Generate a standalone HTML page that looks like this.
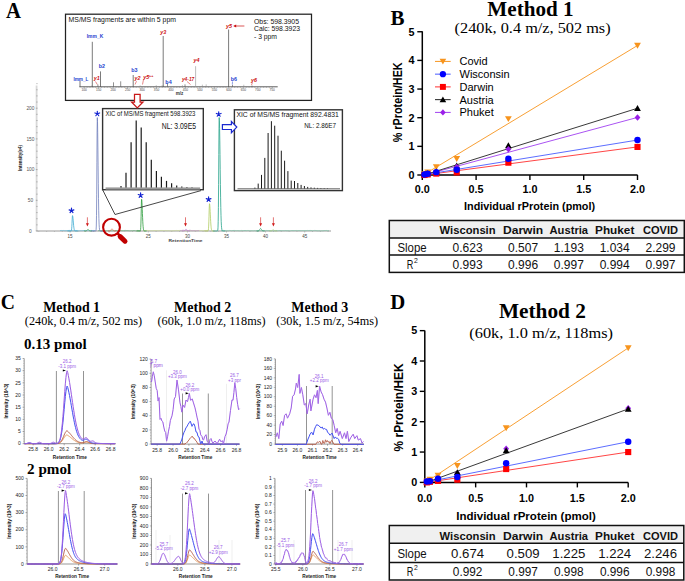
<!DOCTYPE html>
<html><head><meta charset="utf-8"><style>
html,body{margin:0;padding:0;background:#fff;width:685px;height:581px;overflow:hidden}
svg{display:block}
</style></head><body>
<svg width="685" height="581" viewBox="0 0 685 581">
<rect width="685" height="581" fill="#fff"/>
<text x="6.00" y="18.20" font-family="Liberation Serif" font-size="22.5" font-weight="bold" fill="#000" text-anchor="start" textLength="15.00" lengthAdjust="spacingAndGlyphs" >A</text>
<rect x="65.50" y="14.20" width="246.00" height="86.20" fill="#fff" stroke="#222" stroke-width="1.25" />
<text x="68.60" y="21.60" font-family="Liberation Sans" font-size="7.3" font-weight="normal" fill="#111" text-anchor="start" textLength="107.40" lengthAdjust="spacingAndGlyphs" >MS/MS fragments are within 5 ppm</text>
<text x="254.00" y="23.60" font-family="Liberation Sans" font-size="8" font-weight="normal" fill="#111" text-anchor="start" textLength="45.00" lengthAdjust="spacingAndGlyphs" >Obs: 598.3905</text>
<text x="254.00" y="31.30" font-family="Liberation Sans" font-size="8" font-weight="normal" fill="#111" text-anchor="start" textLength="46.00" lengthAdjust="spacingAndGlyphs" >Calc: 598.3923</text>
<text x="254.00" y="38.90" font-family="Liberation Sans" font-size="8" font-weight="normal" fill="#111" text-anchor="start" textLength="23.00" lengthAdjust="spacingAndGlyphs" >- 3 ppm</text>
<line x1="79.40" y1="86.80" x2="277.70" y2="86.80" stroke="#333" stroke-width="0.8" />
<line x1="84.20" y1="86.80" x2="84.20" y2="88.40" stroke="#777" stroke-width="0.5" />
<line x1="87.09" y1="86.80" x2="87.09" y2="87.70" stroke="#777" stroke-width="0.5" />
<line x1="89.99" y1="86.80" x2="89.99" y2="87.70" stroke="#777" stroke-width="0.5" />
<line x1="92.88" y1="86.80" x2="92.88" y2="87.70" stroke="#777" stroke-width="0.5" />
<line x1="95.77" y1="86.80" x2="95.77" y2="87.70" stroke="#777" stroke-width="0.5" />
<line x1="98.67" y1="86.80" x2="98.67" y2="88.40" stroke="#777" stroke-width="0.5" />
<line x1="101.56" y1="86.80" x2="101.56" y2="87.70" stroke="#777" stroke-width="0.5" />
<line x1="104.45" y1="86.80" x2="104.45" y2="87.70" stroke="#777" stroke-width="0.5" />
<line x1="107.34" y1="86.80" x2="107.34" y2="87.70" stroke="#777" stroke-width="0.5" />
<line x1="110.24" y1="86.80" x2="110.24" y2="87.70" stroke="#777" stroke-width="0.5" />
<line x1="113.13" y1="86.80" x2="113.13" y2="88.40" stroke="#777" stroke-width="0.5" />
<line x1="116.02" y1="86.80" x2="116.02" y2="87.70" stroke="#777" stroke-width="0.5" />
<line x1="118.92" y1="86.80" x2="118.92" y2="87.70" stroke="#777" stroke-width="0.5" />
<line x1="121.81" y1="86.80" x2="121.81" y2="87.70" stroke="#777" stroke-width="0.5" />
<line x1="124.70" y1="86.80" x2="124.70" y2="87.70" stroke="#777" stroke-width="0.5" />
<line x1="127.59" y1="86.80" x2="127.59" y2="88.40" stroke="#777" stroke-width="0.5" />
<line x1="130.49" y1="86.80" x2="130.49" y2="87.70" stroke="#777" stroke-width="0.5" />
<line x1="133.38" y1="86.80" x2="133.38" y2="87.70" stroke="#777" stroke-width="0.5" />
<line x1="136.27" y1="86.80" x2="136.27" y2="87.70" stroke="#777" stroke-width="0.5" />
<line x1="139.17" y1="86.80" x2="139.17" y2="87.70" stroke="#777" stroke-width="0.5" />
<line x1="142.06" y1="86.80" x2="142.06" y2="88.40" stroke="#777" stroke-width="0.5" />
<line x1="144.95" y1="86.80" x2="144.95" y2="87.70" stroke="#777" stroke-width="0.5" />
<line x1="147.85" y1="86.80" x2="147.85" y2="87.70" stroke="#777" stroke-width="0.5" />
<line x1="150.74" y1="86.80" x2="150.74" y2="87.70" stroke="#777" stroke-width="0.5" />
<line x1="153.63" y1="86.80" x2="153.63" y2="87.70" stroke="#777" stroke-width="0.5" />
<line x1="156.53" y1="86.80" x2="156.53" y2="88.40" stroke="#777" stroke-width="0.5" />
<line x1="159.42" y1="86.80" x2="159.42" y2="87.70" stroke="#777" stroke-width="0.5" />
<line x1="162.31" y1="86.80" x2="162.31" y2="87.70" stroke="#777" stroke-width="0.5" />
<line x1="165.20" y1="86.80" x2="165.20" y2="87.70" stroke="#777" stroke-width="0.5" />
<line x1="168.10" y1="86.80" x2="168.10" y2="87.70" stroke="#777" stroke-width="0.5" />
<line x1="170.99" y1="86.80" x2="170.99" y2="88.40" stroke="#777" stroke-width="0.5" />
<line x1="173.88" y1="86.80" x2="173.88" y2="87.70" stroke="#777" stroke-width="0.5" />
<line x1="176.78" y1="86.80" x2="176.78" y2="87.70" stroke="#777" stroke-width="0.5" />
<line x1="179.67" y1="86.80" x2="179.67" y2="87.70" stroke="#777" stroke-width="0.5" />
<line x1="182.56" y1="86.80" x2="182.56" y2="87.70" stroke="#777" stroke-width="0.5" />
<line x1="185.45" y1="86.80" x2="185.45" y2="88.40" stroke="#777" stroke-width="0.5" />
<line x1="188.35" y1="86.80" x2="188.35" y2="87.70" stroke="#777" stroke-width="0.5" />
<line x1="191.24" y1="86.80" x2="191.24" y2="87.70" stroke="#777" stroke-width="0.5" />
<line x1="194.13" y1="86.80" x2="194.13" y2="87.70" stroke="#777" stroke-width="0.5" />
<line x1="197.03" y1="86.80" x2="197.03" y2="87.70" stroke="#777" stroke-width="0.5" />
<line x1="199.92" y1="86.80" x2="199.92" y2="88.40" stroke="#777" stroke-width="0.5" />
<line x1="202.81" y1="86.80" x2="202.81" y2="87.70" stroke="#777" stroke-width="0.5" />
<line x1="205.71" y1="86.80" x2="205.71" y2="87.70" stroke="#777" stroke-width="0.5" />
<line x1="208.60" y1="86.80" x2="208.60" y2="87.70" stroke="#777" stroke-width="0.5" />
<line x1="211.49" y1="86.80" x2="211.49" y2="87.70" stroke="#777" stroke-width="0.5" />
<line x1="214.38" y1="86.80" x2="214.38" y2="88.40" stroke="#777" stroke-width="0.5" />
<line x1="217.28" y1="86.80" x2="217.28" y2="87.70" stroke="#777" stroke-width="0.5" />
<line x1="220.17" y1="86.80" x2="220.17" y2="87.70" stroke="#777" stroke-width="0.5" />
<line x1="223.06" y1="86.80" x2="223.06" y2="87.70" stroke="#777" stroke-width="0.5" />
<line x1="225.96" y1="86.80" x2="225.96" y2="87.70" stroke="#777" stroke-width="0.5" />
<line x1="228.85" y1="86.80" x2="228.85" y2="88.40" stroke="#777" stroke-width="0.5" />
<line x1="231.74" y1="86.80" x2="231.74" y2="87.70" stroke="#777" stroke-width="0.5" />
<line x1="234.64" y1="86.80" x2="234.64" y2="87.70" stroke="#777" stroke-width="0.5" />
<line x1="237.53" y1="86.80" x2="237.53" y2="87.70" stroke="#777" stroke-width="0.5" />
<line x1="240.42" y1="86.80" x2="240.42" y2="87.70" stroke="#777" stroke-width="0.5" />
<line x1="243.31" y1="86.80" x2="243.31" y2="88.40" stroke="#777" stroke-width="0.5" />
<line x1="246.21" y1="86.80" x2="246.21" y2="87.70" stroke="#777" stroke-width="0.5" />
<line x1="249.10" y1="86.80" x2="249.10" y2="87.70" stroke="#777" stroke-width="0.5" />
<line x1="251.99" y1="86.80" x2="251.99" y2="87.70" stroke="#777" stroke-width="0.5" />
<line x1="254.89" y1="86.80" x2="254.89" y2="87.70" stroke="#777" stroke-width="0.5" />
<line x1="257.78" y1="86.80" x2="257.78" y2="88.40" stroke="#777" stroke-width="0.5" />
<line x1="260.67" y1="86.80" x2="260.67" y2="87.70" stroke="#777" stroke-width="0.5" />
<line x1="263.57" y1="86.80" x2="263.57" y2="87.70" stroke="#777" stroke-width="0.5" />
<line x1="266.46" y1="86.80" x2="266.46" y2="87.70" stroke="#777" stroke-width="0.5" />
<line x1="269.35" y1="86.80" x2="269.35" y2="87.70" stroke="#777" stroke-width="0.5" />
<line x1="272.25" y1="86.80" x2="272.25" y2="88.40" stroke="#777" stroke-width="0.5" />
<text x="84.20" y="91.20" font-family="Liberation Sans" font-size="3.2" font-weight="normal" fill="#444" text-anchor="middle" >100</text>
<text x="98.67" y="91.20" font-family="Liberation Sans" font-size="3.2" font-weight="normal" fill="#444" text-anchor="middle" >150</text>
<text x="113.13" y="91.20" font-family="Liberation Sans" font-size="3.2" font-weight="normal" fill="#444" text-anchor="middle" >200</text>
<text x="127.59" y="91.20" font-family="Liberation Sans" font-size="3.2" font-weight="normal" fill="#444" text-anchor="middle" >250</text>
<text x="142.06" y="91.20" font-family="Liberation Sans" font-size="3.2" font-weight="normal" fill="#444" text-anchor="middle" >300</text>
<text x="156.53" y="91.20" font-family="Liberation Sans" font-size="3.2" font-weight="normal" fill="#444" text-anchor="middle" >350</text>
<text x="170.99" y="91.20" font-family="Liberation Sans" font-size="3.2" font-weight="normal" fill="#444" text-anchor="middle" >400</text>
<text x="185.45" y="91.20" font-family="Liberation Sans" font-size="3.2" font-weight="normal" fill="#444" text-anchor="middle" >450</text>
<text x="199.92" y="91.20" font-family="Liberation Sans" font-size="3.2" font-weight="normal" fill="#444" text-anchor="middle" >500</text>
<text x="214.38" y="91.20" font-family="Liberation Sans" font-size="3.2" font-weight="normal" fill="#444" text-anchor="middle" >550</text>
<text x="228.85" y="91.20" font-family="Liberation Sans" font-size="3.2" font-weight="normal" fill="#444" text-anchor="middle" >600</text>
<text x="243.31" y="91.20" font-family="Liberation Sans" font-size="3.2" font-weight="normal" fill="#444" text-anchor="middle" >650</text>
<text x="257.78" y="91.20" font-family="Liberation Sans" font-size="3.2" font-weight="normal" fill="#444" text-anchor="middle" >700</text>
<text x="272.25" y="91.20" font-family="Liberation Sans" font-size="3.2" font-weight="normal" fill="#444" text-anchor="middle" >750</text>
<text x="179.60" y="95.30" font-family="Liberation Sans" font-size="4.6" font-weight="bold" fill="#333" text-anchor="middle" >m/z</text>
<line x1="143.15" y1="86.80" x2="143.15" y2="86.79" stroke="#888" stroke-width="0.5" />
<line x1="206.93" y1="86.80" x2="206.93" y2="86.80" stroke="#888" stroke-width="0.5" />
<line x1="184.50" y1="86.80" x2="184.50" y2="86.68" stroke="#888" stroke-width="0.5" />
<line x1="91.31" y1="86.80" x2="91.31" y2="86.47" stroke="#888" stroke-width="0.5" />
<line x1="87.31" y1="86.80" x2="87.31" y2="86.60" stroke="#888" stroke-width="0.5" />
<line x1="93.62" y1="86.80" x2="93.62" y2="86.80" stroke="#888" stroke-width="0.5" />
<line x1="162.78" y1="86.80" x2="162.78" y2="85.39" stroke="#888" stroke-width="0.5" />
<line x1="104.14" y1="86.80" x2="104.14" y2="86.77" stroke="#888" stroke-width="0.5" />
<line x1="202.35" y1="86.80" x2="202.35" y2="84.67" stroke="#888" stroke-width="0.5" />
<line x1="192.54" y1="86.80" x2="192.54" y2="86.64" stroke="#888" stroke-width="0.5" />
<line x1="270.37" y1="86.80" x2="270.37" y2="86.80" stroke="#888" stroke-width="0.5" />
<line x1="247.40" y1="86.80" x2="247.40" y2="86.74" stroke="#888" stroke-width="0.5" />
<line x1="108.13" y1="86.80" x2="108.13" y2="86.80" stroke="#888" stroke-width="0.5" />
<line x1="140.15" y1="86.80" x2="140.15" y2="85.44" stroke="#888" stroke-width="0.5" />
<line x1="115.24" y1="86.80" x2="115.24" y2="86.31" stroke="#888" stroke-width="0.5" />
<line x1="204.59" y1="86.80" x2="204.59" y2="86.67" stroke="#888" stroke-width="0.5" />
<line x1="186.81" y1="86.80" x2="186.81" y2="86.80" stroke="#888" stroke-width="0.5" />
<line x1="91.62" y1="86.80" x2="91.62" y2="86.78" stroke="#888" stroke-width="0.5" />
<line x1="212.68" y1="86.80" x2="212.68" y2="86.60" stroke="#888" stroke-width="0.5" />
<line x1="141.26" y1="86.80" x2="141.26" y2="86.30" stroke="#888" stroke-width="0.5" />
<line x1="168.37" y1="86.80" x2="168.37" y2="86.73" stroke="#888" stroke-width="0.5" />
<line x1="234.90" y1="86.80" x2="234.90" y2="85.95" stroke="#888" stroke-width="0.5" />
<line x1="127.60" y1="86.80" x2="127.60" y2="86.33" stroke="#888" stroke-width="0.5" />
<line x1="182.41" y1="86.80" x2="182.41" y2="85.12" stroke="#888" stroke-width="0.5" />
<line x1="222.24" y1="86.80" x2="222.24" y2="86.74" stroke="#888" stroke-width="0.5" />
<line x1="271.13" y1="86.80" x2="271.13" y2="86.80" stroke="#888" stroke-width="0.5" />
<line x1="161.53" y1="86.80" x2="161.53" y2="85.71" stroke="#888" stroke-width="0.5" />
<line x1="109.64" y1="86.80" x2="109.64" y2="86.51" stroke="#888" stroke-width="0.5" />
<line x1="87.65" y1="86.80" x2="87.65" y2="86.05" stroke="#888" stroke-width="0.5" />
<line x1="229.09" y1="86.80" x2="229.09" y2="86.33" stroke="#888" stroke-width="0.5" />
<line x1="250.72" y1="86.80" x2="250.72" y2="86.72" stroke="#888" stroke-width="0.5" />
<line x1="215.58" y1="86.80" x2="215.58" y2="86.28" stroke="#888" stroke-width="0.5" />
<line x1="193.08" y1="86.80" x2="193.08" y2="86.56" stroke="#888" stroke-width="0.5" />
<line x1="243.79" y1="86.80" x2="243.79" y2="84.69" stroke="#888" stroke-width="0.5" />
<line x1="172.45" y1="86.80" x2="172.45" y2="86.07" stroke="#888" stroke-width="0.5" />
<line x1="91.83" y1="86.80" x2="91.83" y2="85.94" stroke="#888" stroke-width="0.5" />
<line x1="206.19" y1="86.80" x2="206.19" y2="84.35" stroke="#888" stroke-width="0.5" />
<line x1="240.28" y1="86.80" x2="240.28" y2="86.74" stroke="#888" stroke-width="0.5" />
<line x1="155.23" y1="86.80" x2="155.23" y2="86.05" stroke="#888" stroke-width="0.5" />
<line x1="84.40" y1="86.80" x2="84.40" y2="86.55" stroke="#888" stroke-width="0.5" />
<line x1="112.77" y1="86.80" x2="112.77" y2="86.80" stroke="#888" stroke-width="0.5" />
<line x1="91.50" y1="86.80" x2="91.50" y2="85.67" stroke="#888" stroke-width="0.5" />
<line x1="105.22" y1="86.80" x2="105.22" y2="86.76" stroke="#888" stroke-width="0.5" />
<line x1="156.24" y1="86.80" x2="156.24" y2="85.15" stroke="#888" stroke-width="0.5" />
<line x1="95.71" y1="86.80" x2="95.71" y2="86.57" stroke="#888" stroke-width="0.5" />
<line x1="80.00" y1="86.80" x2="80.00" y2="81.00" stroke="#333" stroke-width="0.65" />
<line x1="92.30" y1="86.80" x2="92.30" y2="41.80" stroke="#333" stroke-width="0.65" />
<line x1="100.50" y1="86.80" x2="100.50" y2="71.40" stroke="#333" stroke-width="0.65" />
<line x1="113.50" y1="86.80" x2="113.50" y2="82.30" stroke="#555" stroke-width="0.65" />
<line x1="120.70" y1="86.80" x2="120.70" y2="81.30" stroke="#555" stroke-width="0.65" />
<line x1="133.20" y1="86.80" x2="133.20" y2="75.00" stroke="#333" stroke-width="0.65" />
<line x1="163.20" y1="86.80" x2="163.20" y2="36.00" stroke="#333" stroke-width="0.65" />
<line x1="195.60" y1="86.80" x2="195.60" y2="66.20" stroke="#999" stroke-width="0.65" />
<line x1="228.60" y1="86.80" x2="228.60" y2="29.50" stroke="#333" stroke-width="0.65" />
<line x1="97.90" y1="86.80" x2="97.90" y2="84.50" stroke="#555" stroke-width="0.65" />
<line x1="167.50" y1="86.80" x2="167.50" y2="83.50" stroke="#555" stroke-width="0.65" />
<line x1="185.00" y1="86.80" x2="185.00" y2="84.30" stroke="#555" stroke-width="0.65" />
<line x1="232.50" y1="86.80" x2="232.50" y2="84.80" stroke="#555" stroke-width="0.65" />
<line x1="252.00" y1="86.80" x2="252.00" y2="85.50" stroke="#555" stroke-width="0.65" />
<text x="80.90" y="81.00" font-family="Liberation Sans" font-size="5.4" font-weight="bold" fill="#1f3fd0" text-anchor="middle" textLength="15.00" lengthAdjust="spacingAndGlyphs" >Imm_L</text>
<text x="96.80" y="80.40" font-family="Liberation Sans" font-size="5.4" font-weight="bold" fill="#cc1010" text-anchor="middle" font-style="italic">y1</text>
<line x1="95.50" y1="81.50" x2="97.30" y2="84.50" stroke="#cc1010" stroke-width="0.5" />
<text x="95.00" y="37.60" font-family="Liberation Sans" font-size="5.4" font-weight="bold" fill="#1f3fd0" text-anchor="middle" textLength="16.50" lengthAdjust="spacingAndGlyphs" >Imm_K</text>
<text x="101.90" y="68.30" font-family="Liberation Sans" font-size="5.4" font-weight="bold" fill="#1f3fd0" text-anchor="middle" >b2</text>
<text x="134.40" y="72.40" font-family="Liberation Sans" font-size="5.4" font-weight="bold" fill="#1f3fd0" text-anchor="middle" >b3</text>
<text x="137.40" y="80.10" font-family="Liberation Sans" font-size="5.4" font-weight="bold" fill="#cc1010" text-anchor="middle" font-style="italic">y2</text>
<line x1="136.50" y1="81.20" x2="135.00" y2="84.50" stroke="#cc1010" stroke-width="0.5" />
<text x="146.20" y="78.80" font-family="Liberation Sans" font-size="5.4" font-weight="bold" fill="#cc1010" text-anchor="middle" font-style="italic">y5</text>
<text x="151.20" y="76.60" font-family="Liberation Sans" font-size="3.6" font-weight="bold" fill="#cc1010" text-anchor="middle" >++</text>
<line x1="143.50" y1="79.50" x2="142.50" y2="84.50" stroke="#cc1010" stroke-width="0.5" />
<text x="163.20" y="33.50" font-family="Liberation Sans" font-size="5.4" font-weight="bold" fill="#cc1010" text-anchor="middle" font-style="italic">y3</text>
<text x="168.50" y="83.60" font-family="Liberation Sans" font-size="5.4" font-weight="bold" fill="#1f3fd0" text-anchor="middle" >b4</text>
<text x="188.10" y="80.50" font-family="Liberation Sans" font-size="5.4" font-weight="bold" fill="#cc1010" text-anchor="middle" textLength="12.30" lengthAdjust="spacingAndGlyphs" font-style="italic">y4-17</text>
<line x1="187.00" y1="81.50" x2="190.50" y2="84.50" stroke="#cc1010" stroke-width="0.5" />
<text x="196.60" y="62.10" font-family="Liberation Sans" font-size="5.4" font-weight="bold" fill="#cc1010" text-anchor="middle" font-style="italic">y4</text>
<text x="229.00" y="27.80" font-family="Liberation Sans" font-size="5.4" font-weight="bold" fill="#cc1010" text-anchor="middle" font-style="italic">y5</text>
<line x1="234.50" y1="26.00" x2="244.40" y2="26.00" stroke="#cc1010" stroke-width="0.7" />
<polygon points="233.20,26.00 236.20,24.60 236.20,27.40" fill="#cc1010" stroke="none" stroke-width="1" stroke-linejoin="miter" />
<text x="233.90" y="80.50" font-family="Liberation Sans" font-size="5.4" font-weight="bold" fill="#1f3fd0" text-anchor="middle" >b6</text>
<line x1="232.50" y1="81.50" x2="232.30" y2="84.50" stroke="#1f3fd0" stroke-width="0.5" />
<text x="254.00" y="81.60" font-family="Liberation Sans" font-size="5.4" font-weight="bold" fill="#cc1010" text-anchor="middle" font-style="italic">y6</text>
<line x1="252.50" y1="82.50" x2="251.50" y2="85.00" stroke="#cc1010" stroke-width="0.5" />
<line x1="36.60" y1="85.50" x2="36.60" y2="231.00" stroke="#d8d8d8" stroke-width="1.8" />
<line x1="35.80" y1="231.00" x2="37.60" y2="231.00" stroke="#777" stroke-width="0.5" />
<line x1="36.30" y1="224.86" x2="37.60" y2="224.86" stroke="#777" stroke-width="0.5" />
<line x1="36.30" y1="218.72" x2="37.60" y2="218.72" stroke="#777" stroke-width="0.5" />
<line x1="36.30" y1="212.58" x2="37.60" y2="212.58" stroke="#777" stroke-width="0.5" />
<line x1="36.30" y1="206.44" x2="37.60" y2="206.44" stroke="#777" stroke-width="0.5" />
<line x1="35.80" y1="200.30" x2="37.60" y2="200.30" stroke="#777" stroke-width="0.5" />
<line x1="36.30" y1="194.16" x2="37.60" y2="194.16" stroke="#777" stroke-width="0.5" />
<line x1="36.30" y1="188.02" x2="37.60" y2="188.02" stroke="#777" stroke-width="0.5" />
<line x1="36.30" y1="181.88" x2="37.60" y2="181.88" stroke="#777" stroke-width="0.5" />
<line x1="36.30" y1="175.74" x2="37.60" y2="175.74" stroke="#777" stroke-width="0.5" />
<line x1="35.80" y1="169.60" x2="37.60" y2="169.60" stroke="#777" stroke-width="0.5" />
<line x1="36.30" y1="163.46" x2="37.60" y2="163.46" stroke="#777" stroke-width="0.5" />
<line x1="36.30" y1="157.32" x2="37.60" y2="157.32" stroke="#777" stroke-width="0.5" />
<line x1="36.30" y1="151.18" x2="37.60" y2="151.18" stroke="#777" stroke-width="0.5" />
<line x1="36.30" y1="145.04" x2="37.60" y2="145.04" stroke="#777" stroke-width="0.5" />
<line x1="35.80" y1="138.90" x2="37.60" y2="138.90" stroke="#777" stroke-width="0.5" />
<line x1="36.30" y1="132.76" x2="37.60" y2="132.76" stroke="#777" stroke-width="0.5" />
<line x1="36.30" y1="126.62" x2="37.60" y2="126.62" stroke="#777" stroke-width="0.5" />
<line x1="36.30" y1="120.48" x2="37.60" y2="120.48" stroke="#777" stroke-width="0.5" />
<line x1="36.30" y1="114.34" x2="37.60" y2="114.34" stroke="#777" stroke-width="0.5" />
<line x1="35.80" y1="108.20" x2="37.60" y2="108.20" stroke="#777" stroke-width="0.5" />
<line x1="36.30" y1="102.06" x2="37.60" y2="102.06" stroke="#777" stroke-width="0.5" />
<line x1="36.30" y1="95.92" x2="37.60" y2="95.92" stroke="#777" stroke-width="0.5" />
<line x1="36.30" y1="89.78" x2="37.60" y2="89.78" stroke="#777" stroke-width="0.5" />
<line x1="36.30" y1="83.64" x2="37.60" y2="83.64" stroke="#777" stroke-width="0.5" />
<text x="30.40" y="232.70" font-family="Liberation Sans" font-size="4.8" font-weight="normal" fill="#555" text-anchor="middle" >0</text>
<text x="30.40" y="202.00" font-family="Liberation Sans" font-size="4.8" font-weight="normal" fill="#555" text-anchor="middle" >50</text>
<text x="30.40" y="171.30" font-family="Liberation Sans" font-size="4.8" font-weight="normal" fill="#555" text-anchor="middle" >100</text>
<text x="30.40" y="140.60" font-family="Liberation Sans" font-size="4.8" font-weight="normal" fill="#555" text-anchor="middle" >150</text>
<text x="30.40" y="109.90" font-family="Liberation Sans" font-size="4.8" font-weight="normal" fill="#555" text-anchor="middle" >200</text>
<line x1="36.60" y1="231.00" x2="331.00" y2="231.00" stroke="#999" stroke-width="1.0" />
<line x1="38.82" y1="231.00" x2="38.82" y2="231.90" stroke="#999" stroke-width="0.5" />
<line x1="46.64" y1="231.00" x2="46.64" y2="231.90" stroke="#999" stroke-width="0.5" />
<line x1="54.46" y1="231.00" x2="54.46" y2="231.90" stroke="#999" stroke-width="0.5" />
<line x1="62.28" y1="231.00" x2="62.28" y2="231.90" stroke="#999" stroke-width="0.5" />
<line x1="70.10" y1="231.00" x2="70.10" y2="232.60" stroke="#999" stroke-width="0.5" />
<line x1="77.92" y1="231.00" x2="77.92" y2="231.90" stroke="#999" stroke-width="0.5" />
<line x1="85.74" y1="231.00" x2="85.74" y2="231.90" stroke="#999" stroke-width="0.5" />
<line x1="93.56" y1="231.00" x2="93.56" y2="231.90" stroke="#999" stroke-width="0.5" />
<line x1="101.38" y1="231.00" x2="101.38" y2="231.90" stroke="#999" stroke-width="0.5" />
<line x1="109.20" y1="231.00" x2="109.20" y2="232.60" stroke="#999" stroke-width="0.5" />
<line x1="117.02" y1="231.00" x2="117.02" y2="231.90" stroke="#999" stroke-width="0.5" />
<line x1="124.84" y1="231.00" x2="124.84" y2="231.90" stroke="#999" stroke-width="0.5" />
<line x1="132.66" y1="231.00" x2="132.66" y2="231.90" stroke="#999" stroke-width="0.5" />
<line x1="140.48" y1="231.00" x2="140.48" y2="231.90" stroke="#999" stroke-width="0.5" />
<line x1="148.30" y1="231.00" x2="148.30" y2="232.60" stroke="#999" stroke-width="0.5" />
<line x1="156.12" y1="231.00" x2="156.12" y2="231.90" stroke="#999" stroke-width="0.5" />
<line x1="163.94" y1="231.00" x2="163.94" y2="231.90" stroke="#999" stroke-width="0.5" />
<line x1="171.76" y1="231.00" x2="171.76" y2="231.90" stroke="#999" stroke-width="0.5" />
<line x1="179.58" y1="231.00" x2="179.58" y2="231.90" stroke="#999" stroke-width="0.5" />
<line x1="187.40" y1="231.00" x2="187.40" y2="232.60" stroke="#999" stroke-width="0.5" />
<line x1="195.22" y1="231.00" x2="195.22" y2="231.90" stroke="#999" stroke-width="0.5" />
<line x1="203.04" y1="231.00" x2="203.04" y2="231.90" stroke="#999" stroke-width="0.5" />
<line x1="210.86" y1="231.00" x2="210.86" y2="231.90" stroke="#999" stroke-width="0.5" />
<line x1="218.68" y1="231.00" x2="218.68" y2="231.90" stroke="#999" stroke-width="0.5" />
<line x1="226.50" y1="231.00" x2="226.50" y2="232.60" stroke="#999" stroke-width="0.5" />
<line x1="234.32" y1="231.00" x2="234.32" y2="231.90" stroke="#999" stroke-width="0.5" />
<line x1="242.14" y1="231.00" x2="242.14" y2="231.90" stroke="#999" stroke-width="0.5" />
<line x1="249.96" y1="231.00" x2="249.96" y2="231.90" stroke="#999" stroke-width="0.5" />
<line x1="257.78" y1="231.00" x2="257.78" y2="231.90" stroke="#999" stroke-width="0.5" />
<line x1="265.60" y1="231.00" x2="265.60" y2="232.60" stroke="#999" stroke-width="0.5" />
<line x1="273.42" y1="231.00" x2="273.42" y2="231.90" stroke="#999" stroke-width="0.5" />
<line x1="281.24" y1="231.00" x2="281.24" y2="231.90" stroke="#999" stroke-width="0.5" />
<line x1="289.06" y1="231.00" x2="289.06" y2="231.90" stroke="#999" stroke-width="0.5" />
<line x1="296.88" y1="231.00" x2="296.88" y2="231.90" stroke="#999" stroke-width="0.5" />
<line x1="304.70" y1="231.00" x2="304.70" y2="232.60" stroke="#999" stroke-width="0.5" />
<line x1="312.52" y1="231.00" x2="312.52" y2="231.90" stroke="#999" stroke-width="0.5" />
<line x1="320.34" y1="231.00" x2="320.34" y2="231.90" stroke="#999" stroke-width="0.5" />
<line x1="328.16" y1="231.00" x2="328.16" y2="231.90" stroke="#999" stroke-width="0.5" />
<text x="70.10" y="237.80" font-family="Liberation Sans" font-size="4.5" font-weight="normal" fill="#444" text-anchor="middle" >15</text>
<text x="148.30" y="237.80" font-family="Liberation Sans" font-size="4.5" font-weight="normal" fill="#444" text-anchor="middle" >25</text>
<text x="187.40" y="237.80" font-family="Liberation Sans" font-size="4.5" font-weight="normal" fill="#444" text-anchor="middle" >30</text>
<text x="226.50" y="237.80" font-family="Liberation Sans" font-size="4.5" font-weight="normal" fill="#444" text-anchor="middle" >35</text>
<text x="265.60" y="237.80" font-family="Liberation Sans" font-size="4.5" font-weight="normal" fill="#444" text-anchor="middle" >40</text>
<text x="304.70" y="237.80" font-family="Liberation Sans" font-size="4.5" font-weight="normal" fill="#444" text-anchor="middle" >45</text>
<text x="185.50" y="241.80" font-family="Liberation Sans" font-size="4" font-weight="bold" fill="#444" text-anchor="middle" textLength="34.00" lengthAdjust="spacingAndGlyphs" >RetentionTime</text>
<text x="0" y="0" transform="translate(21.6,158) rotate(-90)" font-family="Liberation Sans" font-size="4.6" font-weight="bold" fill="#222" text-anchor="middle" textLength="26" lengthAdjust="spacingAndGlyphs">Intensity(e4)</text>
<polyline points="60.00,230.62 61.20,230.48 62.40,230.51 63.60,230.49 64.80,230.73 66.00,230.68 67.20,230.70 68.40,230.48 69.60,230.45 70.80,230.79 72.00,230.78 73.20,230.75 74.40,230.75 75.60,230.65 76.80,230.60 78.00,230.74 79.20,230.85 80.40,230.67 81.60,230.69 82.80,230.61 84.00,230.45 85.20,230.56 86.40,230.63 87.60,230.59 88.80,230.57 90.00,230.83 91.20,230.47 92.40,230.52 93.60,230.48 94.80,230.51" fill="none" stroke="#5ab8d8" stroke-width="0.6" stroke-linejoin="round" />
<polyline points="98.00,230.69 99.20,230.68 100.40,230.81 101.60,230.58 102.80,230.82 104.00,230.82 105.20,230.76 106.40,230.78 107.60,230.71 108.80,230.83 110.00,230.85 111.20,230.79 112.40,230.81 113.60,230.70 114.80,230.84 116.00,230.48 117.20,230.59 118.40,230.79 119.60,230.74 120.80,230.70 122.00,230.70 123.20,230.80 124.40,230.49 125.60,230.43 126.80,230.65 128.00,230.65 129.20,230.81 130.40,230.81 131.60,230.71 132.80,230.74 134.00,230.50 135.20,230.78 136.40,230.84 137.60,230.45 138.80,230.63 140.00,230.79" fill="none" stroke="#5aaa70" stroke-width="0.6" stroke-linejoin="round" />
<polyline points="143.00,230.62 144.20,230.84 145.40,230.63 146.60,230.44 147.80,230.49 149.00,230.56 150.20,230.74 151.40,230.70 152.60,230.78 153.80,230.53 155.00,230.63 156.20,230.52 157.40,230.71 158.60,230.76 159.80,230.51 161.00,230.44 162.20,230.49 163.40,230.51 164.60,230.51 165.80,230.54 167.00,230.75 168.20,230.63 169.40,230.70 170.60,230.84 171.80,230.84 173.00,230.73 174.20,230.74 175.40,230.56 176.60,230.45 177.80,230.66 179.00,230.46 180.20,230.44 181.40,230.45 182.60,230.70 183.80,230.76 185.00,230.75 186.20,230.77 187.40,230.76 188.60,230.59 189.80,230.47 191.00,230.50 192.20,230.65 193.40,230.58 194.60,230.51 195.80,230.81 197.00,230.57 198.20,230.47 199.40,230.52 200.60,230.53 201.80,230.65 203.00,230.78 204.20,230.52 205.40,230.71 206.60,230.51 207.80,230.44" fill="none" stroke="#c8d890" stroke-width="0.6" stroke-linejoin="round" />
<polyline points="221.00,230.68 222.20,230.68 223.40,230.45 224.60,230.55 225.80,230.78 227.00,230.80 228.20,230.79 229.40,230.47 230.60,230.51 231.80,230.79 233.00,230.50 234.20,230.44 235.40,230.57 236.60,230.70 237.80,230.62 239.00,230.79 240.20,230.84 241.40,230.44 242.60,230.58 243.80,230.63 245.00,230.46 246.20,230.67 247.40,230.48 248.60,230.50 249.80,230.76 251.00,230.74 252.20,230.73 253.40,230.75 254.60,230.60 255.80,230.74 257.00,230.67 258.20,230.79 259.40,230.47 260.60,230.70 261.80,230.66 263.00,230.60 264.20,230.47 265.40,230.67 266.60,230.46 267.80,230.64 269.00,230.63 270.20,230.63 271.40,230.84 272.60,230.67 273.80,230.77 275.00,230.85 276.20,230.51 277.40,230.78 278.60,230.65 279.80,230.55 281.00,230.62 282.20,230.71 283.40,230.63 284.60,230.62 285.80,230.52 287.00,230.81 288.20,230.61 289.40,230.75 290.60,230.73 291.80,230.53 293.00,230.64 294.20,230.61 295.40,230.53 296.60,230.47 297.80,230.66 299.00,230.59 300.20,230.64 301.40,230.63 302.60,230.56 303.80,230.66 305.00,230.63 306.20,230.65 307.40,230.45 308.60,230.56 309.80,230.48 311.00,230.45 312.20,230.74 313.40,230.62 314.60,230.45 315.80,230.50 317.00,230.79 318.20,230.80 319.40,230.66 320.60,230.82 321.80,230.75 323.00,230.82 324.20,230.57 325.40,230.52 326.60,230.47 327.80,230.79 329.00,230.55" fill="none" stroke="#70c0a0" stroke-width="0.6" stroke-linejoin="round" />
<polyline points="180.00,230.43 181.20,230.76 182.40,230.29 183.60,230.24 184.80,230.71 186.00,230.25 187.20,230.60 188.40,230.54 189.60,230.23 190.80,230.33 192.00,230.75 193.20,230.58 194.40,230.53 195.60,230.64 196.80,230.73 198.00,230.65 199.20,230.40" fill="none" stroke="#c090d0" stroke-width="0.6" stroke-linejoin="round" />
<polyline points="84.00,231.00 84.13,231.00 84.27,231.00 84.40,231.00 84.53,231.00 84.67,231.00 84.80,231.00 84.93,231.00 85.07,231.00 85.20,231.00 85.33,230.99 85.47,230.99 85.60,230.98 85.73,230.97 85.87,230.95 86.00,230.93 86.13,230.89 86.27,230.84 86.40,230.77 86.53,230.68 86.67,230.58 86.80,230.45 86.93,230.30 87.07,230.14 87.20,229.97 87.33,229.80 87.47,229.64 87.60,229.50 87.73,229.39 87.87,229.32 88.00,229.30 88.13,229.32 88.27,229.39 88.40,229.50 88.53,229.64 88.67,229.80 88.80,229.97 88.93,230.14 89.07,230.30 89.20,230.45 89.33,230.58 89.47,230.68 89.60,230.77 89.73,230.84 89.87,230.89 90.00,230.93 90.13,230.95 90.27,230.97 90.40,230.98 90.53,230.99 90.67,230.99 90.80,231.00 90.93,231.00 91.07,231.00 91.20,231.00 91.33,231.00 91.47,231.00 91.60,231.00 91.73,231.00 91.87,231.00 92.00,231.00" fill="none" stroke="#40a050" stroke-width="0.7" stroke-linejoin="round" />
<polyline points="108.00,231.00 108.13,231.00 108.27,231.00 108.40,231.00 108.53,231.00 108.67,231.00 108.80,231.00 108.93,231.00 109.07,231.00 109.20,231.00 109.33,230.99 109.47,230.99 109.60,230.98 109.73,230.96 109.87,230.94 110.00,230.90 110.13,230.86 110.27,230.79 110.40,230.70 110.53,230.59 110.67,230.45 110.80,230.29 110.93,230.10 111.07,229.89 111.20,229.67 111.33,229.45 111.47,229.24 111.60,229.06 111.73,228.92 111.87,228.83 112.00,228.80 112.13,228.83 112.27,228.92 112.40,229.06 112.53,229.24 112.67,229.45 112.80,229.67 112.93,229.89 113.07,230.10 113.20,230.29 113.33,230.45 113.47,230.59 113.60,230.70 113.73,230.79 113.87,230.86 114.00,230.90 114.13,230.94 114.27,230.96 114.40,230.98 114.53,230.99 114.67,230.99 114.80,231.00 114.93,231.00 115.07,231.00 115.20,231.00 115.33,231.00 115.47,231.00 115.60,231.00 115.73,231.00 115.87,231.00 116.00,231.00" fill="none" stroke="#e07050" stroke-width="0.7" stroke-linejoin="round" />
<polyline points="182.00,231.00 182.13,231.00 182.27,231.00 182.40,231.00 182.53,231.00 182.67,231.00 182.80,231.00 182.93,230.99 183.07,230.99 183.20,230.99 183.33,230.98 183.47,230.97 183.60,230.95 183.73,230.92 183.87,230.89 184.00,230.85 184.13,230.79 184.27,230.72 184.40,230.63 184.53,230.52 184.67,230.40 184.80,230.26 184.93,230.11 185.07,229.95 185.20,229.79 185.33,229.63 185.47,229.49 185.60,229.37 185.73,229.28 185.87,229.22 186.00,229.20 186.13,229.22 186.27,229.28 186.40,229.37 186.53,229.49 186.67,229.63 186.80,229.79 186.93,229.95 187.07,230.11 187.20,230.26 187.33,230.40 187.47,230.52 187.60,230.63 187.73,230.72 187.87,230.79 188.00,230.85 188.13,230.89 188.27,230.92 188.40,230.95 188.53,230.97 188.67,230.98 188.80,230.99 188.93,230.99 189.07,230.99 189.20,231.00 189.33,231.00 189.47,231.00 189.60,231.00 189.73,231.00 189.87,231.00 190.00,231.00" fill="none" stroke="#c080d0" stroke-width="0.7" stroke-linejoin="round" />
<polyline points="256.60,231.00 256.73,231.00 256.87,231.00 257.00,231.00 257.13,231.00 257.27,231.00 257.40,231.00 257.53,230.99 257.67,230.99 257.80,230.98 257.93,230.97 258.07,230.95 258.20,230.93 258.33,230.90 258.47,230.85 258.60,230.79 258.73,230.71 258.87,230.61 259.00,230.49 259.13,230.34 259.27,230.17 259.40,229.97 259.53,229.76 259.67,229.54 259.80,229.32 259.93,229.10 260.07,228.90 260.20,228.74 260.33,228.61 260.47,228.53 260.60,228.50 260.73,228.53 260.87,228.61 261.00,228.74 261.13,228.90 261.27,229.10 261.40,229.32 261.53,229.54 261.67,229.76 261.80,229.97 261.93,230.17 262.07,230.34 262.20,230.49 262.33,230.61 262.47,230.71 262.60,230.79 262.73,230.85 262.87,230.90 263.00,230.93 263.13,230.95 263.27,230.97 263.40,230.98 263.53,230.99 263.67,230.99 263.80,231.00 263.93,231.00 264.07,231.00 264.20,231.00 264.33,231.00 264.47,231.00 264.60,231.00" fill="none" stroke="#30a070" stroke-width="0.8" stroke-linejoin="round" />
<polyline points="269.20,231.00 269.33,231.00 269.47,231.00 269.60,231.00 269.73,231.00 269.87,231.00 270.00,231.00 270.13,231.00 270.27,231.00 270.40,231.00 270.53,230.99 270.67,230.99 270.80,230.98 270.93,230.97 271.07,230.96 271.20,230.94 271.33,230.91 271.47,230.87 271.60,230.81 271.73,230.74 271.87,230.65 272.00,230.55 272.13,230.42 272.27,230.29 272.40,230.15 272.53,230.01 272.67,229.88 272.80,229.76 272.93,229.68 273.07,229.62 273.20,229.60 273.33,229.62 273.47,229.68 273.60,229.76 273.73,229.88 273.87,230.01 274.00,230.15 274.13,230.29 274.27,230.42 274.40,230.55 274.53,230.65 274.67,230.74 274.80,230.81 274.93,230.87 275.07,230.91 275.20,230.94 275.33,230.96 275.47,230.97 275.60,230.98 275.73,230.99 275.87,230.99 276.00,231.00 276.13,231.00 276.27,231.00 276.40,231.00 276.53,231.00 276.67,231.00 276.80,231.00 276.93,231.00 277.07,231.00 277.20,231.00" fill="none" stroke="#b0d080" stroke-width="0.7" stroke-linejoin="round" />
<polyline points="67.50,231.00 67.67,231.00 67.83,231.00 68.00,231.00 68.17,231.00 68.33,231.00 68.50,231.00 68.67,231.00 68.83,231.00 69.00,231.00 69.17,231.00 69.33,231.00 69.50,231.00 69.67,231.00 69.83,231.00 70.00,231.00 70.17,231.00 70.33,231.00 70.50,231.00 70.67,231.00 70.83,230.99 71.00,230.97 71.17,230.90 71.33,230.67 71.50,230.10 71.67,228.85 71.83,226.63 72.00,223.42 72.17,219.76 72.33,216.77 72.50,215.60 72.67,215.93 72.83,216.89 73.00,218.34 73.17,220.14 73.33,222.07 73.50,223.98 73.67,225.71 73.83,227.19 74.00,228.37 74.17,229.26 74.33,229.90 74.50,230.33 74.67,230.61 74.83,230.79 75.00,230.89 75.17,230.94 75.33,230.97 75.50,230.99 75.67,230.99 75.83,231.00 76.00,231.00 76.17,231.00 76.33,231.00 76.50,231.00 76.67,231.00 76.83,231.00 77.00,231.00 77.17,231.00 77.33,231.00 77.50,231.00" fill="none" stroke="#3aaad0" stroke-width="0.8" stroke-linejoin="round" />
<polyline points="91.30,231.00 91.50,231.00 91.70,231.00 91.90,231.00 92.10,231.00 92.30,231.00 92.50,231.00 92.70,231.00 92.90,231.00 93.10,231.00 93.30,231.00 93.50,231.00 93.70,231.00 93.90,231.00 94.10,231.00 94.30,231.00 94.50,231.00 94.70,231.00 94.90,231.00 95.10,231.00 95.30,231.00 95.50,231.00 95.70,230.96 95.90,230.75 96.10,229.74 96.30,226.02 96.50,215.65 96.70,194.18 96.90,162.22 97.10,130.92 97.30,117.60 97.50,121.46 97.70,132.27 97.90,147.96 98.10,165.84 98.30,183.28 98.50,198.40 98.70,210.21 98.90,218.64 99.10,224.14 99.30,227.45 99.50,229.28 99.70,230.23 99.90,230.67 100.10,230.87 100.30,230.95 100.50,230.98 100.70,230.99 100.90,231.00 101.10,231.00 101.30,231.00 101.50,231.00 101.70,231.00 101.90,231.00 102.10,231.00 102.30,231.00 102.50,231.00 102.70,231.00 102.90,231.00 103.10,231.00 103.30,231.00" fill="none" stroke="#6878b8" stroke-width="0.75" stroke-linejoin="round" />
<polyline points="136.60,231.00 136.77,231.00 136.93,231.00 137.10,231.00 137.27,231.00 137.43,231.00 137.60,231.00 137.77,231.00 137.93,231.00 138.10,231.00 138.27,231.00 138.43,231.00 138.60,231.00 138.77,231.00 138.93,231.00 139.10,231.00 139.27,231.00 139.43,231.00 139.60,231.00 139.77,231.00 139.93,230.99 140.10,230.97 140.27,230.88 140.43,230.55 140.60,229.61 140.77,227.38 140.93,223.10 141.10,216.49 141.27,208.60 141.43,201.94 141.60,199.30 141.77,200.05 141.93,202.21 142.10,205.47 142.27,209.42 142.43,213.62 142.60,217.66 142.77,221.24 142.93,224.20 143.10,226.48 143.27,228.14 143.43,229.27 143.60,230.01 143.77,230.46 143.93,230.72 144.10,230.86 144.27,230.93 144.43,230.97 144.60,230.99 144.77,230.99 144.93,231.00 145.10,231.00 145.27,231.00 145.43,231.00 145.60,231.00 145.77,231.00 145.93,231.00 146.10,231.00 146.27,231.00 146.43,231.00 146.60,231.00" fill="none" stroke="#2a9a3a" stroke-width="0.8" stroke-linejoin="round" />
<polyline points="204.50,231.00 204.67,231.00 204.83,231.00 205.00,231.00 205.17,231.00 205.33,231.00 205.50,231.00 205.67,231.00 205.83,231.00 206.00,231.00 206.17,231.00 206.33,231.00 206.50,231.00 206.67,231.00 206.83,231.00 207.00,231.00 207.17,231.00 207.33,231.00 207.50,231.00 207.67,230.99 207.83,230.97 208.00,230.89 208.17,230.66 208.33,230.05 208.50,228.69 208.67,226.09 208.83,221.89 209.00,216.27 209.17,210.25 209.33,205.51 209.50,203.70 209.67,204.27 209.83,205.92 210.00,208.44 210.17,211.54 210.33,214.92 210.50,218.26 210.67,221.32 210.83,223.96 211.00,226.09 211.17,227.71 211.33,228.89 211.50,229.70 211.67,230.24 211.83,230.57 212.00,230.77 212.17,230.88 212.33,230.94 212.50,230.97 212.67,230.99 212.83,230.99 213.00,231.00 213.17,231.00 213.33,231.00 213.50,231.00 213.67,231.00 213.83,231.00 214.00,231.00 214.17,231.00 214.33,231.00 214.50,231.00" fill="none" stroke="#b0cc60" stroke-width="0.8" stroke-linejoin="round" />
<polyline points="213.20,231.00 213.40,231.00 213.60,231.00 213.80,231.00 214.00,231.00 214.20,231.00 214.40,231.00 214.60,231.00 214.80,231.00 215.00,231.00 215.20,231.00 215.40,231.00 215.60,231.00 215.80,231.00 216.00,231.00 216.20,231.00 216.40,231.00 216.60,231.00 216.80,231.00 217.00,231.00 217.20,230.99 217.40,230.96 217.60,230.80 217.80,230.10 218.00,227.76 218.20,221.39 218.40,207.63 218.60,184.34 218.80,154.54 219.00,128.17 219.20,117.50 219.40,120.27 219.60,128.17 219.80,140.12 220.00,154.54 220.20,169.78 220.40,184.34 220.60,197.15 220.80,207.63 221.00,215.64 221.20,221.39 221.40,225.28 221.60,227.76 221.80,229.25 222.00,230.10 222.20,230.56 222.40,230.80 222.60,230.91 222.80,230.96 223.00,230.98 223.20,230.99 223.40,231.00 223.60,231.00 223.80,231.00 224.00,231.00 224.20,231.00 224.40,231.00 224.60,231.00 224.80,231.00 225.00,231.00 225.20,231.00" fill="none" stroke="#30a890" stroke-width="0.85" stroke-linejoin="round" />
<path d="M71.50,210.60L71.50,208.10M71.50,210.60L73.88,209.83M71.50,210.60L72.97,212.62M71.50,210.60L70.03,212.62M71.50,210.60L69.12,209.83" stroke="#1020d0" stroke-width="1.15" stroke-linecap="round" fill="none"/>
<path d="M97.30,113.70L97.30,111.20M97.30,113.70L99.68,112.93M97.30,113.70L98.77,115.72M97.30,113.70L95.83,115.72M97.30,113.70L94.92,112.93" stroke="#1020d0" stroke-width="1.15" stroke-linecap="round" fill="none"/>
<path d="M140.60,195.30L140.60,192.80M140.60,195.30L142.98,194.53M140.60,195.30L142.07,197.32M140.60,195.30L139.13,197.32M140.60,195.30L138.22,194.53" stroke="#1020d0" stroke-width="1.15" stroke-linecap="round" fill="none"/>
<path d="M208.60,199.40L208.60,196.90M208.60,199.40L210.98,198.63M208.60,199.40L210.07,201.42M208.60,199.40L207.13,201.42M208.60,199.40L206.22,198.63" stroke="#1020d0" stroke-width="1.15" stroke-linecap="round" fill="none"/>
<path d="M218.70,114.20L218.70,111.70M218.70,114.20L221.08,113.43M218.70,114.20L220.17,116.22M218.70,114.20L217.23,116.22M218.70,114.20L216.32,113.43" stroke="#1020d0" stroke-width="1.15" stroke-linecap="round" fill="none"/>
<line x1="87.40" y1="217.30" x2="87.40" y2="224.00" stroke="#d01818" stroke-width="0.6" />
<polygon points="85.90,223.20 88.90,223.20 87.40,226.60" fill="#d01818" stroke="none" stroke-width="1" stroke-linejoin="miter" />
<line x1="185.50" y1="217.30" x2="185.50" y2="224.00" stroke="#d01818" stroke-width="0.6" />
<polygon points="184.00,223.20 187.00,223.20 185.50,226.60" fill="#d01818" stroke="none" stroke-width="1" stroke-linejoin="miter" />
<line x1="260.60" y1="217.30" x2="260.60" y2="224.00" stroke="#d01818" stroke-width="0.6" />
<polygon points="259.10,223.20 262.10,223.20 260.60,226.60" fill="#d01818" stroke="none" stroke-width="1" stroke-linejoin="miter" />
<line x1="273.40" y1="217.30" x2="273.40" y2="224.00" stroke="#d01818" stroke-width="0.6" />
<polygon points="271.90,223.20 274.90,223.20 273.40,226.60" fill="#d01818" stroke="none" stroke-width="1" stroke-linejoin="miter" />
<polyline points="102.60,189.70 115.00,214.50 201.00,190.60" fill="none" stroke="#333" stroke-width="0.9" stroke-linejoin="round" />
<rect x="102.60" y="108.60" width="100.70" height="81.10" fill="#fff" stroke="#333" stroke-width="1.4" />
<text x="105.40" y="116.00" font-family="Liberation Sans" font-size="7.2" font-weight="normal" fill="#111" text-anchor="start" textLength="90.00" lengthAdjust="spacingAndGlyphs" >XIC of MS/MS fragment 598.3923</text>
<text x="161.80" y="129.20" font-family="Liberation Sans" font-size="8.2" font-weight="normal" fill="#111" text-anchor="start" textLength="34.20" lengthAdjust="spacingAndGlyphs" >NL: 3.09E5</text>
<line x1="121.00" y1="188.00" x2="121.00" y2="186.00" stroke="#1a1a1a" stroke-width="1.2" />
<line x1="126.00" y1="188.00" x2="126.00" y2="172.80" stroke="#1a1a1a" stroke-width="1.2" />
<line x1="131.10" y1="188.00" x2="131.10" y2="142.30" stroke="#1a1a1a" stroke-width="1.2" />
<line x1="136.20" y1="188.00" x2="136.20" y2="120.50" stroke="#1a1a1a" stroke-width="1.2" />
<line x1="141.20" y1="188.00" x2="141.20" y2="127.40" stroke="#1a1a1a" stroke-width="1.2" />
<line x1="146.20" y1="188.00" x2="146.20" y2="142.30" stroke="#1a1a1a" stroke-width="1.2" />
<line x1="151.30" y1="188.00" x2="151.30" y2="159.80" stroke="#1a1a1a" stroke-width="1.2" />
<line x1="156.40" y1="188.00" x2="156.40" y2="171.00" stroke="#1a1a1a" stroke-width="1.2" />
<line x1="161.40" y1="188.00" x2="161.40" y2="176.80" stroke="#1a1a1a" stroke-width="1.2" />
<line x1="166.50" y1="188.00" x2="166.50" y2="180.90" stroke="#1a1a1a" stroke-width="1.2" />
<line x1="171.60" y1="188.00" x2="171.60" y2="183.30" stroke="#1a1a1a" stroke-width="1.2" />
<line x1="176.70" y1="188.00" x2="176.70" y2="185.40" stroke="#1a1a1a" stroke-width="1.2" />
<line x1="181.80" y1="188.00" x2="181.80" y2="186.40" stroke="#1a1a1a" stroke-width="1.2" />
<line x1="186.90" y1="188.00" x2="186.90" y2="187.00" stroke="#1a1a1a" stroke-width="1.2" />
<line x1="192.00" y1="188.00" x2="192.00" y2="187.30" stroke="#1a1a1a" stroke-width="1.2" />
<rect x="105.60" y="187.40" width="94.60" height="2.20" fill="#9a9a9a" stroke="none" stroke-width="1" />
<rect x="234.40" y="109.80" width="108.00" height="80.80" fill="#fff" stroke="#333" stroke-width="1.4" />
<text x="236.40" y="117.20" font-family="Liberation Sans" font-size="7.2" font-weight="normal" fill="#111" text-anchor="start" textLength="102.40" lengthAdjust="spacingAndGlyphs" >XIC of MS/MS fragment 892.4831</text>
<text x="304.30" y="128.20" font-family="Liberation Sans" font-size="7.4" font-weight="normal" fill="#111" text-anchor="start" textLength="31.70" lengthAdjust="spacingAndGlyphs" >NL: 2.86E7</text>
<line x1="254.90" y1="188.80" x2="254.90" y2="187.60" stroke="#1a1a1a" stroke-width="1.0" />
<line x1="258.20" y1="188.80" x2="258.20" y2="183.60" stroke="#1a1a1a" stroke-width="1.0" />
<line x1="261.50" y1="188.80" x2="261.50" y2="174.90" stroke="#1a1a1a" stroke-width="1.0" />
<line x1="264.80" y1="188.80" x2="264.80" y2="157.90" stroke="#1a1a1a" stroke-width="1.0" />
<line x1="268.10" y1="188.80" x2="268.10" y2="133.00" stroke="#1a1a1a" stroke-width="1.0" />
<line x1="271.40" y1="188.80" x2="271.40" y2="121.20" stroke="#1a1a1a" stroke-width="1.0" />
<line x1="274.70" y1="188.80" x2="274.70" y2="125.70" stroke="#1a1a1a" stroke-width="1.0" />
<line x1="278.00" y1="188.80" x2="278.00" y2="135.70" stroke="#1a1a1a" stroke-width="1.0" />
<line x1="281.30" y1="188.80" x2="281.30" y2="150.70" stroke="#1a1a1a" stroke-width="1.0" />
<line x1="284.60" y1="188.80" x2="284.60" y2="160.70" stroke="#1a1a1a" stroke-width="1.0" />
<line x1="287.90" y1="188.80" x2="287.90" y2="171.10" stroke="#1a1a1a" stroke-width="1.0" />
<line x1="291.20" y1="188.80" x2="291.20" y2="180.60" stroke="#1a1a1a" stroke-width="1.0" />
<line x1="294.50" y1="188.80" x2="294.50" y2="181.00" stroke="#1a1a1a" stroke-width="1.0" />
<line x1="297.80" y1="188.80" x2="297.80" y2="183.00" stroke="#1a1a1a" stroke-width="1.0" />
<line x1="301.10" y1="188.80" x2="301.10" y2="184.90" stroke="#1a1a1a" stroke-width="1.0" />
<line x1="304.40" y1="188.80" x2="304.40" y2="186.00" stroke="#1a1a1a" stroke-width="1.0" />
<line x1="307.70" y1="188.80" x2="307.70" y2="186.90" stroke="#1a1a1a" stroke-width="1.0" />
<line x1="311.00" y1="188.80" x2="311.00" y2="187.40" stroke="#1a1a1a" stroke-width="1.0" />
<line x1="314.30" y1="188.80" x2="314.30" y2="187.70" stroke="#1a1a1a" stroke-width="1.0" />
<line x1="317.60" y1="188.80" x2="317.60" y2="187.90" stroke="#1a1a1a" stroke-width="1.0" />
<line x1="320.90" y1="188.80" x2="320.90" y2="188.10" stroke="#1a1a1a" stroke-width="1.0" />
<line x1="324.20" y1="188.80" x2="324.20" y2="188.20" stroke="#1a1a1a" stroke-width="1.0" />
<line x1="327.50" y1="188.80" x2="327.50" y2="188.30" stroke="#1a1a1a" stroke-width="1.0" />
<line x1="237.50" y1="188.80" x2="340.00" y2="188.80" stroke="#555" stroke-width="0.9" />
<polygon points="134.50,94.40 140.10,94.40 140.10,102.00 143.00,102.00 137.30,107.90 131.60,102.00 134.50,102.00" fill="#fff" stroke="#c81818" stroke-width="1.25" stroke-linejoin="miter" />
<polygon points="222.40,124.60 231.40,124.60 231.40,121.50 236.80,127.10 231.40,132.70 231.40,129.50 222.40,129.50" fill="#fff" stroke="#1a28d0" stroke-width="1.2" stroke-linejoin="miter" />
<circle cx="111.5" cy="227.2" r="8.4" fill="none" stroke="#c00000" stroke-width="2.1"/>
<line x1="117.40" y1="233.10" x2="120.50" y2="236.60" stroke="#c00000" stroke-width="2.6" />
<line x1="120.20" y1="236.60" x2="125.00" y2="241.20" stroke="#c00000" stroke-width="5.0" stroke-linecap="round"/>
<text x="390.40" y="25.00" font-family="Liberation Serif" font-size="20.5" font-weight="bold" fill="#000" text-anchor="start" textLength="14.00" lengthAdjust="spacingAndGlyphs" >B</text>
<text x="487.30" y="16.20" font-family="Liberation Serif" font-size="21" font-weight="bold" fill="#000" text-anchor="start" textLength="86.30" lengthAdjust="spacingAndGlyphs" >Method 1</text>
<text x="454.60" y="32.80" font-family="Liberation Serif" font-size="15" font-weight="normal" fill="#000" text-anchor="start" textLength="156.00" lengthAdjust="spacingAndGlyphs" >(240k, 0.4 m/z, 502 ms)</text>
<line x1="422.30" y1="31.30" x2="422.30" y2="175.75" stroke="#000" stroke-width="1.5" />
<line x1="421.55" y1="175.00" x2="637.60" y2="175.00" stroke="#000" stroke-width="1.5" />
<line x1="417.30" y1="175.00" x2="422.30" y2="175.00" stroke="#000" stroke-width="1.4" />
<text x="414.50" y="178.80" font-family="Liberation Sans" font-size="10.8" font-weight="bold" fill="#000" text-anchor="end" >0</text>
<line x1="417.30" y1="146.35" x2="422.30" y2="146.35" stroke="#000" stroke-width="1.4" />
<text x="414.50" y="150.15" font-family="Liberation Sans" font-size="10.8" font-weight="bold" fill="#000" text-anchor="end" >1</text>
<line x1="417.30" y1="117.70" x2="422.30" y2="117.70" stroke="#000" stroke-width="1.4" />
<text x="414.50" y="121.50" font-family="Liberation Sans" font-size="10.8" font-weight="bold" fill="#000" text-anchor="end" >2</text>
<line x1="417.30" y1="89.05" x2="422.30" y2="89.05" stroke="#000" stroke-width="1.4" />
<text x="414.50" y="92.85" font-family="Liberation Sans" font-size="10.8" font-weight="bold" fill="#000" text-anchor="end" >3</text>
<line x1="417.30" y1="60.40" x2="422.30" y2="60.40" stroke="#000" stroke-width="1.4" />
<text x="414.50" y="64.20" font-family="Liberation Sans" font-size="10.8" font-weight="bold" fill="#000" text-anchor="end" >4</text>
<line x1="417.30" y1="31.75" x2="422.30" y2="31.75" stroke="#000" stroke-width="1.4" />
<text x="414.50" y="35.55" font-family="Liberation Sans" font-size="10.8" font-weight="bold" fill="#000" text-anchor="end" >5</text>
<line x1="422.30" y1="175.00" x2="422.30" y2="180.00" stroke="#000" stroke-width="1.4" />
<text x="422.30" y="193.30" font-family="Liberation Sans" font-size="10.8" font-weight="bold" fill="#000" text-anchor="middle" >0.0</text>
<line x1="476.10" y1="175.00" x2="476.10" y2="180.00" stroke="#000" stroke-width="1.4" />
<text x="476.10" y="193.30" font-family="Liberation Sans" font-size="10.8" font-weight="bold" fill="#000" text-anchor="middle" >0.5</text>
<line x1="529.90" y1="175.00" x2="529.90" y2="180.00" stroke="#000" stroke-width="1.4" />
<text x="529.90" y="193.30" font-family="Liberation Sans" font-size="10.8" font-weight="bold" fill="#000" text-anchor="middle" >1.0</text>
<line x1="583.70" y1="175.00" x2="583.70" y2="180.00" stroke="#000" stroke-width="1.4" />
<text x="583.70" y="193.30" font-family="Liberation Sans" font-size="10.8" font-weight="bold" fill="#000" text-anchor="middle" >1.5</text>
<line x1="637.50" y1="175.00" x2="637.50" y2="180.00" stroke="#000" stroke-width="1.4" />
<text x="637.50" y="193.30" font-family="Liberation Sans" font-size="10.8" font-weight="bold" fill="#000" text-anchor="middle" >2.0</text>
<text x="529.60" y="209.90" font-family="Liberation Sans" font-size="11.6" font-weight="bold" fill="#000" text-anchor="middle" textLength="131.00" lengthAdjust="spacingAndGlyphs" >Individual rProtein (pmol)</text>
<text x="0" y="0" transform="translate(402.3,102.3) rotate(-90)" font-family="Liberation Sans" font-size="12.4" font-weight="bold" fill="#000" text-anchor="middle" textLength="80" lengthAdjust="spacingAndGlyphs">% rProtein/HEK</text>
<line x1="424.45" y1="175.00" x2="637.50" y2="146.92" stroke="#ff3030" stroke-width="0.9" />
<line x1="424.45" y1="174.65" x2="637.50" y2="140.05" stroke="#4a5cff" stroke-width="0.9" />
<line x1="424.45" y1="174.99" x2="637.50" y2="117.41" stroke="#a040f0" stroke-width="0.9" />
<line x1="424.45" y1="174.90" x2="637.50" y2="108.25" stroke="#222" stroke-width="0.9" />
<line x1="424.45" y1="174.27" x2="637.50" y2="45.50" stroke="#f7941d" stroke-width="0.9" />
<polygon points="421.05,171.13 427.85,171.13 424.45,177.08" fill="#f7941d" stroke="none" stroke-width="1" stroke-linejoin="miter" />
<polygon points="424.28,169.41 431.08,169.41 427.68,175.36" fill="#f7941d" stroke="none" stroke-width="1" stroke-linejoin="miter" />
<polygon points="432.89,164.26 439.69,164.26 436.29,170.21" fill="#f7941d" stroke="none" stroke-width="1" stroke-linejoin="miter" />
<polygon points="453.33,155.95 460.13,155.95 456.73,161.90" fill="#f7941d" stroke="none" stroke-width="1" stroke-linejoin="miter" />
<polygon points="504.98,116.13 511.78,116.13 508.38,122.08" fill="#f7941d" stroke="none" stroke-width="1" stroke-linejoin="miter" />
<polygon points="634.10,42.78 640.90,42.78 637.50,48.73" fill="#f7941d" stroke="none" stroke-width="1" stroke-linejoin="miter" />
<polygon points="421.05,177.15 427.85,177.15 424.45,171.20" fill="#000000" stroke="none" stroke-width="1" stroke-linejoin="miter" />
<polygon points="424.28,176.29 431.08,176.29 427.68,170.34" fill="#000000" stroke="none" stroke-width="1" stroke-linejoin="miter" />
<polygon points="432.89,174.28 439.69,174.28 436.29,168.33" fill="#000000" stroke="none" stroke-width="1" stroke-linejoin="miter" />
<polygon points="453.33,168.55 460.13,168.55 456.73,162.60" fill="#000000" stroke="none" stroke-width="1" stroke-linejoin="miter" />
<polygon points="504.98,148.21 511.78,148.21 508.38,142.26" fill="#000000" stroke="none" stroke-width="1" stroke-linejoin="miter" />
<polygon points="634.10,110.97 640.90,110.97 637.50,105.02" fill="#000000" stroke="none" stroke-width="1" stroke-linejoin="miter" />
<polygon points="424.45,171.20 427.34,174.43 424.45,177.66 421.56,174.43" fill="#9b1fe8" stroke="none" stroke-width="1" stroke-linejoin="miter" />
<polygon points="427.68,170.62 430.57,173.85 427.68,177.08 424.79,173.85" fill="#9b1fe8" stroke="none" stroke-width="1" stroke-linejoin="miter" />
<polygon points="436.29,168.91 439.18,172.13 436.29,175.36 433.40,172.13" fill="#9b1fe8" stroke="none" stroke-width="1" stroke-linejoin="miter" />
<polygon points="456.73,163.75 459.62,166.98 456.73,170.21 453.84,166.98" fill="#9b1fe8" stroke="none" stroke-width="1" stroke-linejoin="miter" />
<polygon points="508.38,145.99 511.27,149.22 508.38,152.44 505.49,149.22" fill="#9b1fe8" stroke="none" stroke-width="1" stroke-linejoin="miter" />
<polygon points="637.50,114.18 640.39,117.41 637.50,120.64 634.61,117.41" fill="#9b1fe8" stroke="none" stroke-width="1" stroke-linejoin="miter" />
<rect x="421.39" y="171.94" width="6.12" height="6.12" fill="#ff0000" stroke="none" stroke-width="1" />
<rect x="424.62" y="171.37" width="6.12" height="6.12" fill="#ff0000" stroke="none" stroke-width="1" />
<rect x="433.23" y="170.51" width="6.12" height="6.12" fill="#ff0000" stroke="none" stroke-width="1" />
<rect x="453.67" y="169.36" width="6.12" height="6.12" fill="#ff0000" stroke="none" stroke-width="1" />
<rect x="505.32" y="159.62" width="6.12" height="6.12" fill="#ff0000" stroke="none" stroke-width="1" />
<rect x="634.44" y="143.86" width="6.12" height="6.12" fill="#ff0000" stroke="none" stroke-width="1" />
<circle cx="424.45" cy="174.43" r="3.23" fill="#0000ff"/>
<circle cx="427.68" cy="173.85" r="3.23" fill="#0000ff"/>
<circle cx="436.29" cy="172.13" r="3.23" fill="#0000ff"/>
<circle cx="456.73" cy="169.84" r="3.23" fill="#0000ff"/>
<circle cx="508.38" cy="158.67" r="3.23" fill="#0000ff"/>
<circle cx="637.50" cy="140.05" r="3.23" fill="#0000ff"/>
<line x1="435.00" y1="61.40" x2="450.70" y2="61.40" stroke="#f7941d" stroke-width="1.0" />
<polygon points="439.60,58.76 446.20,58.76 442.90,64.53" fill="#f7941d" stroke="none" stroke-width="1" stroke-linejoin="miter" />
<text x="459.50" y="65.30" font-family="Liberation Sans" font-size="11.0" font-weight="normal" fill="#000" text-anchor="start" >Covid</text>
<line x1="435.00" y1="74.15" x2="450.70" y2="74.15" stroke="#4a5cff" stroke-width="1.0" />
<circle cx="442.90" cy="74.15" r="3.13" fill="#0000ff"/>
<text x="459.50" y="78.05" font-family="Liberation Sans" font-size="11.0" font-weight="normal" fill="#000" text-anchor="start" >Wisconsin</text>
<line x1="435.00" y1="86.90" x2="450.70" y2="86.90" stroke="#ff3030" stroke-width="1.0" />
<rect x="439.93" y="83.93" width="5.94" height="5.94" fill="#ff0000" stroke="none" stroke-width="1" />
<text x="459.50" y="90.80" font-family="Liberation Sans" font-size="11.0" font-weight="normal" fill="#000" text-anchor="start" >Darwin</text>
<line x1="435.00" y1="99.65" x2="450.70" y2="99.65" stroke="#222" stroke-width="1.0" />
<polygon points="439.60,102.29 446.20,102.29 442.90,96.52" fill="#000000" stroke="none" stroke-width="1" stroke-linejoin="miter" />
<text x="459.50" y="103.55" font-family="Liberation Sans" font-size="11.0" font-weight="normal" fill="#000" text-anchor="start" >Austria</text>
<line x1="435.00" y1="112.40" x2="450.70" y2="112.40" stroke="#a040f0" stroke-width="1.0" />
<polygon points="442.90,109.27 445.70,112.40 442.90,115.54 440.09,112.40" fill="#9b1fe8" stroke="none" stroke-width="1" stroke-linejoin="miter" />
<text x="459.50" y="116.30" font-family="Liberation Sans" font-size="11.0" font-weight="normal" fill="#000" text-anchor="start" >Phuket</text>
<text x="390.20" y="308.80" font-family="Liberation Serif" font-size="20.5" font-weight="bold" fill="#000" text-anchor="start" textLength="15.00" lengthAdjust="spacingAndGlyphs" >D</text>
<text x="498.90" y="318.40" font-family="Liberation Serif" font-size="20" font-weight="bold" fill="#000" text-anchor="start" textLength="87.00" lengthAdjust="spacingAndGlyphs" >Method 2</text>
<text x="469.30" y="337.70" font-family="Liberation Serif" font-size="15" font-weight="normal" fill="#000" text-anchor="start" textLength="143.70" lengthAdjust="spacingAndGlyphs" >(60k, 1.0 m/z, 118ms)</text>
<line x1="424.80" y1="330.50" x2="424.80" y2="483.15" stroke="#000" stroke-width="1.5" />
<line x1="424.05" y1="482.40" x2="628.20" y2="482.40" stroke="#000" stroke-width="1.5" />
<line x1="419.80" y1="482.40" x2="424.80" y2="482.40" stroke="#000" stroke-width="1.4" />
<text x="417.30" y="486.20" font-family="Liberation Sans" font-size="10.8" font-weight="bold" fill="#000" text-anchor="end" >0</text>
<line x1="419.80" y1="452.05" x2="424.80" y2="452.05" stroke="#000" stroke-width="1.4" />
<text x="417.30" y="455.85" font-family="Liberation Sans" font-size="10.8" font-weight="bold" fill="#000" text-anchor="end" >1</text>
<line x1="419.80" y1="421.70" x2="424.80" y2="421.70" stroke="#000" stroke-width="1.4" />
<text x="417.30" y="425.50" font-family="Liberation Sans" font-size="10.8" font-weight="bold" fill="#000" text-anchor="end" >2</text>
<line x1="419.80" y1="391.35" x2="424.80" y2="391.35" stroke="#000" stroke-width="1.4" />
<text x="417.30" y="395.15" font-family="Liberation Sans" font-size="10.8" font-weight="bold" fill="#000" text-anchor="end" >3</text>
<line x1="419.80" y1="361.00" x2="424.80" y2="361.00" stroke="#000" stroke-width="1.4" />
<text x="417.30" y="364.80" font-family="Liberation Sans" font-size="10.8" font-weight="bold" fill="#000" text-anchor="end" >4</text>
<line x1="419.80" y1="330.65" x2="424.80" y2="330.65" stroke="#000" stroke-width="1.4" />
<text x="417.30" y="334.45" font-family="Liberation Sans" font-size="10.8" font-weight="bold" fill="#000" text-anchor="end" >5</text>
<line x1="424.80" y1="482.40" x2="424.80" y2="487.40" stroke="#000" stroke-width="1.4" />
<text x="424.80" y="501.80" font-family="Liberation Sans" font-size="10.8" font-weight="bold" fill="#000" text-anchor="middle" >0.0</text>
<line x1="475.65" y1="482.40" x2="475.65" y2="487.40" stroke="#000" stroke-width="1.4" />
<text x="475.65" y="501.80" font-family="Liberation Sans" font-size="10.8" font-weight="bold" fill="#000" text-anchor="middle" >0.5</text>
<line x1="526.50" y1="482.40" x2="526.50" y2="487.40" stroke="#000" stroke-width="1.4" />
<text x="526.50" y="501.80" font-family="Liberation Sans" font-size="10.8" font-weight="bold" fill="#000" text-anchor="middle" >1.0</text>
<line x1="577.35" y1="482.40" x2="577.35" y2="487.40" stroke="#000" stroke-width="1.4" />
<text x="577.35" y="501.80" font-family="Liberation Sans" font-size="10.8" font-weight="bold" fill="#000" text-anchor="middle" >1.5</text>
<line x1="628.20" y1="482.40" x2="628.20" y2="487.40" stroke="#000" stroke-width="1.4" />
<text x="628.20" y="501.80" font-family="Liberation Sans" font-size="10.8" font-weight="bold" fill="#000" text-anchor="middle" >2.0</text>
<text x="526.00" y="519.50" font-family="Liberation Sans" font-size="11.6" font-weight="bold" fill="#000" text-anchor="middle" textLength="139.50" lengthAdjust="spacingAndGlyphs" >Individual rProtein (pmol)</text>
<text x="0" y="0" transform="translate(403.4,407.4) rotate(-90)" font-family="Liberation Sans" font-size="12.4" font-weight="bold" fill="#000" text-anchor="middle" textLength="88" lengthAdjust="spacingAndGlyphs">% rProtein/HEK</text>
<line x1="426.83" y1="482.40" x2="628.20" y2="452.05" stroke="#ff3030" stroke-width="0.9" />
<line x1="426.83" y1="481.99" x2="628.20" y2="441.73" stroke="#4a5cff" stroke-width="0.9" />
<line x1="426.83" y1="482.27" x2="628.20" y2="408.95" stroke="#222" stroke-width="0.9" />
<line x1="426.83" y1="481.66" x2="628.20" y2="347.95" stroke="#f7941d" stroke-width="0.9" />
<polygon points="423.43,478.47 430.23,478.47 426.83,484.42" fill="#f7941d" stroke="none" stroke-width="1" stroke-linejoin="miter" />
<polygon points="426.49,476.64 433.28,476.64 429.88,482.59" fill="#f7941d" stroke="none" stroke-width="1" stroke-linejoin="miter" />
<polygon points="434.62,472.70 441.42,472.70 438.02,478.65" fill="#f7941d" stroke="none" stroke-width="1" stroke-linejoin="miter" />
<polygon points="453.94,462.99 460.74,462.99 457.34,468.94" fill="#f7941d" stroke="none" stroke-width="1" stroke-linejoin="miter" />
<polygon points="502.76,425.35 509.56,425.35 506.16,431.30" fill="#f7941d" stroke="none" stroke-width="1" stroke-linejoin="miter" />
<polygon points="624.80,345.23 631.60,345.23 628.20,351.18" fill="#f7941d" stroke="none" stroke-width="1" stroke-linejoin="miter" />
<polygon points="426.83,478.56 429.72,481.79 426.83,485.02 423.94,481.79" fill="#9b1fe8" stroke="none" stroke-width="1" stroke-linejoin="miter" />
<polygon points="429.88,477.65 432.77,480.88 429.88,484.11 427.00,480.88" fill="#9b1fe8" stroke="none" stroke-width="1" stroke-linejoin="miter" />
<polygon points="438.02,475.53 440.91,478.76 438.02,481.99 435.13,478.76" fill="#9b1fe8" stroke="none" stroke-width="1" stroke-linejoin="miter" />
<polygon points="457.34,470.06 460.23,473.29 457.34,476.52 454.45,473.29" fill="#9b1fe8" stroke="none" stroke-width="1" stroke-linejoin="miter" />
<polygon points="506.16,445.48 509.05,448.71 506.16,451.94 503.27,448.71" fill="#9b1fe8" stroke="none" stroke-width="1" stroke-linejoin="miter" />
<polygon points="628.20,405.12 631.09,408.35 628.20,411.58 625.31,408.35" fill="#9b1fe8" stroke="none" stroke-width="1" stroke-linejoin="miter" />
<polygon points="423.43,484.51 430.23,484.51 426.83,478.56" fill="#000000" stroke="none" stroke-width="1" stroke-linejoin="miter" />
<polygon points="426.49,483.60 433.28,483.60 429.88,477.65" fill="#000000" stroke="none" stroke-width="1" stroke-linejoin="miter" />
<polygon points="434.62,481.48 441.42,481.48 438.02,475.53" fill="#000000" stroke="none" stroke-width="1" stroke-linejoin="miter" />
<polygon points="453.94,475.10 460.74,475.10 457.34,469.15" fill="#000000" stroke="none" stroke-width="1" stroke-linejoin="miter" />
<polygon points="502.76,453.25 509.56,453.25 506.16,447.30" fill="#000000" stroke="none" stroke-width="1" stroke-linejoin="miter" />
<polygon points="624.80,411.67 631.60,411.67 628.20,405.72" fill="#000000" stroke="none" stroke-width="1" stroke-linejoin="miter" />
<rect x="423.77" y="479.34" width="6.12" height="6.12" fill="#ff0000" stroke="none" stroke-width="1" />
<rect x="426.82" y="478.73" width="6.12" height="6.12" fill="#ff0000" stroke="none" stroke-width="1" />
<rect x="434.96" y="477.82" width="6.12" height="6.12" fill="#ff0000" stroke="none" stroke-width="1" />
<rect x="454.28" y="476.61" width="6.12" height="6.12" fill="#ff0000" stroke="none" stroke-width="1" />
<rect x="503.10" y="465.99" width="6.12" height="6.12" fill="#ff0000" stroke="none" stroke-width="1" />
<rect x="625.14" y="448.99" width="6.12" height="6.12" fill="#ff0000" stroke="none" stroke-width="1" />
<circle cx="426.83" cy="481.49" r="3.23" fill="#0000ff"/>
<circle cx="429.88" cy="481.19" r="3.23" fill="#0000ff"/>
<circle cx="438.02" cy="478.76" r="3.23" fill="#0000ff"/>
<circle cx="457.34" cy="476.94" r="3.23" fill="#0000ff"/>
<circle cx="506.16" cy="463.28" r="3.23" fill="#0000ff"/>
<circle cx="628.20" cy="441.73" r="3.23" fill="#0000ff"/>
<rect x="389.30" y="220.50" width="295.00" height="17.50" fill="#f0f0f0" stroke="none" stroke-width="1" />
<rect x="389.30" y="220.50" width="295.00" height="51.90" fill="none" stroke="#111" stroke-width="1.5" />
<line x1="389.30" y1="238.00" x2="684.30" y2="238.00" stroke="#111" stroke-width="1.5" />
<line x1="389.30" y1="255.10" x2="684.30" y2="255.10" stroke="#111" stroke-width="1.5" />
<text x="467.60" y="234.20" font-family="Liberation Sans" font-size="11.4" font-weight="bold" fill="#111" text-anchor="middle" textLength="56.00" lengthAdjust="spacingAndGlyphs" >Wisconsin</text>
<text x="523.10" y="234.20" font-family="Liberation Sans" font-size="11.4" font-weight="bold" fill="#111" text-anchor="middle" textLength="40.20" lengthAdjust="spacingAndGlyphs" >Darwin</text>
<text x="568.80" y="234.20" font-family="Liberation Sans" font-size="11.4" font-weight="bold" fill="#111" text-anchor="middle" textLength="38.50" lengthAdjust="spacingAndGlyphs" >Austria</text>
<text x="614.70" y="234.20" font-family="Liberation Sans" font-size="11.4" font-weight="bold" fill="#111" text-anchor="middle" textLength="39.30" lengthAdjust="spacingAndGlyphs" >Phuket</text>
<text x="660.50" y="234.20" font-family="Liberation Sans" font-size="11.4" font-weight="bold" fill="#111" text-anchor="middle" textLength="35.00" lengthAdjust="spacingAndGlyphs" >COVID</text>
<text x="412.00" y="251.80" font-family="Liberation Sans" font-size="12.2" font-weight="normal" fill="#111" text-anchor="middle" textLength="29.20" lengthAdjust="spacingAndGlyphs" >Slope</text>
<text x="410.10" y="268.60" font-family="Liberation Sans" font-size="12.2" font-weight="normal" fill="#111" text-anchor="middle" textLength="6.60" lengthAdjust="spacingAndGlyphs" >R</text>
<text x="416.00" y="263.20" font-family="Liberation Sans" font-size="8" font-weight="normal" fill="#111" text-anchor="middle" textLength="3.80" lengthAdjust="spacingAndGlyphs" >2</text>
<text x="467.60" y="251.80" font-family="Liberation Sans" font-size="12.2" font-weight="normal" fill="#111" text-anchor="middle" textLength="30.00" lengthAdjust="spacingAndGlyphs" >0.623</text>
<text x="467.60" y="268.60" font-family="Liberation Sans" font-size="12.2" font-weight="normal" fill="#111" text-anchor="middle" textLength="30.00" lengthAdjust="spacingAndGlyphs" >0.993</text>
<text x="523.10" y="251.80" font-family="Liberation Sans" font-size="12.2" font-weight="normal" fill="#111" text-anchor="middle" textLength="30.00" lengthAdjust="spacingAndGlyphs" >0.507</text>
<text x="523.10" y="268.60" font-family="Liberation Sans" font-size="12.2" font-weight="normal" fill="#111" text-anchor="middle" textLength="30.00" lengthAdjust="spacingAndGlyphs" >0.996</text>
<text x="568.80" y="251.80" font-family="Liberation Sans" font-size="12.2" font-weight="normal" fill="#111" text-anchor="middle" textLength="30.00" lengthAdjust="spacingAndGlyphs" >1.193</text>
<text x="568.80" y="268.60" font-family="Liberation Sans" font-size="12.2" font-weight="normal" fill="#111" text-anchor="middle" textLength="30.00" lengthAdjust="spacingAndGlyphs" >0.997</text>
<text x="614.70" y="251.80" font-family="Liberation Sans" font-size="12.2" font-weight="normal" fill="#111" text-anchor="middle" textLength="30.00" lengthAdjust="spacingAndGlyphs" >1.034</text>
<text x="614.70" y="268.60" font-family="Liberation Sans" font-size="12.2" font-weight="normal" fill="#111" text-anchor="middle" textLength="30.00" lengthAdjust="spacingAndGlyphs" >0.994</text>
<text x="660.50" y="251.80" font-family="Liberation Sans" font-size="12.2" font-weight="normal" fill="#111" text-anchor="middle" textLength="30.00" lengthAdjust="spacingAndGlyphs" >2.299</text>
<text x="660.50" y="268.60" font-family="Liberation Sans" font-size="12.2" font-weight="normal" fill="#111" text-anchor="middle" textLength="30.00" lengthAdjust="spacingAndGlyphs" >0.997</text>
<rect x="389.30" y="525.50" width="294.50" height="17.80" fill="#f0f0f0" stroke="none" stroke-width="1" />
<rect x="389.30" y="525.50" width="294.50" height="54.50" fill="none" stroke="#111" stroke-width="1.5" />
<line x1="389.30" y1="543.30" x2="683.80" y2="543.30" stroke="#111" stroke-width="1.5" />
<line x1="389.30" y1="562.40" x2="683.80" y2="562.40" stroke="#111" stroke-width="1.5" />
<text x="467.60" y="539.70" font-family="Liberation Sans" font-size="11.4" font-weight="bold" fill="#111" text-anchor="middle" textLength="56.00" lengthAdjust="spacingAndGlyphs" >Wisconsin</text>
<text x="523.10" y="539.70" font-family="Liberation Sans" font-size="11.4" font-weight="bold" fill="#111" text-anchor="middle" textLength="40.20" lengthAdjust="spacingAndGlyphs" >Darwin</text>
<text x="568.80" y="539.70" font-family="Liberation Sans" font-size="11.4" font-weight="bold" fill="#111" text-anchor="middle" textLength="38.50" lengthAdjust="spacingAndGlyphs" >Austria</text>
<text x="614.70" y="539.70" font-family="Liberation Sans" font-size="11.4" font-weight="bold" fill="#111" text-anchor="middle" textLength="39.30" lengthAdjust="spacingAndGlyphs" >Phuket</text>
<text x="660.50" y="539.70" font-family="Liberation Sans" font-size="11.4" font-weight="bold" fill="#111" text-anchor="middle" textLength="35.00" lengthAdjust="spacingAndGlyphs" >COVID</text>
<text x="412.00" y="558.00" font-family="Liberation Sans" font-size="13.4" font-weight="normal" fill="#111" text-anchor="middle" textLength="29.20" lengthAdjust="spacingAndGlyphs" >Slope</text>
<text x="410.10" y="575.50" font-family="Liberation Sans" font-size="13.4" font-weight="normal" fill="#111" text-anchor="middle" textLength="6.60" lengthAdjust="spacingAndGlyphs" >R</text>
<text x="416.00" y="570.10" font-family="Liberation Sans" font-size="8" font-weight="normal" fill="#111" text-anchor="middle" textLength="3.80" lengthAdjust="spacingAndGlyphs" >2</text>
<text x="467.60" y="558.00" font-family="Liberation Sans" font-size="13.4" font-weight="normal" fill="#111" text-anchor="middle" textLength="33.00" lengthAdjust="spacingAndGlyphs" >0.674</text>
<text x="467.60" y="575.50" font-family="Liberation Sans" font-size="12.2" font-weight="normal" fill="#111" text-anchor="middle" textLength="29.60" lengthAdjust="spacingAndGlyphs" >0.992</text>
<text x="523.10" y="558.00" font-family="Liberation Sans" font-size="13.4" font-weight="normal" fill="#111" text-anchor="middle" textLength="33.00" lengthAdjust="spacingAndGlyphs" >0.509</text>
<text x="523.10" y="575.50" font-family="Liberation Sans" font-size="12.2" font-weight="normal" fill="#111" text-anchor="middle" textLength="29.60" lengthAdjust="spacingAndGlyphs" >0.997</text>
<text x="568.80" y="558.00" font-family="Liberation Sans" font-size="13.4" font-weight="normal" fill="#111" text-anchor="middle" textLength="33.00" lengthAdjust="spacingAndGlyphs" >1.225</text>
<text x="568.80" y="575.50" font-family="Liberation Sans" font-size="12.2" font-weight="normal" fill="#111" text-anchor="middle" textLength="29.60" lengthAdjust="spacingAndGlyphs" >0.998</text>
<text x="614.70" y="558.00" font-family="Liberation Sans" font-size="13.4" font-weight="normal" fill="#111" text-anchor="middle" textLength="33.00" lengthAdjust="spacingAndGlyphs" >1.224</text>
<text x="614.70" y="575.50" font-family="Liberation Sans" font-size="12.2" font-weight="normal" fill="#111" text-anchor="middle" textLength="29.60" lengthAdjust="spacingAndGlyphs" >0.996</text>
<text x="660.50" y="558.00" font-family="Liberation Sans" font-size="13.4" font-weight="normal" fill="#111" text-anchor="middle" textLength="33.00" lengthAdjust="spacingAndGlyphs" >2.246</text>
<text x="660.50" y="575.50" font-family="Liberation Sans" font-size="12.2" font-weight="normal" fill="#111" text-anchor="middle" textLength="29.60" lengthAdjust="spacingAndGlyphs" >0.998</text>
<text x="0.80" y="309.40" font-family="Liberation Serif" font-size="22" font-weight="bold" fill="#000" text-anchor="start" textLength="14.20" lengthAdjust="spacingAndGlyphs" >C</text>
<text x="43.20" y="312.00" font-family="Liberation Serif" font-size="14" font-weight="bold" fill="#000" text-anchor="start" textLength="56.90" lengthAdjust="spacingAndGlyphs" >Method 1</text>
<text x="24.80" y="324.50" font-family="Liberation Serif" font-size="12" font-weight="normal" fill="#000" text-anchor="start" textLength="117.40" lengthAdjust="spacingAndGlyphs" >(240k, 0.4 m/z, 502 ms)</text>
<text x="174.00" y="311.90" font-family="Liberation Serif" font-size="14" font-weight="bold" fill="#000" text-anchor="start" textLength="57.30" lengthAdjust="spacingAndGlyphs" >Method 2</text>
<text x="157.50" y="325.00" font-family="Liberation Serif" font-size="12" font-weight="normal" fill="#000" text-anchor="start" textLength="108.10" lengthAdjust="spacingAndGlyphs" >(60k, 1.0 m/z, 118ms)</text>
<text x="291.30" y="312.40" font-family="Liberation Serif" font-size="14" font-weight="bold" fill="#000" text-anchor="start" textLength="57.00" lengthAdjust="spacingAndGlyphs" >Method 3</text>
<text x="276.20" y="325.00" font-family="Liberation Serif" font-size="12" font-weight="normal" fill="#000" text-anchor="start" textLength="101.90" lengthAdjust="spacingAndGlyphs" >(30k, 1.5 m/z, 54ms)</text>
<text x="23.90" y="349.30" font-family="Liberation Serif" font-size="15" font-weight="bold" fill="#000" text-anchor="start" textLength="62.80" lengthAdjust="spacingAndGlyphs" >0.13 pmol</text>
<text x="27.10" y="474.00" font-family="Liberation Serif" font-size="15" font-weight="bold" fill="#000" text-anchor="start" textLength="44.10" lengthAdjust="spacingAndGlyphs" >2 pmol</text>
<line x1="24.20" y1="358.50" x2="24.20" y2="443.70" stroke="#555" stroke-width="0.6" />
<line x1="24.20" y1="443.70" x2="115.50" y2="443.70" stroke="#555" stroke-width="0.6" />
<line x1="22.60" y1="443.70" x2="24.20" y2="443.70" stroke="#555" stroke-width="0.5" />
<text x="20.90" y="445.40" font-family="Liberation Sans" font-size="5.0" font-weight="normal" fill="#222" text-anchor="end" >0</text>
<line x1="22.60" y1="431.53" x2="24.20" y2="431.53" stroke="#555" stroke-width="0.5" />
<text x="20.90" y="433.23" font-family="Liberation Sans" font-size="5.0" font-weight="normal" fill="#222" text-anchor="end" >5</text>
<line x1="22.60" y1="419.36" x2="24.20" y2="419.36" stroke="#555" stroke-width="0.5" />
<text x="20.90" y="421.06" font-family="Liberation Sans" font-size="5.0" font-weight="normal" fill="#222" text-anchor="end" >10</text>
<line x1="22.60" y1="407.19" x2="24.20" y2="407.19" stroke="#555" stroke-width="0.5" />
<text x="20.90" y="408.89" font-family="Liberation Sans" font-size="5.0" font-weight="normal" fill="#222" text-anchor="end" >15</text>
<line x1="22.60" y1="395.01" x2="24.20" y2="395.01" stroke="#555" stroke-width="0.5" />
<text x="20.90" y="396.71" font-family="Liberation Sans" font-size="5.0" font-weight="normal" fill="#222" text-anchor="end" >20</text>
<line x1="22.60" y1="382.84" x2="24.20" y2="382.84" stroke="#555" stroke-width="0.5" />
<text x="20.90" y="384.54" font-family="Liberation Sans" font-size="5.0" font-weight="normal" fill="#222" text-anchor="end" >25</text>
<line x1="22.60" y1="370.67" x2="24.20" y2="370.67" stroke="#555" stroke-width="0.5" />
<text x="20.90" y="372.37" font-family="Liberation Sans" font-size="5.0" font-weight="normal" fill="#222" text-anchor="end" >30</text>
<line x1="22.60" y1="358.50" x2="24.20" y2="358.50" stroke="#555" stroke-width="0.5" />
<text x="20.90" y="360.20" font-family="Liberation Sans" font-size="5.0" font-weight="normal" fill="#222" text-anchor="end" >35</text>
<line x1="23.30" y1="441.27" x2="24.20" y2="441.27" stroke="#777" stroke-width="0.4" />
<line x1="23.30" y1="438.83" x2="24.20" y2="438.83" stroke="#777" stroke-width="0.4" />
<line x1="23.30" y1="436.40" x2="24.20" y2="436.40" stroke="#777" stroke-width="0.4" />
<line x1="23.30" y1="433.96" x2="24.20" y2="433.96" stroke="#777" stroke-width="0.4" />
<line x1="23.30" y1="429.09" x2="24.20" y2="429.09" stroke="#777" stroke-width="0.4" />
<line x1="23.30" y1="426.66" x2="24.20" y2="426.66" stroke="#777" stroke-width="0.4" />
<line x1="23.30" y1="424.23" x2="24.20" y2="424.23" stroke="#777" stroke-width="0.4" />
<line x1="23.30" y1="421.79" x2="24.20" y2="421.79" stroke="#777" stroke-width="0.4" />
<line x1="23.30" y1="416.92" x2="24.20" y2="416.92" stroke="#777" stroke-width="0.4" />
<line x1="23.30" y1="414.49" x2="24.20" y2="414.49" stroke="#777" stroke-width="0.4" />
<line x1="23.30" y1="412.05" x2="24.20" y2="412.05" stroke="#777" stroke-width="0.4" />
<line x1="23.30" y1="409.62" x2="24.20" y2="409.62" stroke="#777" stroke-width="0.4" />
<line x1="23.30" y1="404.75" x2="24.20" y2="404.75" stroke="#777" stroke-width="0.4" />
<line x1="23.30" y1="402.32" x2="24.20" y2="402.32" stroke="#777" stroke-width="0.4" />
<line x1="23.30" y1="399.88" x2="24.20" y2="399.88" stroke="#777" stroke-width="0.4" />
<line x1="23.30" y1="397.45" x2="24.20" y2="397.45" stroke="#777" stroke-width="0.4" />
<line x1="23.30" y1="392.58" x2="24.20" y2="392.58" stroke="#777" stroke-width="0.4" />
<line x1="23.30" y1="390.15" x2="24.20" y2="390.15" stroke="#777" stroke-width="0.4" />
<line x1="23.30" y1="387.71" x2="24.20" y2="387.71" stroke="#777" stroke-width="0.4" />
<line x1="23.30" y1="385.28" x2="24.20" y2="385.28" stroke="#777" stroke-width="0.4" />
<line x1="23.30" y1="380.41" x2="24.20" y2="380.41" stroke="#777" stroke-width="0.4" />
<line x1="23.30" y1="377.97" x2="24.20" y2="377.97" stroke="#777" stroke-width="0.4" />
<line x1="23.30" y1="375.54" x2="24.20" y2="375.54" stroke="#777" stroke-width="0.4" />
<line x1="23.30" y1="373.11" x2="24.20" y2="373.11" stroke="#777" stroke-width="0.4" />
<line x1="23.30" y1="368.24" x2="24.20" y2="368.24" stroke="#777" stroke-width="0.4" />
<line x1="23.30" y1="365.80" x2="24.20" y2="365.80" stroke="#777" stroke-width="0.4" />
<line x1="23.30" y1="363.37" x2="24.20" y2="363.37" stroke="#777" stroke-width="0.4" />
<line x1="23.30" y1="360.93" x2="24.20" y2="360.93" stroke="#777" stroke-width="0.4" />
<line x1="33.20" y1="443.70" x2="33.20" y2="445.30" stroke="#555" stroke-width="0.5" />
<text x="33.20" y="450.50" font-family="Liberation Sans" font-size="5.0" font-weight="normal" fill="#222" text-anchor="middle" >25.8</text>
<line x1="48.70" y1="443.70" x2="48.70" y2="445.30" stroke="#555" stroke-width="0.5" />
<text x="48.70" y="450.50" font-family="Liberation Sans" font-size="5.0" font-weight="normal" fill="#222" text-anchor="middle" >26.0</text>
<line x1="64.20" y1="443.70" x2="64.20" y2="445.30" stroke="#555" stroke-width="0.5" />
<text x="64.20" y="450.50" font-family="Liberation Sans" font-size="5.0" font-weight="normal" fill="#222" text-anchor="middle" >26.2</text>
<line x1="79.70" y1="443.70" x2="79.70" y2="445.30" stroke="#555" stroke-width="0.5" />
<text x="79.70" y="450.50" font-family="Liberation Sans" font-size="5.0" font-weight="normal" fill="#222" text-anchor="middle" >26.4</text>
<line x1="95.20" y1="443.70" x2="95.20" y2="445.30" stroke="#555" stroke-width="0.5" />
<text x="95.20" y="450.50" font-family="Liberation Sans" font-size="5.0" font-weight="normal" fill="#222" text-anchor="middle" >26.6</text>
<line x1="110.70" y1="443.70" x2="110.70" y2="445.30" stroke="#555" stroke-width="0.5" />
<text x="110.70" y="450.50" font-family="Liberation Sans" font-size="5.0" font-weight="normal" fill="#222" text-anchor="middle" >26.8</text>
<text x="69.85" y="458.60" font-family="Liberation Sans" font-size="5.0" font-weight="bold" fill="#222" text-anchor="middle" textLength="34.00" lengthAdjust="spacingAndGlyphs" >Retention Time</text>
<text x="0" y="0" transform="translate(8.399999999999999,401.1) rotate(-90)" font-family="Liberation Sans" font-size="5.4" font-weight="bold" fill="#111" text-anchor="middle" textLength="35" lengthAdjust="spacingAndGlyphs">Intensity (10^3)</text>
<line x1="56.40" y1="371.00" x2="56.40" y2="443.70" stroke="#666" stroke-width="0.7" />
<line x1="83.50" y1="371.00" x2="83.50" y2="443.70" stroke="#666" stroke-width="0.7" />
<polyline points="24.50,443.70 25.10,443.70 25.70,443.70 26.30,443.70 26.90,443.70 27.50,443.70 28.10,443.70 28.71,443.70 29.31,443.70 29.91,443.70 30.51,443.70 31.11,443.70 31.71,443.70 32.31,443.70 32.91,443.70 33.51,443.70 34.11,443.70 34.71,443.70 35.31,443.69 35.91,443.67 36.51,443.64 37.11,443.58 37.71,443.50 38.32,443.41 38.92,443.35 39.52,443.34 40.12,443.37 40.72,443.45 41.32,443.53 41.92,443.60 42.52,443.65 43.12,443.68 43.72,443.69 44.32,443.70 44.92,443.70 45.52,443.70 46.12,443.70 46.72,443.70 47.32,443.70 47.93,443.70 48.53,443.70 49.13,443.70 49.73,443.70 50.33,443.70 50.93,443.70 51.53,443.70 52.13,443.70 52.73,443.70 53.33,443.70 53.93,443.70 54.53,443.69 55.13,443.69 55.73,443.68 56.33,443.66 56.93,443.62 57.54,443.56 58.14,443.47 58.74,443.33 59.34,443.12 59.94,442.82 60.54,442.41 61.14,441.88 61.74,441.22 62.34,440.43 62.94,439.54 63.54,438.57 64.14,437.60 64.74,436.68 65.34,435.90 65.94,435.32 66.54,434.99 67.15,435.06 67.75,435.39 68.35,435.77 68.95,436.18 69.55,436.62 70.15,437.09 70.75,437.58 71.35,438.08 71.95,438.58 72.55,439.07 73.15,439.55 73.75,440.01 74.35,440.44 74.95,440.84 75.55,441.21 76.15,441.54 76.76,441.83 77.36,442.09 77.96,442.32 78.56,442.51 79.16,442.67 79.76,442.81 80.36,442.91 80.96,442.98 81.56,443.00 82.16,442.98 82.76,442.91 83.36,442.79 83.96,442.62 84.56,442.43 85.16,442.24 85.76,442.10 86.37,442.03 86.97,442.05 87.57,442.16 88.17,442.34 88.77,442.57 89.37,442.81 89.97,443.04 90.57,443.22 91.17,443.37 91.77,443.47 92.37,443.54 92.97,443.58 93.57,443.61 94.17,443.62 94.77,443.63 95.37,443.64 95.98,443.65 96.58,443.65 97.18,443.65 97.78,443.66 98.38,443.66 98.98,443.66 99.58,443.67 100.18,443.67 100.78,443.67 101.38,443.67 101.98,443.68 102.58,443.68 103.18,443.68 103.78,443.68 104.38,443.68 104.98,443.69 105.59,443.69 106.19,443.69 106.79,443.69 107.39,443.69 107.99,443.69 108.59,443.69 109.19,443.69 109.79,443.69 110.39,443.69 110.99,443.69 111.59,443.69 112.19,443.69 112.79,443.70 113.39,443.70 113.99,443.70 114.59,443.70 115.20,443.70" fill="none" stroke="#e08a40" stroke-width="0.85" stroke-linejoin="round" />
<polyline points="24.50,443.70 25.10,443.70 25.70,443.70 26.30,443.70 26.90,443.70 27.50,443.70 28.10,443.70 28.71,443.70 29.31,443.70 29.91,443.70 30.51,443.70 31.11,443.70 31.71,443.70 32.31,443.70 32.91,443.70 33.51,443.70 34.11,443.70 34.71,443.70 35.31,443.69 35.91,443.67 36.51,443.64 37.11,443.58 37.71,443.50 38.32,443.41 38.92,443.35 39.52,443.34 40.12,443.37 40.72,443.45 41.32,443.53 41.92,443.60 42.52,443.65 43.12,443.68 43.72,443.69 44.32,443.70 44.92,443.70 45.52,443.70 46.12,443.70 46.72,443.70 47.32,443.70 47.93,443.70 48.53,443.70 49.13,443.70 49.73,443.70 50.33,443.70 50.93,443.70 51.53,443.70 52.13,443.70 52.73,443.70 53.33,443.70 53.93,443.70 54.53,443.69 55.13,443.69 55.73,443.68 56.33,443.66 56.93,443.62 57.54,443.56 58.14,443.47 58.74,443.33 59.34,443.12 59.94,442.82 60.54,442.41 61.14,441.88 61.74,441.22 62.34,440.43 62.94,439.54 63.54,438.57 64.14,437.60 64.74,436.68 65.34,435.90 65.94,435.32 66.54,434.99 67.15,435.06 67.75,435.39 68.35,435.77 68.95,436.18 69.55,436.62 70.15,437.09 70.75,437.58 71.35,438.08 71.95,438.58 72.55,439.07 73.15,439.55 73.75,440.01 74.35,440.44 74.95,440.84 75.55,441.21 76.15,441.54 76.76,441.83 77.36,442.09 77.96,442.32 78.56,442.51 79.16,442.67 79.76,442.81 80.36,442.91 80.96,442.98 81.56,443.00 82.16,442.98 82.76,442.91 83.36,442.79 83.96,442.62 84.56,442.43 85.16,442.24 85.76,442.10 86.37,442.03 86.97,442.05 87.57,442.16 88.17,442.34 88.77,442.57 89.37,442.81 89.97,443.04 90.57,443.22 91.17,443.37 91.77,443.47 92.37,443.54 92.97,443.58 93.57,443.61 94.17,443.62 94.77,443.63 95.37,443.64 95.98,443.65 96.58,443.65 97.18,443.65 97.78,443.66 98.38,443.66 98.98,443.66 99.58,443.67 100.18,443.67 100.78,443.67 101.38,443.67 101.98,443.68 102.58,443.68 103.18,443.68 103.78,443.68 104.38,443.68 104.98,443.69 105.59,443.69 106.19,443.69 106.79,443.69 107.39,443.69 107.99,443.69 108.59,443.69 109.19,443.69 109.79,443.69 110.39,443.69 110.99,443.69 111.59,443.69 112.19,443.69 112.79,443.70 113.39,443.70 113.99,443.70 114.59,443.70 115.20,443.70" fill="none" stroke="#fff" stroke-width="0.255" stroke-linejoin="round" stroke-opacity="0.45"/>
<polyline points="24.50,443.70 25.10,443.70 25.70,443.70 26.30,443.70 26.90,443.70 27.50,443.70 28.10,443.70 28.71,443.70 29.31,443.70 29.91,443.70 30.51,443.70 31.11,443.70 31.71,443.70 32.31,443.70 32.91,443.70 33.51,443.70 34.11,443.70 34.71,443.70 35.31,443.70 35.91,443.70 36.51,443.70 37.11,443.70 37.71,443.70 38.32,443.70 38.92,443.70 39.52,443.70 40.12,443.70 40.72,443.70 41.32,443.70 41.92,443.70 42.52,443.70 43.12,443.70 43.72,443.70 44.32,443.70 44.92,443.70 45.52,443.70 46.12,443.70 46.72,443.70 47.32,443.70 47.93,443.70 48.53,443.70 49.13,443.70 49.73,443.70 50.33,443.70 50.93,443.70 51.53,443.70 52.13,443.70 52.73,443.70 53.33,443.70 53.93,443.70 54.53,443.69 55.13,443.68 55.73,443.67 56.33,443.64 56.93,443.60 57.54,443.52 58.14,443.40 58.74,443.21 59.34,442.93 59.94,442.53 60.54,441.97 61.14,441.24 61.74,440.32 62.34,439.21 62.94,437.92 63.54,436.53 64.14,435.09 64.74,433.70 65.34,432.49 65.94,431.54 66.54,430.96 67.15,430.86 67.75,431.34 68.35,431.87 68.95,432.47 69.55,433.11 70.15,433.79 70.75,434.51 71.35,435.24 71.95,435.97 72.55,436.70 73.15,437.41 73.75,438.10 74.35,438.74 74.95,439.34 75.55,439.89 76.15,440.39 76.76,440.84 77.36,441.24 77.96,441.58 78.56,441.88 79.16,442.13 79.76,442.34 80.36,442.50 80.96,442.62 81.56,442.68 82.16,442.69 82.76,442.62 83.36,442.50 83.96,442.32 84.56,442.11 85.16,441.91 85.76,441.75 86.37,441.67 86.97,441.70 87.57,441.84 88.17,442.06 88.77,442.33 89.37,442.62 89.97,442.88 90.57,443.10 91.17,443.27 91.77,443.40 92.37,443.48 92.97,443.53 93.57,443.56 94.17,443.58 94.77,443.60 95.37,443.61 95.98,443.62 96.58,443.62 97.18,443.63 97.78,443.64 98.38,443.64 98.98,443.65 99.58,443.65 100.18,443.66 100.78,443.66 101.38,443.66 101.98,443.67 102.58,443.67 103.18,443.67 103.78,443.67 104.38,443.68 104.98,443.68 105.59,443.68 106.19,443.68 106.79,443.68 107.39,443.68 107.99,443.69 108.59,443.69 109.19,443.69 109.79,443.69 110.39,443.69 110.99,443.69 111.59,443.69 112.19,443.69 112.79,443.69 113.39,443.69 113.99,443.69 114.59,443.69 115.20,443.69" fill="none" stroke="#a84028" stroke-width="0.85" stroke-linejoin="round" />
<polyline points="24.50,443.70 25.10,443.70 25.70,443.70 26.30,443.70 26.90,443.70 27.50,443.70 28.10,443.70 28.71,443.70 29.31,443.70 29.91,443.70 30.51,443.70 31.11,443.70 31.71,443.70 32.31,443.70 32.91,443.70 33.51,443.70 34.11,443.70 34.71,443.70 35.31,443.70 35.91,443.70 36.51,443.70 37.11,443.70 37.71,443.70 38.32,443.70 38.92,443.70 39.52,443.70 40.12,443.70 40.72,443.70 41.32,443.70 41.92,443.70 42.52,443.70 43.12,443.70 43.72,443.70 44.32,443.70 44.92,443.70 45.52,443.70 46.12,443.70 46.72,443.70 47.32,443.70 47.93,443.70 48.53,443.70 49.13,443.70 49.73,443.70 50.33,443.70 50.93,443.70 51.53,443.70 52.13,443.70 52.73,443.70 53.33,443.70 53.93,443.70 54.53,443.69 55.13,443.68 55.73,443.67 56.33,443.64 56.93,443.60 57.54,443.52 58.14,443.40 58.74,443.21 59.34,442.93 59.94,442.53 60.54,441.97 61.14,441.24 61.74,440.32 62.34,439.21 62.94,437.92 63.54,436.53 64.14,435.09 64.74,433.70 65.34,432.49 65.94,431.54 66.54,430.96 67.15,430.86 67.75,431.34 68.35,431.87 68.95,432.47 69.55,433.11 70.15,433.79 70.75,434.51 71.35,435.24 71.95,435.97 72.55,436.70 73.15,437.41 73.75,438.10 74.35,438.74 74.95,439.34 75.55,439.89 76.15,440.39 76.76,440.84 77.36,441.24 77.96,441.58 78.56,441.88 79.16,442.13 79.76,442.34 80.36,442.50 80.96,442.62 81.56,442.68 82.16,442.69 82.76,442.62 83.36,442.50 83.96,442.32 84.56,442.11 85.16,441.91 85.76,441.75 86.37,441.67 86.97,441.70 87.57,441.84 88.17,442.06 88.77,442.33 89.37,442.62 89.97,442.88 90.57,443.10 91.17,443.27 91.77,443.40 92.37,443.48 92.97,443.53 93.57,443.56 94.17,443.58 94.77,443.60 95.37,443.61 95.98,443.62 96.58,443.62 97.18,443.63 97.78,443.64 98.38,443.64 98.98,443.65 99.58,443.65 100.18,443.66 100.78,443.66 101.38,443.66 101.98,443.67 102.58,443.67 103.18,443.67 103.78,443.67 104.38,443.68 104.98,443.68 105.59,443.68 106.19,443.68 106.79,443.68 107.39,443.68 107.99,443.69 108.59,443.69 109.19,443.69 109.79,443.69 110.39,443.69 110.99,443.69 111.59,443.69 112.19,443.69 112.79,443.69 113.39,443.69 113.99,443.69 114.59,443.69 115.20,443.69" fill="none" stroke="#fff" stroke-width="0.255" stroke-linejoin="round" stroke-opacity="0.45"/>
<polyline points="24.50,443.69 25.10,443.68 25.70,443.65 26.30,443.59 26.90,443.48 27.50,443.33 28.10,443.16 28.71,443.03 29.31,442.97 29.91,443.02 30.51,443.15 31.11,443.32 31.71,443.48 32.31,443.59 32.91,443.65 33.51,443.68 34.11,443.69 34.71,443.70 35.31,443.70 35.91,443.70 36.51,443.70 37.11,443.70 37.71,443.70 38.32,443.70 38.92,443.70 39.52,443.70 40.12,443.70 40.72,443.70 41.32,443.70 41.92,443.70 42.52,443.70 43.12,443.70 43.72,443.70 44.32,443.70 44.92,443.70 45.52,443.70 46.12,443.70 46.72,443.70 47.32,443.70 47.93,443.70 48.53,443.70 49.13,443.70 49.73,443.70 50.33,443.70 50.93,443.70 51.53,443.70 52.13,443.70 52.73,443.70 53.33,443.70 53.93,443.69 54.53,443.69 55.13,443.67 55.73,443.65 56.33,443.59 56.93,443.48 57.54,443.30 58.14,442.97 58.74,442.43 59.34,441.57 59.94,440.26 60.54,438.35 61.14,435.70 61.74,432.15 62.34,427.66 62.94,422.24 63.54,416.04 64.14,409.36 64.74,402.65 65.34,396.43 65.94,391.27 66.54,387.70 67.15,386.08 67.75,387.57 68.35,389.96 68.95,392.66 69.55,395.64 70.15,398.86 70.75,402.24 71.35,405.73 71.95,409.24 72.55,412.72 73.15,416.09 73.75,419.31 74.35,422.31 74.95,425.08 75.55,427.59 76.15,429.83 76.76,431.80 77.36,433.52 77.96,435.00 78.56,436.25 79.16,437.31 79.76,438.20 80.36,438.92 80.96,439.50 81.56,439.93 82.16,440.21 82.76,440.32 83.36,440.24 83.96,440.02 84.56,439.69 85.16,439.38 85.76,439.21 86.37,439.25 86.97,439.51 87.57,439.92 88.17,440.43 88.77,440.98 89.37,441.51 89.97,441.97 90.57,442.34 91.17,442.62 91.77,442.83 92.37,442.97 92.97,443.07 93.57,443.14 94.17,443.20 94.77,443.25 95.37,443.29 95.98,443.32 96.58,443.35 97.18,443.38 97.78,443.41 98.38,443.43 98.98,443.45 99.58,443.47 100.18,443.49 100.78,443.51 101.38,443.53 101.98,443.54 102.58,443.55 103.18,443.57 103.78,443.58 104.38,443.59 104.98,443.60 105.59,443.60 106.19,443.61 106.79,443.62 107.39,443.63 107.99,443.63 108.59,443.64 109.19,443.64 109.79,443.65 110.39,443.65 110.99,443.66 111.59,443.66 112.19,443.66 112.79,443.67 113.39,443.67 113.99,443.67 114.59,443.67 115.20,443.68" fill="none" stroke="#2a3af0" stroke-width="1.0" stroke-linejoin="round" />
<polyline points="24.50,443.69 25.10,443.68 25.70,443.65 26.30,443.59 26.90,443.48 27.50,443.33 28.10,443.16 28.71,443.03 29.31,442.97 29.91,443.02 30.51,443.15 31.11,443.32 31.71,443.48 32.31,443.59 32.91,443.65 33.51,443.68 34.11,443.69 34.71,443.70 35.31,443.70 35.91,443.70 36.51,443.70 37.11,443.70 37.71,443.70 38.32,443.70 38.92,443.70 39.52,443.70 40.12,443.70 40.72,443.70 41.32,443.70 41.92,443.70 42.52,443.70 43.12,443.70 43.72,443.70 44.32,443.70 44.92,443.70 45.52,443.70 46.12,443.70 46.72,443.70 47.32,443.70 47.93,443.70 48.53,443.70 49.13,443.70 49.73,443.70 50.33,443.70 50.93,443.70 51.53,443.70 52.13,443.70 52.73,443.70 53.33,443.70 53.93,443.69 54.53,443.69 55.13,443.67 55.73,443.65 56.33,443.59 56.93,443.48 57.54,443.30 58.14,442.97 58.74,442.43 59.34,441.57 59.94,440.26 60.54,438.35 61.14,435.70 61.74,432.15 62.34,427.66 62.94,422.24 63.54,416.04 64.14,409.36 64.74,402.65 65.34,396.43 65.94,391.27 66.54,387.70 67.15,386.08 67.75,387.57 68.35,389.96 68.95,392.66 69.55,395.64 70.15,398.86 70.75,402.24 71.35,405.73 71.95,409.24 72.55,412.72 73.15,416.09 73.75,419.31 74.35,422.31 74.95,425.08 75.55,427.59 76.15,429.83 76.76,431.80 77.36,433.52 77.96,435.00 78.56,436.25 79.16,437.31 79.76,438.20 80.36,438.92 80.96,439.50 81.56,439.93 82.16,440.21 82.76,440.32 83.36,440.24 83.96,440.02 84.56,439.69 85.16,439.38 85.76,439.21 86.37,439.25 86.97,439.51 87.57,439.92 88.17,440.43 88.77,440.98 89.37,441.51 89.97,441.97 90.57,442.34 91.17,442.62 91.77,442.83 92.37,442.97 92.97,443.07 93.57,443.14 94.17,443.20 94.77,443.25 95.37,443.29 95.98,443.32 96.58,443.35 97.18,443.38 97.78,443.41 98.38,443.43 98.98,443.45 99.58,443.47 100.18,443.49 100.78,443.51 101.38,443.53 101.98,443.54 102.58,443.55 103.18,443.57 103.78,443.58 104.38,443.59 104.98,443.60 105.59,443.60 106.19,443.61 106.79,443.62 107.39,443.63 107.99,443.63 108.59,443.64 109.19,443.64 109.79,443.65 110.39,443.65 110.99,443.66 111.59,443.66 112.19,443.66 112.79,443.67 113.39,443.67 113.99,443.67 114.59,443.67 115.20,443.68" fill="none" stroke="#fff" stroke-width="0.3" stroke-linejoin="round" stroke-opacity="0.45"/>
<polyline points="24.50,443.69 25.10,443.68 25.70,443.64 26.30,443.55 26.90,443.41 27.50,443.21 28.10,442.99 28.71,442.80 29.31,442.73 29.91,442.79 30.51,442.97 31.11,443.20 31.71,443.40 32.31,443.55 32.91,443.63 33.51,443.67 34.11,443.69 34.71,443.68 35.31,443.65 35.91,443.58 36.51,443.44 37.11,443.21 37.71,442.89 38.32,442.56 38.92,442.31 39.52,442.24 40.12,442.39 40.72,442.68 41.32,443.02 41.92,443.31 42.52,443.51 43.12,443.62 43.72,443.67 44.32,443.69 44.92,443.70 45.52,443.70 46.12,443.70 46.72,443.70 47.32,443.70 47.93,443.70 48.53,443.69 49.13,443.66 49.73,443.60 50.33,443.48 50.93,443.27 51.53,442.97 52.13,442.63 52.73,442.35 53.33,442.24 53.93,442.33 54.53,442.59 55.13,442.91 55.73,443.18 56.33,443.33 56.93,443.33 57.54,443.15 58.14,442.76 58.74,442.09 59.34,441.00 59.94,439.35 60.54,436.93 61.14,433.57 61.74,429.08 62.34,423.40 62.94,416.53 63.54,408.69 64.14,400.24 64.74,391.74 65.34,383.86 65.94,377.34 66.54,372.81 67.15,370.76 67.75,372.63 68.35,375.55 68.95,378.79 69.55,382.32 70.15,386.11 70.75,390.08 71.35,394.19 71.95,398.36 72.55,402.51 73.15,406.58 73.75,410.51 74.35,414.25 74.95,417.75 75.55,420.98 76.15,423.93 76.76,426.57 77.36,428.93 77.96,431.00 78.56,432.79 79.16,434.34 79.76,435.65 80.36,436.75 80.96,437.65 81.56,438.34 82.16,438.80 82.76,439.02 83.36,438.99 83.96,438.73 84.56,438.34 85.16,437.96 85.76,437.74 86.37,437.82 86.97,438.16 87.57,438.71 88.17,439.38 88.77,440.07 89.37,440.68 89.97,441.11 90.57,441.30 91.17,441.25 91.77,441.07 92.37,440.92 92.97,440.96 93.57,441.24 94.17,441.70 94.77,442.21 95.37,442.65 95.98,442.96 96.58,443.15 97.18,443.26 97.78,443.32 98.38,443.36 98.98,443.39 99.58,443.41 100.18,443.44 100.78,443.46 101.38,443.48 101.98,443.50 102.58,443.51 103.18,443.53 103.78,443.54 104.38,443.56 104.98,443.57 105.59,443.58 106.19,443.59 106.79,443.60 107.39,443.61 107.99,443.61 108.59,443.62 109.19,443.63 109.79,443.63 110.39,443.64 110.99,443.64 111.59,443.65 112.19,443.65 112.79,443.66 113.39,443.66 113.99,443.66 114.59,443.67 115.20,443.67" fill="none" stroke="#8f48e0" stroke-width="1.0" stroke-linejoin="round" />
<polyline points="24.50,443.69 25.10,443.68 25.70,443.64 26.30,443.55 26.90,443.41 27.50,443.21 28.10,442.99 28.71,442.80 29.31,442.73 29.91,442.79 30.51,442.97 31.11,443.20 31.71,443.40 32.31,443.55 32.91,443.63 33.51,443.67 34.11,443.69 34.71,443.68 35.31,443.65 35.91,443.58 36.51,443.44 37.11,443.21 37.71,442.89 38.32,442.56 38.92,442.31 39.52,442.24 40.12,442.39 40.72,442.68 41.32,443.02 41.92,443.31 42.52,443.51 43.12,443.62 43.72,443.67 44.32,443.69 44.92,443.70 45.52,443.70 46.12,443.70 46.72,443.70 47.32,443.70 47.93,443.70 48.53,443.69 49.13,443.66 49.73,443.60 50.33,443.48 50.93,443.27 51.53,442.97 52.13,442.63 52.73,442.35 53.33,442.24 53.93,442.33 54.53,442.59 55.13,442.91 55.73,443.18 56.33,443.33 56.93,443.33 57.54,443.15 58.14,442.76 58.74,442.09 59.34,441.00 59.94,439.35 60.54,436.93 61.14,433.57 61.74,429.08 62.34,423.40 62.94,416.53 63.54,408.69 64.14,400.24 64.74,391.74 65.34,383.86 65.94,377.34 66.54,372.81 67.15,370.76 67.75,372.63 68.35,375.55 68.95,378.79 69.55,382.32 70.15,386.11 70.75,390.08 71.35,394.19 71.95,398.36 72.55,402.51 73.15,406.58 73.75,410.51 74.35,414.25 74.95,417.75 75.55,420.98 76.15,423.93 76.76,426.57 77.36,428.93 77.96,431.00 78.56,432.79 79.16,434.34 79.76,435.65 80.36,436.75 80.96,437.65 81.56,438.34 82.16,438.80 82.76,439.02 83.36,438.99 83.96,438.73 84.56,438.34 85.16,437.96 85.76,437.74 86.37,437.82 86.97,438.16 87.57,438.71 88.17,439.38 88.77,440.07 89.37,440.68 89.97,441.11 90.57,441.30 91.17,441.25 91.77,441.07 92.37,440.92 92.97,440.96 93.57,441.24 94.17,441.70 94.77,442.21 95.37,442.65 95.98,442.96 96.58,443.15 97.18,443.26 97.78,443.32 98.38,443.36 98.98,443.39 99.58,443.41 100.18,443.44 100.78,443.46 101.38,443.48 101.98,443.50 102.58,443.51 103.18,443.53 103.78,443.54 104.38,443.56 104.98,443.57 105.59,443.58 106.19,443.59 106.79,443.60 107.39,443.61 107.99,443.61 108.59,443.62 109.19,443.63 109.79,443.63 110.39,443.64 110.99,443.64 111.59,443.65 112.19,443.65 112.79,443.66 113.39,443.66 113.99,443.66 114.59,443.67 115.20,443.67" fill="none" stroke="#fff" stroke-width="0.3" stroke-linejoin="round" stroke-opacity="0.45"/>
<text x="67.10" y="363.20" font-family="Liberation Sans" font-size="4.5" font-weight="normal" fill="#9a5ae6" text-anchor="middle" >26.2</text>
<text x="67.10" y="367.80" font-family="Liberation Sans" font-size="4.5" font-weight="normal" fill="#9a5ae6" text-anchor="middle" >-3.1 ppm</text>
<polygon points="62.80,369.40 66.00,370.50 62.80,371.60" fill="#000" stroke="none" stroke-width="1" stroke-linejoin="miter" />
<line x1="151.10" y1="359.10" x2="151.10" y2="444.10" stroke="#555" stroke-width="0.6" />
<line x1="151.10" y1="444.10" x2="239.50" y2="444.10" stroke="#555" stroke-width="0.6" />
<line x1="149.50" y1="444.10" x2="151.10" y2="444.10" stroke="#555" stroke-width="0.5" />
<text x="147.80" y="445.80" font-family="Liberation Sans" font-size="5.0" font-weight="normal" fill="#222" text-anchor="end" >0</text>
<line x1="149.50" y1="429.93" x2="151.10" y2="429.93" stroke="#555" stroke-width="0.5" />
<text x="147.80" y="431.63" font-family="Liberation Sans" font-size="5.0" font-weight="normal" fill="#222" text-anchor="end" >20</text>
<line x1="149.50" y1="415.77" x2="151.10" y2="415.77" stroke="#555" stroke-width="0.5" />
<text x="147.80" y="417.47" font-family="Liberation Sans" font-size="5.0" font-weight="normal" fill="#222" text-anchor="end" >40</text>
<line x1="149.50" y1="401.60" x2="151.10" y2="401.60" stroke="#555" stroke-width="0.5" />
<text x="147.80" y="403.30" font-family="Liberation Sans" font-size="5.0" font-weight="normal" fill="#222" text-anchor="end" >60</text>
<line x1="149.50" y1="387.43" x2="151.10" y2="387.43" stroke="#555" stroke-width="0.5" />
<text x="147.80" y="389.13" font-family="Liberation Sans" font-size="5.0" font-weight="normal" fill="#222" text-anchor="end" >80</text>
<line x1="149.50" y1="373.27" x2="151.10" y2="373.27" stroke="#555" stroke-width="0.5" />
<text x="147.80" y="374.97" font-family="Liberation Sans" font-size="5.0" font-weight="normal" fill="#222" text-anchor="end" >100</text>
<line x1="149.50" y1="359.10" x2="151.10" y2="359.10" stroke="#555" stroke-width="0.5" />
<text x="147.80" y="360.80" font-family="Liberation Sans" font-size="5.0" font-weight="normal" fill="#222" text-anchor="end" >120</text>
<line x1="150.20" y1="441.27" x2="151.10" y2="441.27" stroke="#777" stroke-width="0.4" />
<line x1="150.20" y1="438.43" x2="151.10" y2="438.43" stroke="#777" stroke-width="0.4" />
<line x1="150.20" y1="435.60" x2="151.10" y2="435.60" stroke="#777" stroke-width="0.4" />
<line x1="150.20" y1="432.77" x2="151.10" y2="432.77" stroke="#777" stroke-width="0.4" />
<line x1="150.20" y1="427.10" x2="151.10" y2="427.10" stroke="#777" stroke-width="0.4" />
<line x1="150.20" y1="424.27" x2="151.10" y2="424.27" stroke="#777" stroke-width="0.4" />
<line x1="150.20" y1="421.43" x2="151.10" y2="421.43" stroke="#777" stroke-width="0.4" />
<line x1="150.20" y1="418.60" x2="151.10" y2="418.60" stroke="#777" stroke-width="0.4" />
<line x1="150.20" y1="412.93" x2="151.10" y2="412.93" stroke="#777" stroke-width="0.4" />
<line x1="150.20" y1="410.10" x2="151.10" y2="410.10" stroke="#777" stroke-width="0.4" />
<line x1="150.20" y1="407.27" x2="151.10" y2="407.27" stroke="#777" stroke-width="0.4" />
<line x1="150.20" y1="404.43" x2="151.10" y2="404.43" stroke="#777" stroke-width="0.4" />
<line x1="150.20" y1="398.77" x2="151.10" y2="398.77" stroke="#777" stroke-width="0.4" />
<line x1="150.20" y1="395.93" x2="151.10" y2="395.93" stroke="#777" stroke-width="0.4" />
<line x1="150.20" y1="393.10" x2="151.10" y2="393.10" stroke="#777" stroke-width="0.4" />
<line x1="150.20" y1="390.27" x2="151.10" y2="390.27" stroke="#777" stroke-width="0.4" />
<line x1="150.20" y1="384.60" x2="151.10" y2="384.60" stroke="#777" stroke-width="0.4" />
<line x1="150.20" y1="381.77" x2="151.10" y2="381.77" stroke="#777" stroke-width="0.4" />
<line x1="150.20" y1="378.93" x2="151.10" y2="378.93" stroke="#777" stroke-width="0.4" />
<line x1="150.20" y1="376.10" x2="151.10" y2="376.10" stroke="#777" stroke-width="0.4" />
<line x1="150.20" y1="370.43" x2="151.10" y2="370.43" stroke="#777" stroke-width="0.4" />
<line x1="150.20" y1="367.60" x2="151.10" y2="367.60" stroke="#777" stroke-width="0.4" />
<line x1="150.20" y1="364.77" x2="151.10" y2="364.77" stroke="#777" stroke-width="0.4" />
<line x1="150.20" y1="361.93" x2="151.10" y2="361.93" stroke="#777" stroke-width="0.4" />
<line x1="157.20" y1="444.10" x2="157.20" y2="445.70" stroke="#555" stroke-width="0.5" />
<text x="157.20" y="451.60" font-family="Liberation Sans" font-size="5.0" font-weight="normal" fill="#222" text-anchor="middle" >25.8</text>
<line x1="173.06" y1="444.10" x2="173.06" y2="445.70" stroke="#555" stroke-width="0.5" />
<text x="173.06" y="451.60" font-family="Liberation Sans" font-size="5.0" font-weight="normal" fill="#222" text-anchor="middle" >26.0</text>
<line x1="188.92" y1="444.10" x2="188.92" y2="445.70" stroke="#555" stroke-width="0.5" />
<text x="188.92" y="451.60" font-family="Liberation Sans" font-size="5.0" font-weight="normal" fill="#222" text-anchor="middle" >26.2</text>
<line x1="204.78" y1="444.10" x2="204.78" y2="445.70" stroke="#555" stroke-width="0.5" />
<text x="204.78" y="451.60" font-family="Liberation Sans" font-size="5.0" font-weight="normal" fill="#222" text-anchor="middle" >26.4</text>
<line x1="220.64" y1="444.10" x2="220.64" y2="445.70" stroke="#555" stroke-width="0.5" />
<text x="220.64" y="451.60" font-family="Liberation Sans" font-size="5.0" font-weight="normal" fill="#222" text-anchor="middle" >26.6</text>
<line x1="236.50" y1="444.10" x2="236.50" y2="445.70" stroke="#555" stroke-width="0.5" />
<text x="236.50" y="451.60" font-family="Liberation Sans" font-size="5.0" font-weight="normal" fill="#222" text-anchor="middle" >26.8</text>
<text x="195.30" y="459.30" font-family="Liberation Sans" font-size="5.0" font-weight="bold" fill="#222" text-anchor="middle" textLength="34.00" lengthAdjust="spacingAndGlyphs" >Retention Time</text>
<text x="0" y="0" transform="translate(135.29999999999998,401.6) rotate(-90)" font-family="Liberation Sans" font-size="5.4" font-weight="bold" fill="#111" text-anchor="middle" textLength="35" lengthAdjust="spacingAndGlyphs">Intensity (10^3)</text>
<line x1="166.50" y1="370.30" x2="166.50" y2="444.10" stroke="#e4e4e4" stroke-width="0.6" />
<line x1="226.50" y1="383.80" x2="226.50" y2="444.10" stroke="#e4e4e4" stroke-width="0.6" />
<line x1="182.50" y1="393.50" x2="182.50" y2="444.10" stroke="#666" stroke-width="0.7" />
<line x1="208.30" y1="393.50" x2="208.30" y2="444.10" stroke="#666" stroke-width="0.7" />
<polyline points="151.10,444.10 185.00,444.10 185.00,443.81 186.00,443.29 187.00,442.25 188.00,441.42 189.00,439.62 190.00,438.68 191.10,437.33 192.20,436.17 193.10,437.78 194.00,438.06 195.00,439.79 196.00,440.66 197.00,442.30 198.00,444.10 239.50,444.10" fill="none" stroke="#a84028" stroke-width="0.85" stroke-linejoin="round" />
<polyline points="151.10,444.10 185.00,444.10 185.00,443.81 186.00,443.29 187.00,442.25 188.00,441.42 189.00,439.62 190.00,438.68 191.10,437.33 192.20,436.17 193.10,437.78 194.00,438.06 195.00,439.79 196.00,440.66 197.00,442.30 198.00,444.10 239.50,444.10" fill="none" stroke="#fff" stroke-width="0.255" stroke-linejoin="round" stroke-opacity="0.45"/>
<polyline points="151.10,444.10 179.90,444.10 179.90,444.04 180.93,441.75 181.97,439.07 183.00,435.21 184.00,432.26 185.00,430.39 186.00,427.50 187.00,426.68 188.00,424.42 189.15,422.72 190.30,421.13 192.00,426.35 193.00,424.22 194.00,423.87 195.00,426.76 196.00,431.89 197.00,432.33 198.00,436.35 199.00,437.06 200.70,444.10 202.00,441.00 203.00,444.10 239.50,444.10" fill="none" stroke="#2a3af0" stroke-width="1.0" stroke-linejoin="round" />
<polyline points="151.10,444.10 179.90,444.10 179.90,444.04 180.93,441.75 181.97,439.07 183.00,435.21 184.00,432.26 185.00,430.39 186.00,427.50 187.00,426.68 188.00,424.42 189.15,422.72 190.30,421.13 192.00,426.35 193.00,424.22 194.00,423.87 195.00,426.76 196.00,431.89 197.00,432.33 198.00,436.35 199.00,437.06 200.70,444.10 202.00,441.00 203.00,444.10 239.50,444.10" fill="none" stroke="#fff" stroke-width="0.3" stroke-linejoin="round" stroke-opacity="0.45"/>
<polyline points="151.50,381.99 152.40,376.32 153.30,371.81 154.27,375.75 155.23,381.94 156.20,388.29 157.20,390.58 158.10,401.05 159.00,397.58 160.00,419.42 160.95,418.17 161.90,421.02 162.85,421.96 163.80,427.09 164.73,431.00 165.67,432.51 166.60,441.17 167.55,436.82 168.50,431.14 169.45,426.70 170.40,420.36 172.00,415.82 173.10,409.63 174.20,399.02 175.50,396.61 177.00,380.04 178.50,389.89 180.00,402.84 180.90,406.53 181.80,412.14 183.00,405.09 184.60,407.43 186.00,400.00 187.50,401.73 188.45,397.56 189.40,393.50 190.50,400.24 191.35,399.88 192.20,398.83 193.50,402.94 195.00,407.87 196.00,412.18 197.00,417.15 198.00,421.12 199.00,429.20 199.85,430.20 200.70,434.86 202.00,436.49 202.83,439.73 203.67,439.90 204.50,436.75 206.00,434.69 207.15,441.20 208.30,442.56 209.15,443.51 210.00,439.54 211.00,438.53 212.00,441.48 213.00,443.20 214.00,441.96 214.95,440.99 215.90,441.95 216.95,443.94 218.00,442.16 219.60,439.18 221.00,441.86 221.80,441.10 222.60,440.82 223.40,444.04 225.00,436.55 226.10,434.02 227.20,429.26 228.10,423.86 229.00,422.04 230.50,410.34 232.00,399.85 233.00,400.27 233.90,392.64 234.80,382.71 235.75,388.66 236.70,397.52 237.65,404.37 238.60,409.72 239.50,408.70" fill="none" stroke="#8f48e0" stroke-width="1.0" stroke-linejoin="round" />
<polyline points="151.50,381.99 152.40,376.32 153.30,371.81 154.27,375.75 155.23,381.94 156.20,388.29 157.20,390.58 158.10,401.05 159.00,397.58 160.00,419.42 160.95,418.17 161.90,421.02 162.85,421.96 163.80,427.09 164.73,431.00 165.67,432.51 166.60,441.17 167.55,436.82 168.50,431.14 169.45,426.70 170.40,420.36 172.00,415.82 173.10,409.63 174.20,399.02 175.50,396.61 177.00,380.04 178.50,389.89 180.00,402.84 180.90,406.53 181.80,412.14 183.00,405.09 184.60,407.43 186.00,400.00 187.50,401.73 188.45,397.56 189.40,393.50 190.50,400.24 191.35,399.88 192.20,398.83 193.50,402.94 195.00,407.87 196.00,412.18 197.00,417.15 198.00,421.12 199.00,429.20 199.85,430.20 200.70,434.86 202.00,436.49 202.83,439.73 203.67,439.90 204.50,436.75 206.00,434.69 207.15,441.20 208.30,442.56 209.15,443.51 210.00,439.54 211.00,438.53 212.00,441.48 213.00,443.20 214.00,441.96 214.95,440.99 215.90,441.95 216.95,443.94 218.00,442.16 219.60,439.18 221.00,441.86 221.80,441.10 222.60,440.82 223.40,444.04 225.00,436.55 226.10,434.02 227.20,429.26 228.10,423.86 229.00,422.04 230.50,410.34 232.00,399.85 233.00,400.27 233.90,392.64 234.80,382.71 235.75,388.66 236.70,397.52 237.65,404.37 238.60,409.72 239.50,408.70" fill="none" stroke="#fff" stroke-width="0.3" stroke-linejoin="round" stroke-opacity="0.45"/>
<text x="177.40" y="373.80" font-family="Liberation Sans" font-size="4.5" font-weight="normal" fill="#9a5ae6" text-anchor="middle" >26.0</text>
<text x="177.40" y="378.40" font-family="Liberation Sans" font-size="4.5" font-weight="normal" fill="#9a5ae6" text-anchor="middle" >+3.3 ppm</text>
<text x="189.80" y="386.60" font-family="Liberation Sans" font-size="4.5" font-weight="normal" fill="#9a5ae6" text-anchor="middle" >26.2</text>
<text x="189.80" y="391.20" font-family="Liberation Sans" font-size="4.5" font-weight="normal" fill="#9a5ae6" text-anchor="middle" >+0.0 ppm</text>
<text x="234.50" y="377.00" font-family="Liberation Sans" font-size="4.5" font-weight="normal" fill="#9a5ae6" text-anchor="middle" >26.7</text>
<text x="234.50" y="381.60" font-family="Liberation Sans" font-size="4.5" font-weight="normal" fill="#9a5ae6" text-anchor="middle" >+3 ppr</text>
<polygon points="185.60,392.20 188.80,393.30 185.60,394.40" fill="#000" stroke="none" stroke-width="1" stroke-linejoin="miter" />
<text x="153.80" y="362.90" font-family="Liberation Sans" font-size="4.8" font-weight="normal" fill="#8f48e0" text-anchor="middle" >5.7</text>
<text x="156.20" y="367.40" font-family="Liberation Sans" font-size="4.8" font-weight="normal" fill="#8f48e0" text-anchor="middle" >7 ppm</text>
<line x1="275.40" y1="358.90" x2="275.40" y2="444.10" stroke="#555" stroke-width="0.6" />
<line x1="275.40" y1="444.10" x2="363.80" y2="444.10" stroke="#555" stroke-width="0.6" />
<line x1="273.80" y1="444.10" x2="275.40" y2="444.10" stroke="#555" stroke-width="0.5" />
<text x="272.10" y="445.80" font-family="Liberation Sans" font-size="5.0" font-weight="normal" fill="#222" text-anchor="end" >0</text>
<line x1="273.80" y1="434.63" x2="275.40" y2="434.63" stroke="#555" stroke-width="0.5" />
<text x="272.10" y="436.33" font-family="Liberation Sans" font-size="5.0" font-weight="normal" fill="#222" text-anchor="end" >20</text>
<line x1="273.80" y1="425.17" x2="275.40" y2="425.17" stroke="#555" stroke-width="0.5" />
<text x="272.10" y="426.87" font-family="Liberation Sans" font-size="5.0" font-weight="normal" fill="#222" text-anchor="end" >40</text>
<line x1="273.80" y1="415.70" x2="275.40" y2="415.70" stroke="#555" stroke-width="0.5" />
<text x="272.10" y="417.40" font-family="Liberation Sans" font-size="5.0" font-weight="normal" fill="#222" text-anchor="end" >60</text>
<line x1="273.80" y1="406.23" x2="275.40" y2="406.23" stroke="#555" stroke-width="0.5" />
<text x="272.10" y="407.93" font-family="Liberation Sans" font-size="5.0" font-weight="normal" fill="#222" text-anchor="end" >80</text>
<line x1="273.80" y1="396.77" x2="275.40" y2="396.77" stroke="#555" stroke-width="0.5" />
<text x="272.10" y="398.47" font-family="Liberation Sans" font-size="5.0" font-weight="normal" fill="#222" text-anchor="end" >100</text>
<line x1="273.80" y1="387.30" x2="275.40" y2="387.30" stroke="#555" stroke-width="0.5" />
<text x="272.10" y="389.00" font-family="Liberation Sans" font-size="5.0" font-weight="normal" fill="#222" text-anchor="end" >120</text>
<line x1="273.80" y1="377.83" x2="275.40" y2="377.83" stroke="#555" stroke-width="0.5" />
<text x="272.10" y="379.53" font-family="Liberation Sans" font-size="5.0" font-weight="normal" fill="#222" text-anchor="end" >140</text>
<line x1="273.80" y1="368.37" x2="275.40" y2="368.37" stroke="#555" stroke-width="0.5" />
<text x="272.10" y="370.07" font-family="Liberation Sans" font-size="5.0" font-weight="normal" fill="#222" text-anchor="end" >160</text>
<line x1="273.80" y1="358.90" x2="275.40" y2="358.90" stroke="#555" stroke-width="0.5" />
<text x="272.10" y="360.60" font-family="Liberation Sans" font-size="5.0" font-weight="normal" fill="#222" text-anchor="end" >180</text>
<line x1="274.50" y1="442.21" x2="275.40" y2="442.21" stroke="#777" stroke-width="0.4" />
<line x1="274.50" y1="440.31" x2="275.40" y2="440.31" stroke="#777" stroke-width="0.4" />
<line x1="274.50" y1="438.42" x2="275.40" y2="438.42" stroke="#777" stroke-width="0.4" />
<line x1="274.50" y1="436.53" x2="275.40" y2="436.53" stroke="#777" stroke-width="0.4" />
<line x1="274.50" y1="432.74" x2="275.40" y2="432.74" stroke="#777" stroke-width="0.4" />
<line x1="274.50" y1="430.85" x2="275.40" y2="430.85" stroke="#777" stroke-width="0.4" />
<line x1="274.50" y1="428.95" x2="275.40" y2="428.95" stroke="#777" stroke-width="0.4" />
<line x1="274.50" y1="427.06" x2="275.40" y2="427.06" stroke="#777" stroke-width="0.4" />
<line x1="274.50" y1="423.27" x2="275.40" y2="423.27" stroke="#777" stroke-width="0.4" />
<line x1="274.50" y1="421.38" x2="275.40" y2="421.38" stroke="#777" stroke-width="0.4" />
<line x1="274.50" y1="419.49" x2="275.40" y2="419.49" stroke="#777" stroke-width="0.4" />
<line x1="274.50" y1="417.59" x2="275.40" y2="417.59" stroke="#777" stroke-width="0.4" />
<line x1="274.50" y1="413.81" x2="275.40" y2="413.81" stroke="#777" stroke-width="0.4" />
<line x1="274.50" y1="411.91" x2="275.40" y2="411.91" stroke="#777" stroke-width="0.4" />
<line x1="274.50" y1="410.02" x2="275.40" y2="410.02" stroke="#777" stroke-width="0.4" />
<line x1="274.50" y1="408.13" x2="275.40" y2="408.13" stroke="#777" stroke-width="0.4" />
<line x1="274.50" y1="404.34" x2="275.40" y2="404.34" stroke="#777" stroke-width="0.4" />
<line x1="274.50" y1="402.45" x2="275.40" y2="402.45" stroke="#777" stroke-width="0.4" />
<line x1="274.50" y1="400.55" x2="275.40" y2="400.55" stroke="#777" stroke-width="0.4" />
<line x1="274.50" y1="398.66" x2="275.40" y2="398.66" stroke="#777" stroke-width="0.4" />
<line x1="274.50" y1="394.87" x2="275.40" y2="394.87" stroke="#777" stroke-width="0.4" />
<line x1="274.50" y1="392.98" x2="275.40" y2="392.98" stroke="#777" stroke-width="0.4" />
<line x1="274.50" y1="391.09" x2="275.40" y2="391.09" stroke="#777" stroke-width="0.4" />
<line x1="274.50" y1="389.19" x2="275.40" y2="389.19" stroke="#777" stroke-width="0.4" />
<line x1="274.50" y1="385.41" x2="275.40" y2="385.41" stroke="#777" stroke-width="0.4" />
<line x1="274.50" y1="383.51" x2="275.40" y2="383.51" stroke="#777" stroke-width="0.4" />
<line x1="274.50" y1="381.62" x2="275.40" y2="381.62" stroke="#777" stroke-width="0.4" />
<line x1="274.50" y1="379.73" x2="275.40" y2="379.73" stroke="#777" stroke-width="0.4" />
<line x1="274.50" y1="375.94" x2="275.40" y2="375.94" stroke="#777" stroke-width="0.4" />
<line x1="274.50" y1="374.05" x2="275.40" y2="374.05" stroke="#777" stroke-width="0.4" />
<line x1="274.50" y1="372.15" x2="275.40" y2="372.15" stroke="#777" stroke-width="0.4" />
<line x1="274.50" y1="370.26" x2="275.40" y2="370.26" stroke="#777" stroke-width="0.4" />
<line x1="274.50" y1="366.47" x2="275.40" y2="366.47" stroke="#777" stroke-width="0.4" />
<line x1="274.50" y1="364.58" x2="275.40" y2="364.58" stroke="#777" stroke-width="0.4" />
<line x1="274.50" y1="362.69" x2="275.40" y2="362.69" stroke="#777" stroke-width="0.4" />
<line x1="274.50" y1="360.79" x2="275.40" y2="360.79" stroke="#777" stroke-width="0.4" />
<line x1="282.40" y1="444.10" x2="282.40" y2="445.70" stroke="#555" stroke-width="0.5" />
<text x="282.40" y="451.60" font-family="Liberation Sans" font-size="5.0" font-weight="normal" fill="#222" text-anchor="middle" >25.9</text>
<line x1="297.45" y1="444.10" x2="297.45" y2="445.70" stroke="#555" stroke-width="0.5" />
<text x="297.45" y="451.60" font-family="Liberation Sans" font-size="5.0" font-weight="normal" fill="#222" text-anchor="middle" >26.0</text>
<line x1="312.50" y1="444.10" x2="312.50" y2="445.70" stroke="#555" stroke-width="0.5" />
<text x="312.50" y="451.60" font-family="Liberation Sans" font-size="5.0" font-weight="normal" fill="#222" text-anchor="middle" >26.1</text>
<line x1="327.55" y1="444.10" x2="327.55" y2="445.70" stroke="#555" stroke-width="0.5" />
<text x="327.55" y="451.60" font-family="Liberation Sans" font-size="5.0" font-weight="normal" fill="#222" text-anchor="middle" >26.2</text>
<line x1="342.60" y1="444.10" x2="342.60" y2="445.70" stroke="#555" stroke-width="0.5" />
<text x="342.60" y="451.60" font-family="Liberation Sans" font-size="5.0" font-weight="normal" fill="#222" text-anchor="middle" >26.3</text>
<line x1="357.65" y1="444.10" x2="357.65" y2="445.70" stroke="#555" stroke-width="0.5" />
<text x="357.65" y="451.60" font-family="Liberation Sans" font-size="5.0" font-weight="normal" fill="#222" text-anchor="middle" >26.4</text>
<text x="319.60" y="459.30" font-family="Liberation Sans" font-size="5.0" font-weight="bold" fill="#222" text-anchor="middle" textLength="34.00" lengthAdjust="spacingAndGlyphs" >Retention Time</text>
<text x="0" y="0" transform="translate(259.59999999999997,401.5) rotate(-90)" font-family="Liberation Sans" font-size="5.4" font-weight="bold" fill="#111" text-anchor="middle" textLength="35" lengthAdjust="spacingAndGlyphs">Intensity (10^3)</text>
<line x1="306.50" y1="386.00" x2="306.50" y2="444.10" stroke="#666" stroke-width="0.7" />
<line x1="332.20" y1="386.00" x2="332.20" y2="444.10" stroke="#666" stroke-width="0.7" />
<polyline points="275.40,444.30 316.00,444.30 316.50,443.23 317.40,441.85 318.30,442.64 319.20,441.58 320.10,441.48 321.00,444.01 321.90,444.24 322.80,440.53 323.70,443.13 324.60,443.25 325.50,439.82 326.40,442.18 327.30,440.54 328.20,442.16 329.10,441.42 330.00,443.62 330.90,441.44 331.80,440.39 332.70,441.95 334.00,444.30 363.80,444.30" fill="none" stroke="#a84028" stroke-width="0.85" stroke-linejoin="round" />
<polyline points="275.40,444.30 316.00,444.30 316.50,443.23 317.40,441.85 318.30,442.64 319.20,441.58 320.10,441.48 321.00,444.01 321.90,444.24 322.80,440.53 323.70,443.13 324.60,443.25 325.50,439.82 326.40,442.18 327.30,440.54 328.20,442.16 329.10,441.42 330.00,443.62 330.90,441.44 331.80,440.39 332.70,441.95 334.00,444.30 363.80,444.30" fill="none" stroke="#fff" stroke-width="0.255" stroke-linejoin="round" stroke-opacity="0.45"/>
<polyline points="275.40,444.30 306.50,444.30 306.50,443.46 308.00,439.07 309.05,436.74 310.10,434.15 311.60,432.09 313.10,434.93 314.50,429.17 315.60,426.58 316.70,424.71 317.80,425.14 318.90,425.66 320.00,426.98 321.10,427.91 322.20,426.97 323.30,429.13 324.40,428.48 325.50,429.23 326.60,429.46 327.70,432.54 328.80,433.35 329.90,435.14 330.95,434.49 332.00,433.04 333.10,435.97 334.20,438.59 335.30,436.94 336.40,438.33 337.50,438.32 338.60,439.24 339.70,442.99 340.80,444.30 363.80,444.30" fill="none" stroke="#2a3af0" stroke-width="1.0" stroke-linejoin="round" />
<polyline points="275.40,444.30 306.50,444.30 306.50,443.46 308.00,439.07 309.05,436.74 310.10,434.15 311.60,432.09 313.10,434.93 314.50,429.17 315.60,426.58 316.70,424.71 317.80,425.14 318.90,425.66 320.00,426.98 321.10,427.91 322.20,426.97 323.30,429.13 324.40,428.48 325.50,429.23 326.60,429.46 327.70,432.54 328.80,433.35 329.90,435.14 330.95,434.49 332.00,433.04 333.10,435.97 334.20,438.59 335.30,436.94 336.40,438.33 337.50,438.32 338.60,439.24 339.70,442.99 340.80,444.30 363.80,444.30" fill="none" stroke="#fff" stroke-width="0.3" stroke-linejoin="round" stroke-opacity="0.45"/>
<polyline points="275.80,437.20 277.30,432.80 278.80,438.60 280.20,424.00 281.70,421.10 283.10,425.50 284.60,415.30 286.10,413.80 287.50,418.20 289.70,413.80 291.20,408.00 292.60,396.30 294.10,394.80 295.50,389.00 296.30,383.10 297.70,387.50 299.20,374.40 299.90,393.40 301.40,387.50 302.80,394.80 304.30,405.00 305.80,403.60 307.20,413.80 308.70,405.00 310.10,399.20 310.90,410.90 313.10,399.20 314.50,394.80 316.00,397.70 317.40,390.40 318.20,403.60 319.60,386.10 321.10,391.90 322.60,394.80 324.00,399.20 325.50,402.10 326.90,408.00 328.40,415.30 329.90,412.30 331.30,418.20 332.80,419.60 334.20,425.50 335.70,432.80 337.20,428.40 338.60,435.70 340.10,431.30 342.30,438.60 344.50,432.80 346.00,438.60 347.40,431.30 348.80,441.50 351.00,437.20 353.20,434.20 354.70,438.60 356.90,435.70 358.30,440.10 360.50,438.60 362.00,443.00 363.40,441.50" fill="none" stroke="#8f48e0" stroke-width="1.0" stroke-linejoin="round" />
<polyline points="275.80,437.20 277.30,432.80 278.80,438.60 280.20,424.00 281.70,421.10 283.10,425.50 284.60,415.30 286.10,413.80 287.50,418.20 289.70,413.80 291.20,408.00 292.60,396.30 294.10,394.80 295.50,389.00 296.30,383.10 297.70,387.50 299.20,374.40 299.90,393.40 301.40,387.50 302.80,394.80 304.30,405.00 305.80,403.60 307.20,413.80 308.70,405.00 310.10,399.20 310.90,410.90 313.10,399.20 314.50,394.80 316.00,397.70 317.40,390.40 318.20,403.60 319.60,386.10 321.10,391.90 322.60,394.80 324.00,399.20 325.50,402.10 326.90,408.00 328.40,415.30 329.90,412.30 331.30,418.20 332.80,419.60 334.20,425.50 335.70,432.80 337.20,428.40 338.60,435.70 340.10,431.30 342.30,438.60 344.50,432.80 346.00,438.60 347.40,431.30 348.80,441.50 351.00,437.20 353.20,434.20 354.70,438.60 356.90,435.70 358.30,440.10 360.50,438.60 362.00,443.00 363.40,441.50" fill="none" stroke="#fff" stroke-width="0.3" stroke-linejoin="round" stroke-opacity="0.45"/>
<text x="319.20" y="377.60" font-family="Liberation Sans" font-size="4.5" font-weight="normal" fill="#9a5ae6" text-anchor="middle" >26.1</text>
<text x="319.20" y="382.20" font-family="Liberation Sans" font-size="4.5" font-weight="normal" fill="#9a5ae6" text-anchor="middle" >+2.2 ppm</text>
<polygon points="315.60,385.20 318.80,386.30 315.60,387.40" fill="#000" stroke="none" stroke-width="1" stroke-linejoin="miter" />
<line x1="27.10" y1="478.40" x2="27.10" y2="564.00" stroke="#555" stroke-width="0.6" />
<line x1="27.10" y1="564.00" x2="117.20" y2="564.00" stroke="#555" stroke-width="0.6" />
<line x1="25.50" y1="564.00" x2="27.10" y2="564.00" stroke="#555" stroke-width="0.5" />
<text x="23.80" y="565.70" font-family="Liberation Sans" font-size="5.0" font-weight="normal" fill="#222" text-anchor="end" >0</text>
<line x1="25.50" y1="546.88" x2="27.10" y2="546.88" stroke="#555" stroke-width="0.5" />
<text x="23.80" y="548.58" font-family="Liberation Sans" font-size="5.0" font-weight="normal" fill="#222" text-anchor="end" >100</text>
<line x1="25.50" y1="529.76" x2="27.10" y2="529.76" stroke="#555" stroke-width="0.5" />
<text x="23.80" y="531.46" font-family="Liberation Sans" font-size="5.0" font-weight="normal" fill="#222" text-anchor="end" >200</text>
<line x1="25.50" y1="512.64" x2="27.10" y2="512.64" stroke="#555" stroke-width="0.5" />
<text x="23.80" y="514.34" font-family="Liberation Sans" font-size="5.0" font-weight="normal" fill="#222" text-anchor="end" >300</text>
<line x1="25.50" y1="495.52" x2="27.10" y2="495.52" stroke="#555" stroke-width="0.5" />
<text x="23.80" y="497.22" font-family="Liberation Sans" font-size="5.0" font-weight="normal" fill="#222" text-anchor="end" >400</text>
<line x1="25.50" y1="478.40" x2="27.10" y2="478.40" stroke="#555" stroke-width="0.5" />
<text x="23.80" y="480.10" font-family="Liberation Sans" font-size="5.0" font-weight="normal" fill="#222" text-anchor="end" >500</text>
<line x1="26.20" y1="560.58" x2="27.10" y2="560.58" stroke="#777" stroke-width="0.4" />
<line x1="26.20" y1="557.15" x2="27.10" y2="557.15" stroke="#777" stroke-width="0.4" />
<line x1="26.20" y1="553.73" x2="27.10" y2="553.73" stroke="#777" stroke-width="0.4" />
<line x1="26.20" y1="550.30" x2="27.10" y2="550.30" stroke="#777" stroke-width="0.4" />
<line x1="26.20" y1="543.46" x2="27.10" y2="543.46" stroke="#777" stroke-width="0.4" />
<line x1="26.20" y1="540.03" x2="27.10" y2="540.03" stroke="#777" stroke-width="0.4" />
<line x1="26.20" y1="536.61" x2="27.10" y2="536.61" stroke="#777" stroke-width="0.4" />
<line x1="26.20" y1="533.18" x2="27.10" y2="533.18" stroke="#777" stroke-width="0.4" />
<line x1="26.20" y1="526.34" x2="27.10" y2="526.34" stroke="#777" stroke-width="0.4" />
<line x1="26.20" y1="522.91" x2="27.10" y2="522.91" stroke="#777" stroke-width="0.4" />
<line x1="26.20" y1="519.49" x2="27.10" y2="519.49" stroke="#777" stroke-width="0.4" />
<line x1="26.20" y1="516.06" x2="27.10" y2="516.06" stroke="#777" stroke-width="0.4" />
<line x1="26.20" y1="509.22" x2="27.10" y2="509.22" stroke="#777" stroke-width="0.4" />
<line x1="26.20" y1="505.79" x2="27.10" y2="505.79" stroke="#777" stroke-width="0.4" />
<line x1="26.20" y1="502.37" x2="27.10" y2="502.37" stroke="#777" stroke-width="0.4" />
<line x1="26.20" y1="498.94" x2="27.10" y2="498.94" stroke="#777" stroke-width="0.4" />
<line x1="26.20" y1="492.10" x2="27.10" y2="492.10" stroke="#777" stroke-width="0.4" />
<line x1="26.20" y1="488.67" x2="27.10" y2="488.67" stroke="#777" stroke-width="0.4" />
<line x1="26.20" y1="485.25" x2="27.10" y2="485.25" stroke="#777" stroke-width="0.4" />
<line x1="26.20" y1="481.82" x2="27.10" y2="481.82" stroke="#777" stroke-width="0.4" />
<line x1="52.60" y1="564.00" x2="52.60" y2="565.60" stroke="#555" stroke-width="0.5" />
<text x="52.60" y="570.90" font-family="Liberation Sans" font-size="5.0" font-weight="normal" fill="#222" text-anchor="middle" >26.0</text>
<line x1="78.65" y1="564.00" x2="78.65" y2="565.60" stroke="#555" stroke-width="0.5" />
<text x="78.65" y="570.90" font-family="Liberation Sans" font-size="5.0" font-weight="normal" fill="#222" text-anchor="middle" >26.5</text>
<line x1="104.70" y1="564.00" x2="104.70" y2="565.60" stroke="#555" stroke-width="0.5" />
<text x="104.70" y="570.90" font-family="Liberation Sans" font-size="5.0" font-weight="normal" fill="#222" text-anchor="middle" >27.0</text>
<text x="72.15" y="578.30" font-family="Liberation Sans" font-size="5.0" font-weight="bold" fill="#222" text-anchor="middle" textLength="34.00" lengthAdjust="spacingAndGlyphs" >Retention Time</text>
<text x="0" y="0" transform="translate(11.3,521.2) rotate(-90)" font-family="Liberation Sans" font-size="5.4" font-weight="bold" fill="#111" text-anchor="middle" textLength="35" lengthAdjust="spacingAndGlyphs">Intensity (10^3)</text>
<line x1="58.40" y1="491.00" x2="58.40" y2="564.00" stroke="#666" stroke-width="0.7" />
<line x1="84.20" y1="491.00" x2="84.20" y2="564.00" stroke="#666" stroke-width="0.7" />
<polyline points="27.23,564.00 27.66,564.00 28.09,564.00 28.53,564.00 28.96,564.00 29.39,564.00 29.82,564.00 30.25,564.00 30.68,564.00 31.11,564.00 31.54,564.00 31.97,564.00 32.40,564.00 32.84,564.00 33.27,564.00 33.70,564.00 34.13,564.00 34.56,564.00 34.99,564.00 35.42,564.00 35.85,564.00 36.28,564.00 36.71,564.00 37.15,564.00 37.58,564.00 38.01,564.00 38.44,564.00 38.87,564.00 39.30,564.00 39.73,564.00 40.16,564.00 40.59,564.00 41.02,564.00 41.46,564.00 41.89,564.00 42.32,564.00 42.75,564.00 43.18,564.00 43.61,564.00 44.04,564.00 44.47,564.00 44.90,564.00 45.33,564.00 45.77,564.00 46.20,564.00 46.63,564.00 47.06,564.00 47.49,564.00 47.92,564.00 48.35,564.00 48.78,564.00 49.21,564.00 49.64,564.00 50.08,564.00 50.51,564.00 50.94,564.00 51.37,564.00 51.80,564.00 52.23,564.00 52.66,564.00 53.09,564.00 53.52,564.00 53.95,564.00 54.39,564.00 54.82,564.00 55.25,564.00 55.68,564.00 56.11,564.00 56.54,564.00 56.97,564.00 57.40,564.00 57.83,563.99 58.26,563.98 58.70,563.97 59.13,563.93 59.56,563.87 59.99,563.77 60.42,563.61 60.85,563.37 61.28,563.00 61.71,562.50 62.14,561.84 62.57,561.01 63.01,560.04 63.44,558.97 63.87,557.88 64.30,556.87 64.73,556.04 65.16,555.48 65.59,555.27 66.02,555.54 66.45,555.86 66.88,556.20 67.32,556.58 67.75,556.97 68.18,557.39 68.61,557.81 69.04,558.24 69.47,558.67 69.90,559.10 70.33,559.51 70.76,559.91 71.19,560.29 71.63,560.65 72.06,560.98 72.49,561.29 72.92,561.57 73.35,561.82 73.78,562.05 74.21,562.25 74.64,562.43 75.07,562.58 75.51,562.72 75.94,562.84 76.37,562.95 76.80,563.04 77.23,563.12 77.66,563.19 78.09,563.26 78.52,563.31 78.95,563.36 79.38,563.41 79.82,563.45 80.25,563.49 80.68,563.52 81.11,563.55 81.54,563.58 81.97,563.61 82.40,563.63 82.83,563.66 83.26,563.68 83.69,563.70 84.13,563.72 84.56,563.73 84.99,563.75 85.42,563.77 85.85,563.78 86.28,563.79 86.71,563.81 87.14,563.82 87.57,563.83 88.00,563.84 88.44,563.85 88.87,563.86 89.30,563.87 89.73,563.88 90.16,563.88 90.59,563.89 91.02,563.90 91.45,563.90 91.88,563.91 92.31,563.92 92.75,563.92 93.18,563.93 93.61,563.93 94.04,563.93 94.47,563.94 94.90,563.94 95.33,563.95 95.76,563.95 96.19,563.95 96.62,563.96 97.06,563.96 97.49,563.96 97.92,563.96 98.35,563.97 98.78,563.97 99.21,563.97 99.64,563.97 100.07,563.97 100.50,563.97 100.93,563.98 101.37,563.98 101.80,563.98 102.23,563.98 102.66,563.98 103.09,563.98 103.52,563.98 103.95,563.98 104.38,563.99 104.81,563.99 105.24,563.99 105.68,563.99 106.11,563.99 106.54,563.99 106.97,563.99 107.40,563.99 107.83,563.99 108.26,563.99 108.69,563.99 109.12,563.99 109.55,563.99 109.99,563.99 110.42,563.99 110.85,563.99 111.28,563.99 111.71,564.00 112.14,564.00 112.57,564.00 113.00,564.00 113.43,564.00 113.86,564.00 114.30,564.00 114.73,564.00 115.16,564.00 115.59,564.00 116.02,564.00 116.45,564.00 116.88,564.00 117.31,564.00" fill="none" stroke="#e08a40" stroke-width="0.85" stroke-linejoin="round" />
<polyline points="27.23,564.00 27.66,564.00 28.09,564.00 28.53,564.00 28.96,564.00 29.39,564.00 29.82,564.00 30.25,564.00 30.68,564.00 31.11,564.00 31.54,564.00 31.97,564.00 32.40,564.00 32.84,564.00 33.27,564.00 33.70,564.00 34.13,564.00 34.56,564.00 34.99,564.00 35.42,564.00 35.85,564.00 36.28,564.00 36.71,564.00 37.15,564.00 37.58,564.00 38.01,564.00 38.44,564.00 38.87,564.00 39.30,564.00 39.73,564.00 40.16,564.00 40.59,564.00 41.02,564.00 41.46,564.00 41.89,564.00 42.32,564.00 42.75,564.00 43.18,564.00 43.61,564.00 44.04,564.00 44.47,564.00 44.90,564.00 45.33,564.00 45.77,564.00 46.20,564.00 46.63,564.00 47.06,564.00 47.49,564.00 47.92,564.00 48.35,564.00 48.78,564.00 49.21,564.00 49.64,564.00 50.08,564.00 50.51,564.00 50.94,564.00 51.37,564.00 51.80,564.00 52.23,564.00 52.66,564.00 53.09,564.00 53.52,564.00 53.95,564.00 54.39,564.00 54.82,564.00 55.25,564.00 55.68,564.00 56.11,564.00 56.54,564.00 56.97,564.00 57.40,564.00 57.83,563.99 58.26,563.98 58.70,563.97 59.13,563.93 59.56,563.87 59.99,563.77 60.42,563.61 60.85,563.37 61.28,563.00 61.71,562.50 62.14,561.84 62.57,561.01 63.01,560.04 63.44,558.97 63.87,557.88 64.30,556.87 64.73,556.04 65.16,555.48 65.59,555.27 66.02,555.54 66.45,555.86 66.88,556.20 67.32,556.58 67.75,556.97 68.18,557.39 68.61,557.81 69.04,558.24 69.47,558.67 69.90,559.10 70.33,559.51 70.76,559.91 71.19,560.29 71.63,560.65 72.06,560.98 72.49,561.29 72.92,561.57 73.35,561.82 73.78,562.05 74.21,562.25 74.64,562.43 75.07,562.58 75.51,562.72 75.94,562.84 76.37,562.95 76.80,563.04 77.23,563.12 77.66,563.19 78.09,563.26 78.52,563.31 78.95,563.36 79.38,563.41 79.82,563.45 80.25,563.49 80.68,563.52 81.11,563.55 81.54,563.58 81.97,563.61 82.40,563.63 82.83,563.66 83.26,563.68 83.69,563.70 84.13,563.72 84.56,563.73 84.99,563.75 85.42,563.77 85.85,563.78 86.28,563.79 86.71,563.81 87.14,563.82 87.57,563.83 88.00,563.84 88.44,563.85 88.87,563.86 89.30,563.87 89.73,563.88 90.16,563.88 90.59,563.89 91.02,563.90 91.45,563.90 91.88,563.91 92.31,563.92 92.75,563.92 93.18,563.93 93.61,563.93 94.04,563.93 94.47,563.94 94.90,563.94 95.33,563.95 95.76,563.95 96.19,563.95 96.62,563.96 97.06,563.96 97.49,563.96 97.92,563.96 98.35,563.97 98.78,563.97 99.21,563.97 99.64,563.97 100.07,563.97 100.50,563.97 100.93,563.98 101.37,563.98 101.80,563.98 102.23,563.98 102.66,563.98 103.09,563.98 103.52,563.98 103.95,563.98 104.38,563.99 104.81,563.99 105.24,563.99 105.68,563.99 106.11,563.99 106.54,563.99 106.97,563.99 107.40,563.99 107.83,563.99 108.26,563.99 108.69,563.99 109.12,563.99 109.55,563.99 109.99,563.99 110.42,563.99 110.85,563.99 111.28,563.99 111.71,564.00 112.14,564.00 112.57,564.00 113.00,564.00 113.43,564.00 113.86,564.00 114.30,564.00 114.73,564.00 115.16,564.00 115.59,564.00 116.02,564.00 116.45,564.00 116.88,564.00 117.31,564.00" fill="none" stroke="#fff" stroke-width="0.255" stroke-linejoin="round" stroke-opacity="0.45"/>
<polyline points="27.23,564.00 27.66,564.00 28.09,564.00 28.53,564.00 28.96,564.00 29.39,564.00 29.82,564.00 30.25,564.00 30.68,564.00 31.11,564.00 31.54,564.00 31.97,564.00 32.40,564.00 32.84,564.00 33.27,564.00 33.70,564.00 34.13,564.00 34.56,564.00 34.99,564.00 35.42,564.00 35.85,564.00 36.28,564.00 36.71,564.00 37.15,564.00 37.58,564.00 38.01,564.00 38.44,564.00 38.87,564.00 39.30,564.00 39.73,564.00 40.16,564.00 40.59,564.00 41.02,564.00 41.46,564.00 41.89,564.00 42.32,564.00 42.75,564.00 43.18,564.00 43.61,564.00 44.04,564.00 44.47,564.00 44.90,564.00 45.33,564.00 45.77,564.00 46.20,564.00 46.63,564.00 47.06,564.00 47.49,564.00 47.92,564.00 48.35,564.00 48.78,564.00 49.21,564.00 49.64,564.00 50.08,564.00 50.51,564.00 50.94,564.00 51.37,564.00 51.80,564.00 52.23,564.00 52.66,564.00 53.09,564.00 53.52,564.00 53.95,564.00 54.39,564.00 54.82,564.00 55.25,564.00 55.68,564.00 56.11,564.00 56.54,564.00 56.97,564.00 57.40,563.99 57.83,563.99 58.26,563.97 58.70,563.94 59.13,563.88 59.56,563.77 59.99,563.59 60.42,563.30 60.85,562.86 61.28,562.20 61.71,561.30 62.14,560.10 62.57,558.60 63.01,556.85 63.44,554.92 63.87,552.96 64.30,551.14 64.73,549.64 65.16,548.64 65.59,548.25 66.02,548.73 66.45,549.31 66.88,549.94 67.32,550.61 67.75,551.32 68.18,552.07 68.61,552.84 69.04,553.61 69.47,554.39 69.90,555.16 70.33,555.91 70.76,556.63 71.19,557.32 71.63,557.96 72.06,558.56 72.49,559.11 72.92,559.61 73.35,560.07 73.78,560.48 74.21,560.84 74.64,561.16 75.07,561.45 75.51,561.69 75.94,561.91 76.37,562.10 76.80,562.27 77.23,562.42 77.66,562.55 78.09,562.66 78.52,562.76 78.95,562.85 79.38,562.93 79.82,563.01 80.25,563.07 80.68,563.14 81.11,563.19 81.54,563.24 81.97,563.29 82.40,563.34 82.83,563.38 83.26,563.42 83.69,563.45 84.13,563.49 84.56,563.52 84.99,563.55 85.42,563.58 85.85,563.60 86.28,563.63 86.71,563.65 87.14,563.67 87.57,563.69 88.00,563.71 88.44,563.73 88.87,563.75 89.30,563.76 89.73,563.78 90.16,563.79 90.59,563.80 91.02,563.81 91.45,563.83 91.88,563.84 92.31,563.85 92.75,563.86 93.18,563.87 93.61,563.87 94.04,563.88 94.47,563.89 94.90,563.90 95.33,563.90 95.76,563.91 96.19,563.91 96.62,563.92 97.06,563.92 97.49,563.93 97.92,563.93 98.35,563.94 98.78,563.94 99.21,563.94 99.64,563.95 100.07,563.95 100.50,563.95 100.93,563.96 101.37,563.96 101.80,563.96 102.23,563.96 102.66,563.97 103.09,563.97 103.52,563.97 103.95,563.97 104.38,563.97 104.81,563.98 105.24,563.98 105.68,563.98 106.11,563.98 106.54,563.98 106.97,563.98 107.40,563.98 107.83,563.98 108.26,563.99 108.69,563.99 109.12,563.99 109.55,563.99 109.99,563.99 110.42,563.99 110.85,563.99 111.28,563.99 111.71,563.99 112.14,563.99 112.57,563.99 113.00,563.99 113.43,563.99 113.86,563.99 114.30,563.99 114.73,563.99 115.16,563.99 115.59,564.00 116.02,564.00 116.45,564.00 116.88,564.00 117.31,564.00" fill="none" stroke="#a84028" stroke-width="0.85" stroke-linejoin="round" />
<polyline points="27.23,564.00 27.66,564.00 28.09,564.00 28.53,564.00 28.96,564.00 29.39,564.00 29.82,564.00 30.25,564.00 30.68,564.00 31.11,564.00 31.54,564.00 31.97,564.00 32.40,564.00 32.84,564.00 33.27,564.00 33.70,564.00 34.13,564.00 34.56,564.00 34.99,564.00 35.42,564.00 35.85,564.00 36.28,564.00 36.71,564.00 37.15,564.00 37.58,564.00 38.01,564.00 38.44,564.00 38.87,564.00 39.30,564.00 39.73,564.00 40.16,564.00 40.59,564.00 41.02,564.00 41.46,564.00 41.89,564.00 42.32,564.00 42.75,564.00 43.18,564.00 43.61,564.00 44.04,564.00 44.47,564.00 44.90,564.00 45.33,564.00 45.77,564.00 46.20,564.00 46.63,564.00 47.06,564.00 47.49,564.00 47.92,564.00 48.35,564.00 48.78,564.00 49.21,564.00 49.64,564.00 50.08,564.00 50.51,564.00 50.94,564.00 51.37,564.00 51.80,564.00 52.23,564.00 52.66,564.00 53.09,564.00 53.52,564.00 53.95,564.00 54.39,564.00 54.82,564.00 55.25,564.00 55.68,564.00 56.11,564.00 56.54,564.00 56.97,564.00 57.40,563.99 57.83,563.99 58.26,563.97 58.70,563.94 59.13,563.88 59.56,563.77 59.99,563.59 60.42,563.30 60.85,562.86 61.28,562.20 61.71,561.30 62.14,560.10 62.57,558.60 63.01,556.85 63.44,554.92 63.87,552.96 64.30,551.14 64.73,549.64 65.16,548.64 65.59,548.25 66.02,548.73 66.45,549.31 66.88,549.94 67.32,550.61 67.75,551.32 68.18,552.07 68.61,552.84 69.04,553.61 69.47,554.39 69.90,555.16 70.33,555.91 70.76,556.63 71.19,557.32 71.63,557.96 72.06,558.56 72.49,559.11 72.92,559.61 73.35,560.07 73.78,560.48 74.21,560.84 74.64,561.16 75.07,561.45 75.51,561.69 75.94,561.91 76.37,562.10 76.80,562.27 77.23,562.42 77.66,562.55 78.09,562.66 78.52,562.76 78.95,562.85 79.38,562.93 79.82,563.01 80.25,563.07 80.68,563.14 81.11,563.19 81.54,563.24 81.97,563.29 82.40,563.34 82.83,563.38 83.26,563.42 83.69,563.45 84.13,563.49 84.56,563.52 84.99,563.55 85.42,563.58 85.85,563.60 86.28,563.63 86.71,563.65 87.14,563.67 87.57,563.69 88.00,563.71 88.44,563.73 88.87,563.75 89.30,563.76 89.73,563.78 90.16,563.79 90.59,563.80 91.02,563.81 91.45,563.83 91.88,563.84 92.31,563.85 92.75,563.86 93.18,563.87 93.61,563.87 94.04,563.88 94.47,563.89 94.90,563.90 95.33,563.90 95.76,563.91 96.19,563.91 96.62,563.92 97.06,563.92 97.49,563.93 97.92,563.93 98.35,563.94 98.78,563.94 99.21,563.94 99.64,563.95 100.07,563.95 100.50,563.95 100.93,563.96 101.37,563.96 101.80,563.96 102.23,563.96 102.66,563.97 103.09,563.97 103.52,563.97 103.95,563.97 104.38,563.97 104.81,563.98 105.24,563.98 105.68,563.98 106.11,563.98 106.54,563.98 106.97,563.98 107.40,563.98 107.83,563.98 108.26,563.99 108.69,563.99 109.12,563.99 109.55,563.99 109.99,563.99 110.42,563.99 110.85,563.99 111.28,563.99 111.71,563.99 112.14,563.99 112.57,563.99 113.00,563.99 113.43,563.99 113.86,563.99 114.30,563.99 114.73,563.99 115.16,563.99 115.59,564.00 116.02,564.00 116.45,564.00 116.88,564.00 117.31,564.00" fill="none" stroke="#fff" stroke-width="0.255" stroke-linejoin="round" stroke-opacity="0.45"/>
<polyline points="27.23,564.00 27.66,564.00 28.09,564.00 28.53,564.00 28.96,564.00 29.39,564.00 29.82,564.00 30.25,564.00 30.68,564.00 31.11,564.00 31.54,564.00 31.97,564.00 32.40,564.00 32.84,564.00 33.27,564.00 33.70,564.00 34.13,564.00 34.56,564.00 34.99,564.00 35.42,564.00 35.85,564.00 36.28,564.00 36.71,564.00 37.15,564.00 37.58,564.00 38.01,564.00 38.44,564.00 38.87,564.00 39.30,564.00 39.73,564.00 40.16,564.00 40.59,564.00 41.02,564.00 41.46,564.00 41.89,564.00 42.32,564.00 42.75,564.00 43.18,564.00 43.61,564.00 44.04,564.00 44.47,564.00 44.90,564.00 45.33,564.00 45.77,564.00 46.20,564.00 46.63,564.00 47.06,564.00 47.49,564.00 47.92,564.00 48.35,564.00 48.78,564.00 49.21,564.00 49.64,564.00 50.08,564.00 50.51,564.00 50.94,564.00 51.37,564.00 51.80,564.00 52.23,564.00 52.66,564.00 53.09,564.00 53.52,564.00 53.95,564.00 54.39,564.00 54.82,564.00 55.25,564.00 55.68,564.00 56.11,564.00 56.54,563.99 56.97,563.98 57.40,563.97 57.83,563.93 58.26,563.85 58.70,563.70 59.13,563.43 59.56,562.96 59.99,562.19 60.42,560.97 60.85,559.16 61.28,556.59 61.71,553.12 62.14,548.70 62.57,543.38 63.01,537.38 63.44,531.07 63.87,524.98 64.30,519.69 64.73,515.78 65.16,513.74 65.59,514.37 66.02,516.15 66.45,518.10 66.88,520.20 67.32,522.44 67.75,524.79 68.18,527.22 68.61,529.71 69.04,532.21 69.47,534.69 69.90,537.12 70.33,539.47 70.76,541.71 71.19,543.83 71.63,545.81 72.06,547.64 72.49,549.32 72.92,550.84 73.35,552.20 73.78,553.42 74.21,554.51 74.64,555.46 75.07,556.30 75.51,557.04 75.94,557.69 76.37,558.25 76.80,558.75 77.23,559.18 77.66,559.56 78.09,559.90 78.52,560.21 78.95,560.48 79.38,560.73 79.82,560.95 80.25,561.15 80.68,561.34 81.11,561.51 81.54,561.67 81.97,561.82 82.40,561.95 82.83,562.08 83.26,562.20 83.69,562.31 84.13,562.42 84.56,562.51 84.99,562.61 85.42,562.69 85.85,562.77 86.28,562.85 86.71,562.92 87.14,562.99 87.57,563.05 88.00,563.11 88.44,563.16 88.87,563.21 89.30,563.26 89.73,563.31 90.16,563.35 90.59,563.39 91.02,563.43 91.45,563.46 91.88,563.50 92.31,563.53 92.75,563.56 93.18,563.58 93.61,563.61 94.04,563.63 94.47,563.66 94.90,563.68 95.33,563.70 95.76,563.72 96.19,563.73 96.62,563.75 97.06,563.77 97.49,563.78 97.92,563.79 98.35,563.81 98.78,563.82 99.21,563.83 99.64,563.84 100.07,563.85 100.50,563.86 100.93,563.87 101.37,563.88 101.80,563.88 102.23,563.89 102.66,563.90 103.09,563.90 103.52,563.91 103.95,563.92 104.38,563.92 104.81,563.93 105.24,563.93 105.68,563.93 106.11,563.94 106.54,563.94 106.97,563.95 107.40,563.95 107.83,563.95 108.26,563.96 108.69,563.96 109.12,563.96 109.55,563.96 109.99,563.97 110.42,563.97 110.85,563.97 111.28,563.97 111.71,563.97 112.14,563.97 112.57,563.98 113.00,563.98 113.43,563.98 113.86,563.98 114.30,563.98 114.73,563.98 115.16,563.98 115.59,563.98 116.02,563.99 116.45,563.99 116.88,563.99 117.31,563.99" fill="none" stroke="#2a3af0" stroke-width="1.0" stroke-linejoin="round" />
<polyline points="27.23,564.00 27.66,564.00 28.09,564.00 28.53,564.00 28.96,564.00 29.39,564.00 29.82,564.00 30.25,564.00 30.68,564.00 31.11,564.00 31.54,564.00 31.97,564.00 32.40,564.00 32.84,564.00 33.27,564.00 33.70,564.00 34.13,564.00 34.56,564.00 34.99,564.00 35.42,564.00 35.85,564.00 36.28,564.00 36.71,564.00 37.15,564.00 37.58,564.00 38.01,564.00 38.44,564.00 38.87,564.00 39.30,564.00 39.73,564.00 40.16,564.00 40.59,564.00 41.02,564.00 41.46,564.00 41.89,564.00 42.32,564.00 42.75,564.00 43.18,564.00 43.61,564.00 44.04,564.00 44.47,564.00 44.90,564.00 45.33,564.00 45.77,564.00 46.20,564.00 46.63,564.00 47.06,564.00 47.49,564.00 47.92,564.00 48.35,564.00 48.78,564.00 49.21,564.00 49.64,564.00 50.08,564.00 50.51,564.00 50.94,564.00 51.37,564.00 51.80,564.00 52.23,564.00 52.66,564.00 53.09,564.00 53.52,564.00 53.95,564.00 54.39,564.00 54.82,564.00 55.25,564.00 55.68,564.00 56.11,564.00 56.54,563.99 56.97,563.98 57.40,563.97 57.83,563.93 58.26,563.85 58.70,563.70 59.13,563.43 59.56,562.96 59.99,562.19 60.42,560.97 60.85,559.16 61.28,556.59 61.71,553.12 62.14,548.70 62.57,543.38 63.01,537.38 63.44,531.07 63.87,524.98 64.30,519.69 64.73,515.78 65.16,513.74 65.59,514.37 66.02,516.15 66.45,518.10 66.88,520.20 67.32,522.44 67.75,524.79 68.18,527.22 68.61,529.71 69.04,532.21 69.47,534.69 69.90,537.12 70.33,539.47 70.76,541.71 71.19,543.83 71.63,545.81 72.06,547.64 72.49,549.32 72.92,550.84 73.35,552.20 73.78,553.42 74.21,554.51 74.64,555.46 75.07,556.30 75.51,557.04 75.94,557.69 76.37,558.25 76.80,558.75 77.23,559.18 77.66,559.56 78.09,559.90 78.52,560.21 78.95,560.48 79.38,560.73 79.82,560.95 80.25,561.15 80.68,561.34 81.11,561.51 81.54,561.67 81.97,561.82 82.40,561.95 82.83,562.08 83.26,562.20 83.69,562.31 84.13,562.42 84.56,562.51 84.99,562.61 85.42,562.69 85.85,562.77 86.28,562.85 86.71,562.92 87.14,562.99 87.57,563.05 88.00,563.11 88.44,563.16 88.87,563.21 89.30,563.26 89.73,563.31 90.16,563.35 90.59,563.39 91.02,563.43 91.45,563.46 91.88,563.50 92.31,563.53 92.75,563.56 93.18,563.58 93.61,563.61 94.04,563.63 94.47,563.66 94.90,563.68 95.33,563.70 95.76,563.72 96.19,563.73 96.62,563.75 97.06,563.77 97.49,563.78 97.92,563.79 98.35,563.81 98.78,563.82 99.21,563.83 99.64,563.84 100.07,563.85 100.50,563.86 100.93,563.87 101.37,563.88 101.80,563.88 102.23,563.89 102.66,563.90 103.09,563.90 103.52,563.91 103.95,563.92 104.38,563.92 104.81,563.93 105.24,563.93 105.68,563.93 106.11,563.94 106.54,563.94 106.97,563.95 107.40,563.95 107.83,563.95 108.26,563.96 108.69,563.96 109.12,563.96 109.55,563.96 109.99,563.97 110.42,563.97 110.85,563.97 111.28,563.97 111.71,563.97 112.14,563.97 112.57,563.98 113.00,563.98 113.43,563.98 113.86,563.98 114.30,563.98 114.73,563.98 115.16,563.98 115.59,563.98 116.02,563.99 116.45,563.99 116.88,563.99 117.31,563.99" fill="none" stroke="#fff" stroke-width="0.3" stroke-linejoin="round" stroke-opacity="0.45"/>
<polyline points="27.23,564.00 27.66,564.00 28.09,564.00 28.53,564.00 28.96,564.00 29.39,564.00 29.82,564.00 30.25,564.00 30.68,564.00 31.11,564.00 31.54,564.00 31.97,564.00 32.40,564.00 32.84,564.00 33.27,564.00 33.70,564.00 34.13,564.00 34.56,564.00 34.99,564.00 35.42,564.00 35.85,564.00 36.28,564.00 36.71,564.00 37.15,564.00 37.58,564.00 38.01,564.00 38.44,564.00 38.87,564.00 39.30,564.00 39.73,564.00 40.16,564.00 40.59,564.00 41.02,564.00 41.46,564.00 41.89,564.00 42.32,564.00 42.75,564.00 43.18,564.00 43.61,564.00 44.04,564.00 44.47,564.00 44.90,564.00 45.33,564.00 45.77,564.00 46.20,564.00 46.63,564.00 47.06,564.00 47.49,564.00 47.92,564.00 48.35,564.00 48.78,564.00 49.21,564.00 49.64,564.00 50.08,564.00 50.51,564.00 50.94,564.00 51.37,564.00 51.80,564.00 52.23,564.00 52.66,564.00 53.09,564.00 53.52,564.00 53.95,564.00 54.39,564.00 54.82,564.00 55.25,564.00 55.68,564.00 56.11,564.00 56.54,563.99 56.97,563.99 57.40,563.97 57.83,563.93 58.26,563.86 58.70,563.71 59.13,563.43 59.56,562.94 59.99,562.10 60.42,560.75 60.85,558.68 61.28,555.63 61.71,551.39 62.14,545.80 62.57,538.84 63.01,530.66 63.44,521.68 63.87,512.53 64.30,504.02 64.73,497.03 65.16,492.35 65.59,490.56 66.02,492.80 66.45,495.42 66.88,498.24 67.32,501.25 67.75,504.41 68.18,507.71 68.61,511.10 69.04,514.54 69.47,518.00 69.90,521.44 70.33,524.81 70.76,528.08 71.19,531.21 71.63,534.20 72.06,537.00 72.49,539.62 72.92,542.03 73.35,544.24 73.78,546.25 74.21,548.06 74.64,549.68 75.07,551.13 75.51,552.41 75.94,553.55 76.37,554.54 76.80,555.42 77.23,556.19 77.66,556.87 78.09,557.47 78.52,558.00 78.95,558.47 79.38,558.89 79.82,559.26 80.25,559.60 80.68,559.91 81.11,560.19 81.54,560.44 81.97,560.67 82.40,560.89 82.83,561.09 83.26,561.27 83.69,561.44 84.13,561.60 84.56,561.75 84.99,561.89 85.42,562.02 85.85,562.14 86.28,562.26 86.71,562.37 87.14,562.47 87.57,562.56 88.00,562.65 88.44,562.73 88.87,562.81 89.30,562.89 89.73,562.95 90.16,563.02 90.59,563.08 91.02,563.14 91.45,563.19 91.88,563.24 92.31,563.29 92.75,563.33 93.18,563.37 93.61,563.41 94.04,563.45 94.47,563.48 94.90,563.51 95.33,563.54 95.76,563.57 96.19,563.60 96.62,563.62 97.06,563.65 97.49,563.67 97.92,563.69 98.35,563.71 98.78,563.73 99.21,563.74 99.64,563.76 100.07,563.77 100.50,563.79 100.93,563.80 101.37,563.81 101.80,563.82 102.23,563.83 102.66,563.85 103.09,563.85 103.52,563.86 103.95,563.87 104.38,563.88 104.81,563.89 105.24,563.89 105.68,563.90 106.11,563.91 106.54,563.91 106.97,563.92 107.40,563.92 107.83,563.93 108.26,563.93 108.69,563.94 109.12,563.94 109.55,563.94 109.99,563.95 110.42,563.95 110.85,563.95 111.28,563.96 111.71,563.96 112.14,563.96 112.57,563.96 113.00,563.97 113.43,563.97 113.86,563.97 114.30,563.97 114.73,563.97 115.16,563.98 115.59,563.98 116.02,563.98 116.45,563.98 116.88,563.98 117.31,563.98" fill="none" stroke="#8f48e0" stroke-width="1.0" stroke-linejoin="round" />
<polyline points="27.23,564.00 27.66,564.00 28.09,564.00 28.53,564.00 28.96,564.00 29.39,564.00 29.82,564.00 30.25,564.00 30.68,564.00 31.11,564.00 31.54,564.00 31.97,564.00 32.40,564.00 32.84,564.00 33.27,564.00 33.70,564.00 34.13,564.00 34.56,564.00 34.99,564.00 35.42,564.00 35.85,564.00 36.28,564.00 36.71,564.00 37.15,564.00 37.58,564.00 38.01,564.00 38.44,564.00 38.87,564.00 39.30,564.00 39.73,564.00 40.16,564.00 40.59,564.00 41.02,564.00 41.46,564.00 41.89,564.00 42.32,564.00 42.75,564.00 43.18,564.00 43.61,564.00 44.04,564.00 44.47,564.00 44.90,564.00 45.33,564.00 45.77,564.00 46.20,564.00 46.63,564.00 47.06,564.00 47.49,564.00 47.92,564.00 48.35,564.00 48.78,564.00 49.21,564.00 49.64,564.00 50.08,564.00 50.51,564.00 50.94,564.00 51.37,564.00 51.80,564.00 52.23,564.00 52.66,564.00 53.09,564.00 53.52,564.00 53.95,564.00 54.39,564.00 54.82,564.00 55.25,564.00 55.68,564.00 56.11,564.00 56.54,563.99 56.97,563.99 57.40,563.97 57.83,563.93 58.26,563.86 58.70,563.71 59.13,563.43 59.56,562.94 59.99,562.10 60.42,560.75 60.85,558.68 61.28,555.63 61.71,551.39 62.14,545.80 62.57,538.84 63.01,530.66 63.44,521.68 63.87,512.53 64.30,504.02 64.73,497.03 65.16,492.35 65.59,490.56 66.02,492.80 66.45,495.42 66.88,498.24 67.32,501.25 67.75,504.41 68.18,507.71 68.61,511.10 69.04,514.54 69.47,518.00 69.90,521.44 70.33,524.81 70.76,528.08 71.19,531.21 71.63,534.20 72.06,537.00 72.49,539.62 72.92,542.03 73.35,544.24 73.78,546.25 74.21,548.06 74.64,549.68 75.07,551.13 75.51,552.41 75.94,553.55 76.37,554.54 76.80,555.42 77.23,556.19 77.66,556.87 78.09,557.47 78.52,558.00 78.95,558.47 79.38,558.89 79.82,559.26 80.25,559.60 80.68,559.91 81.11,560.19 81.54,560.44 81.97,560.67 82.40,560.89 82.83,561.09 83.26,561.27 83.69,561.44 84.13,561.60 84.56,561.75 84.99,561.89 85.42,562.02 85.85,562.14 86.28,562.26 86.71,562.37 87.14,562.47 87.57,562.56 88.00,562.65 88.44,562.73 88.87,562.81 89.30,562.89 89.73,562.95 90.16,563.02 90.59,563.08 91.02,563.14 91.45,563.19 91.88,563.24 92.31,563.29 92.75,563.33 93.18,563.37 93.61,563.41 94.04,563.45 94.47,563.48 94.90,563.51 95.33,563.54 95.76,563.57 96.19,563.60 96.62,563.62 97.06,563.65 97.49,563.67 97.92,563.69 98.35,563.71 98.78,563.73 99.21,563.74 99.64,563.76 100.07,563.77 100.50,563.79 100.93,563.80 101.37,563.81 101.80,563.82 102.23,563.83 102.66,563.85 103.09,563.85 103.52,563.86 103.95,563.87 104.38,563.88 104.81,563.89 105.24,563.89 105.68,563.90 106.11,563.91 106.54,563.91 106.97,563.92 107.40,563.92 107.83,563.93 108.26,563.93 108.69,563.94 109.12,563.94 109.55,563.94 109.99,563.95 110.42,563.95 110.85,563.95 111.28,563.96 111.71,563.96 112.14,563.96 112.57,563.96 113.00,563.97 113.43,563.97 113.86,563.97 114.30,563.97 114.73,563.97 115.16,563.98 115.59,563.98 116.02,563.98 116.45,563.98 116.88,563.98 117.31,563.98" fill="none" stroke="#fff" stroke-width="0.3" stroke-linejoin="round" stroke-opacity="0.45"/>
<text x="66.00" y="483.50" font-family="Liberation Sans" font-size="4.5" font-weight="normal" fill="#9a5ae6" text-anchor="middle" >26.2</text>
<text x="66.00" y="488.10" font-family="Liberation Sans" font-size="4.5" font-weight="normal" fill="#9a5ae6" text-anchor="middle" >-2.7 ppm</text>
<polygon points="61.60,489.50 64.80,490.60 61.60,491.70" fill="#000" stroke="none" stroke-width="1" stroke-linejoin="miter" />
<line x1="151.50" y1="478.40" x2="151.50" y2="564.00" stroke="#555" stroke-width="0.6" />
<line x1="151.50" y1="564.00" x2="240.00" y2="564.00" stroke="#555" stroke-width="0.6" />
<line x1="149.90" y1="564.00" x2="151.50" y2="564.00" stroke="#555" stroke-width="0.5" />
<text x="148.20" y="565.70" font-family="Liberation Sans" font-size="5.0" font-weight="normal" fill="#222" text-anchor="end" >0</text>
<line x1="149.90" y1="554.49" x2="151.50" y2="554.49" stroke="#555" stroke-width="0.5" />
<text x="148.20" y="556.19" font-family="Liberation Sans" font-size="5.0" font-weight="normal" fill="#222" text-anchor="end" >100</text>
<line x1="149.90" y1="544.98" x2="151.50" y2="544.98" stroke="#555" stroke-width="0.5" />
<text x="148.20" y="546.68" font-family="Liberation Sans" font-size="5.0" font-weight="normal" fill="#222" text-anchor="end" >200</text>
<line x1="149.90" y1="535.47" x2="151.50" y2="535.47" stroke="#555" stroke-width="0.5" />
<text x="148.20" y="537.17" font-family="Liberation Sans" font-size="5.0" font-weight="normal" fill="#222" text-anchor="end" >300</text>
<line x1="149.90" y1="525.96" x2="151.50" y2="525.96" stroke="#555" stroke-width="0.5" />
<text x="148.20" y="527.66" font-family="Liberation Sans" font-size="5.0" font-weight="normal" fill="#222" text-anchor="end" >400</text>
<line x1="149.90" y1="516.44" x2="151.50" y2="516.44" stroke="#555" stroke-width="0.5" />
<text x="148.20" y="518.14" font-family="Liberation Sans" font-size="5.0" font-weight="normal" fill="#222" text-anchor="end" >500</text>
<line x1="149.90" y1="506.93" x2="151.50" y2="506.93" stroke="#555" stroke-width="0.5" />
<text x="148.20" y="508.63" font-family="Liberation Sans" font-size="5.0" font-weight="normal" fill="#222" text-anchor="end" >600</text>
<line x1="149.90" y1="497.42" x2="151.50" y2="497.42" stroke="#555" stroke-width="0.5" />
<text x="148.20" y="499.12" font-family="Liberation Sans" font-size="5.0" font-weight="normal" fill="#222" text-anchor="end" >700</text>
<line x1="149.90" y1="487.91" x2="151.50" y2="487.91" stroke="#555" stroke-width="0.5" />
<text x="148.20" y="489.61" font-family="Liberation Sans" font-size="5.0" font-weight="normal" fill="#222" text-anchor="end" >800</text>
<line x1="149.90" y1="478.40" x2="151.50" y2="478.40" stroke="#555" stroke-width="0.5" />
<text x="148.20" y="480.10" font-family="Liberation Sans" font-size="5.0" font-weight="normal" fill="#222" text-anchor="end" >900</text>
<line x1="150.60" y1="562.10" x2="151.50" y2="562.10" stroke="#777" stroke-width="0.4" />
<line x1="150.60" y1="560.20" x2="151.50" y2="560.20" stroke="#777" stroke-width="0.4" />
<line x1="150.60" y1="558.29" x2="151.50" y2="558.29" stroke="#777" stroke-width="0.4" />
<line x1="150.60" y1="556.39" x2="151.50" y2="556.39" stroke="#777" stroke-width="0.4" />
<line x1="150.60" y1="552.59" x2="151.50" y2="552.59" stroke="#777" stroke-width="0.4" />
<line x1="150.60" y1="550.68" x2="151.50" y2="550.68" stroke="#777" stroke-width="0.4" />
<line x1="150.60" y1="548.78" x2="151.50" y2="548.78" stroke="#777" stroke-width="0.4" />
<line x1="150.60" y1="546.88" x2="151.50" y2="546.88" stroke="#777" stroke-width="0.4" />
<line x1="150.60" y1="543.08" x2="151.50" y2="543.08" stroke="#777" stroke-width="0.4" />
<line x1="150.60" y1="541.17" x2="151.50" y2="541.17" stroke="#777" stroke-width="0.4" />
<line x1="150.60" y1="539.27" x2="151.50" y2="539.27" stroke="#777" stroke-width="0.4" />
<line x1="150.60" y1="537.37" x2="151.50" y2="537.37" stroke="#777" stroke-width="0.4" />
<line x1="150.60" y1="533.56" x2="151.50" y2="533.56" stroke="#777" stroke-width="0.4" />
<line x1="150.60" y1="531.66" x2="151.50" y2="531.66" stroke="#777" stroke-width="0.4" />
<line x1="150.60" y1="529.76" x2="151.50" y2="529.76" stroke="#777" stroke-width="0.4" />
<line x1="150.60" y1="527.86" x2="151.50" y2="527.86" stroke="#777" stroke-width="0.4" />
<line x1="150.60" y1="524.05" x2="151.50" y2="524.05" stroke="#777" stroke-width="0.4" />
<line x1="150.60" y1="522.15" x2="151.50" y2="522.15" stroke="#777" stroke-width="0.4" />
<line x1="150.60" y1="520.25" x2="151.50" y2="520.25" stroke="#777" stroke-width="0.4" />
<line x1="150.60" y1="518.35" x2="151.50" y2="518.35" stroke="#777" stroke-width="0.4" />
<line x1="150.60" y1="514.54" x2="151.50" y2="514.54" stroke="#777" stroke-width="0.4" />
<line x1="150.60" y1="512.64" x2="151.50" y2="512.64" stroke="#777" stroke-width="0.4" />
<line x1="150.60" y1="510.74" x2="151.50" y2="510.74" stroke="#777" stroke-width="0.4" />
<line x1="150.60" y1="508.84" x2="151.50" y2="508.84" stroke="#777" stroke-width="0.4" />
<line x1="150.60" y1="505.03" x2="151.50" y2="505.03" stroke="#777" stroke-width="0.4" />
<line x1="150.60" y1="503.13" x2="151.50" y2="503.13" stroke="#777" stroke-width="0.4" />
<line x1="150.60" y1="501.23" x2="151.50" y2="501.23" stroke="#777" stroke-width="0.4" />
<line x1="150.60" y1="499.32" x2="151.50" y2="499.32" stroke="#777" stroke-width="0.4" />
<line x1="150.60" y1="495.52" x2="151.50" y2="495.52" stroke="#777" stroke-width="0.4" />
<line x1="150.60" y1="493.62" x2="151.50" y2="493.62" stroke="#777" stroke-width="0.4" />
<line x1="150.60" y1="491.72" x2="151.50" y2="491.72" stroke="#777" stroke-width="0.4" />
<line x1="150.60" y1="489.81" x2="151.50" y2="489.81" stroke="#777" stroke-width="0.4" />
<line x1="150.60" y1="486.01" x2="151.50" y2="486.01" stroke="#777" stroke-width="0.4" />
<line x1="150.60" y1="484.11" x2="151.50" y2="484.11" stroke="#777" stroke-width="0.4" />
<line x1="150.60" y1="482.20" x2="151.50" y2="482.20" stroke="#777" stroke-width="0.4" />
<line x1="150.60" y1="480.30" x2="151.50" y2="480.30" stroke="#777" stroke-width="0.4" />
<line x1="177.80" y1="564.00" x2="177.80" y2="565.60" stroke="#555" stroke-width="0.5" />
<text x="177.80" y="570.90" font-family="Liberation Sans" font-size="5.0" font-weight="normal" fill="#222" text-anchor="middle" >26.0</text>
<line x1="204.85" y1="564.00" x2="204.85" y2="565.60" stroke="#555" stroke-width="0.5" />
<text x="204.85" y="570.90" font-family="Liberation Sans" font-size="5.0" font-weight="normal" fill="#222" text-anchor="middle" >26.5</text>
<line x1="231.90" y1="564.00" x2="231.90" y2="565.60" stroke="#555" stroke-width="0.5" />
<text x="231.90" y="570.90" font-family="Liberation Sans" font-size="5.0" font-weight="normal" fill="#222" text-anchor="middle" >27.0</text>
<text x="195.75" y="578.30" font-family="Liberation Sans" font-size="5.0" font-weight="bold" fill="#222" text-anchor="middle" textLength="34.00" lengthAdjust="spacingAndGlyphs" >Retention Time</text>
<text x="0" y="0" transform="translate(135.7,521.2) rotate(-90)" font-family="Liberation Sans" font-size="5.4" font-weight="bold" fill="#111" text-anchor="middle" textLength="35" lengthAdjust="spacingAndGlyphs">Intensity (10^3)</text>
<line x1="156.00" y1="530.00" x2="156.00" y2="564.00" stroke="#e4e4e4" stroke-width="0.6" />
<line x1="170.00" y1="535.00" x2="170.00" y2="564.00" stroke="#e4e4e4" stroke-width="0.6" />
<line x1="219.00" y1="540.00" x2="219.00" y2="564.00" stroke="#e4e4e4" stroke-width="0.6" />
<line x1="232.00" y1="540.00" x2="232.00" y2="564.00" stroke="#e4e4e4" stroke-width="0.6" />
<line x1="182.50" y1="493.60" x2="182.50" y2="564.00" stroke="#666" stroke-width="0.7" />
<line x1="208.50" y1="493.60" x2="208.50" y2="564.00" stroke="#666" stroke-width="0.7" />
<polyline points="151.36,564.00 151.78,564.00 152.21,564.00 152.63,564.00 153.05,564.00 153.47,564.00 153.90,564.00 154.32,564.00 154.74,564.00 155.17,564.00 155.59,564.00 156.01,564.00 156.44,564.00 156.86,564.00 157.28,564.00 157.70,564.00 158.13,564.00 158.55,564.00 158.97,564.00 159.40,564.00 159.82,564.00 160.24,564.00 160.67,564.00 161.09,564.00 161.51,564.00 161.93,564.00 162.36,564.00 162.78,564.00 163.20,564.00 163.63,564.00 164.05,564.00 164.47,564.00 164.89,564.00 165.32,564.00 165.74,564.00 166.16,564.00 166.59,564.00 167.01,564.00 167.43,564.00 167.86,564.00 168.28,564.00 168.70,564.00 169.12,564.00 169.55,564.00 169.97,564.00 170.39,564.00 170.82,564.00 171.24,564.00 171.66,564.00 172.09,564.00 172.51,564.00 172.93,564.00 173.35,564.00 173.78,564.00 174.20,564.00 174.62,564.00 175.05,564.00 175.47,564.00 175.89,564.00 176.31,564.00 176.74,564.00 177.16,564.00 177.58,564.00 178.01,564.00 178.43,564.00 178.85,564.00 179.28,564.00 179.70,564.00 180.12,564.00 180.54,564.00 180.97,564.00 181.39,564.00 181.81,564.00 182.24,564.00 182.66,563.99 183.08,563.98 183.51,563.96 183.93,563.91 184.35,563.83 184.77,563.69 185.20,563.47 185.62,563.12 186.04,562.60 186.47,561.90 186.89,561.00 187.31,559.93 187.73,558.73 188.16,557.52 188.58,556.42 189.00,555.56 189.43,555.06 189.85,555.07 190.27,555.38 190.70,555.72 191.12,556.09 191.54,556.47 191.96,556.87 192.39,557.29 192.81,557.71 193.23,558.14 193.66,558.57 194.08,558.99 194.50,559.40 194.93,559.80 195.35,560.18 195.77,560.54 196.19,560.87 196.62,561.18 197.04,561.47 197.46,561.73 197.89,561.96 198.31,562.17 198.73,562.36 199.15,562.53 199.58,562.68 200.00,562.81 200.42,562.92 200.85,563.02 201.27,563.11 201.69,563.19 202.12,563.26 202.54,563.32 202.96,563.37 203.38,563.42 203.81,563.46 204.23,563.50 204.65,563.54 205.08,563.57 205.50,563.60 205.92,563.62 206.35,563.65 206.77,563.67 207.19,563.69 207.61,563.71 208.04,563.73 208.46,563.75 208.88,563.76 209.31,563.78 209.73,563.79 210.15,563.81 210.57,563.82 211.00,563.83 211.42,563.84 211.84,563.85 212.27,563.86 212.69,563.87 213.11,563.88 213.54,563.89 213.96,563.89 214.38,563.90 214.80,563.91 215.23,563.91 215.65,563.92 216.07,563.92 216.50,563.93 216.92,563.93 217.34,563.94 217.77,563.94 218.19,563.94 218.61,563.95 219.03,563.95 219.46,563.95 219.88,563.96 220.30,563.96 220.73,563.96 221.15,563.96 221.57,563.97 221.99,563.97 222.42,563.97 222.84,563.97 223.26,563.97 223.69,563.98 224.11,563.98 224.53,563.98 224.96,563.98 225.38,563.98 225.80,563.98 226.22,563.98 226.65,563.98 227.07,563.99 227.49,563.99 227.92,563.99 228.34,563.99 228.76,563.99 229.19,563.99 229.61,563.99 230.03,563.99 230.45,563.99 230.88,563.99 231.30,563.99 231.72,563.99 232.15,563.99 232.57,563.99 232.99,563.99 233.41,563.99 233.84,563.99 234.26,564.00 234.68,564.00 235.11,564.00 235.53,564.00 235.95,564.00 236.38,564.00 236.80,564.00 237.22,564.00 237.64,564.00 238.07,564.00 238.49,564.00 238.91,564.00 239.34,564.00 239.76,564.00 240.18,564.00" fill="none" stroke="#e08a40" stroke-width="0.85" stroke-linejoin="round" />
<polyline points="151.36,564.00 151.78,564.00 152.21,564.00 152.63,564.00 153.05,564.00 153.47,564.00 153.90,564.00 154.32,564.00 154.74,564.00 155.17,564.00 155.59,564.00 156.01,564.00 156.44,564.00 156.86,564.00 157.28,564.00 157.70,564.00 158.13,564.00 158.55,564.00 158.97,564.00 159.40,564.00 159.82,564.00 160.24,564.00 160.67,564.00 161.09,564.00 161.51,564.00 161.93,564.00 162.36,564.00 162.78,564.00 163.20,564.00 163.63,564.00 164.05,564.00 164.47,564.00 164.89,564.00 165.32,564.00 165.74,564.00 166.16,564.00 166.59,564.00 167.01,564.00 167.43,564.00 167.86,564.00 168.28,564.00 168.70,564.00 169.12,564.00 169.55,564.00 169.97,564.00 170.39,564.00 170.82,564.00 171.24,564.00 171.66,564.00 172.09,564.00 172.51,564.00 172.93,564.00 173.35,564.00 173.78,564.00 174.20,564.00 174.62,564.00 175.05,564.00 175.47,564.00 175.89,564.00 176.31,564.00 176.74,564.00 177.16,564.00 177.58,564.00 178.01,564.00 178.43,564.00 178.85,564.00 179.28,564.00 179.70,564.00 180.12,564.00 180.54,564.00 180.97,564.00 181.39,564.00 181.81,564.00 182.24,564.00 182.66,563.99 183.08,563.98 183.51,563.96 183.93,563.91 184.35,563.83 184.77,563.69 185.20,563.47 185.62,563.12 186.04,562.60 186.47,561.90 186.89,561.00 187.31,559.93 187.73,558.73 188.16,557.52 188.58,556.42 189.00,555.56 189.43,555.06 189.85,555.07 190.27,555.38 190.70,555.72 191.12,556.09 191.54,556.47 191.96,556.87 192.39,557.29 192.81,557.71 193.23,558.14 193.66,558.57 194.08,558.99 194.50,559.40 194.93,559.80 195.35,560.18 195.77,560.54 196.19,560.87 196.62,561.18 197.04,561.47 197.46,561.73 197.89,561.96 198.31,562.17 198.73,562.36 199.15,562.53 199.58,562.68 200.00,562.81 200.42,562.92 200.85,563.02 201.27,563.11 201.69,563.19 202.12,563.26 202.54,563.32 202.96,563.37 203.38,563.42 203.81,563.46 204.23,563.50 204.65,563.54 205.08,563.57 205.50,563.60 205.92,563.62 206.35,563.65 206.77,563.67 207.19,563.69 207.61,563.71 208.04,563.73 208.46,563.75 208.88,563.76 209.31,563.78 209.73,563.79 210.15,563.81 210.57,563.82 211.00,563.83 211.42,563.84 211.84,563.85 212.27,563.86 212.69,563.87 213.11,563.88 213.54,563.89 213.96,563.89 214.38,563.90 214.80,563.91 215.23,563.91 215.65,563.92 216.07,563.92 216.50,563.93 216.92,563.93 217.34,563.94 217.77,563.94 218.19,563.94 218.61,563.95 219.03,563.95 219.46,563.95 219.88,563.96 220.30,563.96 220.73,563.96 221.15,563.96 221.57,563.97 221.99,563.97 222.42,563.97 222.84,563.97 223.26,563.97 223.69,563.98 224.11,563.98 224.53,563.98 224.96,563.98 225.38,563.98 225.80,563.98 226.22,563.98 226.65,563.98 227.07,563.99 227.49,563.99 227.92,563.99 228.34,563.99 228.76,563.99 229.19,563.99 229.61,563.99 230.03,563.99 230.45,563.99 230.88,563.99 231.30,563.99 231.72,563.99 232.15,563.99 232.57,563.99 232.99,563.99 233.41,563.99 233.84,563.99 234.26,564.00 234.68,564.00 235.11,564.00 235.53,564.00 235.95,564.00 236.38,564.00 236.80,564.00 237.22,564.00 237.64,564.00 238.07,564.00 238.49,564.00 238.91,564.00 239.34,564.00 239.76,564.00 240.18,564.00" fill="none" stroke="#fff" stroke-width="0.255" stroke-linejoin="round" stroke-opacity="0.45"/>
<polyline points="151.36,564.00 151.78,564.00 152.21,564.00 152.63,564.00 153.05,564.00 153.47,564.00 153.90,564.00 154.32,564.00 154.74,564.00 155.17,564.00 155.59,564.00 156.01,564.00 156.44,564.00 156.86,564.00 157.28,564.00 157.70,564.00 158.13,564.00 158.55,564.00 158.97,564.00 159.40,564.00 159.82,564.00 160.24,564.00 160.67,564.00 161.09,564.00 161.51,564.00 161.93,564.00 162.36,564.00 162.78,564.00 163.20,564.00 163.63,564.00 164.05,564.00 164.47,564.00 164.89,564.00 165.32,564.00 165.74,564.00 166.16,564.00 166.59,564.00 167.01,564.00 167.43,564.00 167.86,564.00 168.28,564.00 168.70,564.00 169.12,564.00 169.55,564.00 169.97,564.00 170.39,564.00 170.82,564.00 171.24,564.00 171.66,564.00 172.09,564.00 172.51,564.00 172.93,564.00 173.35,564.00 173.78,564.00 174.20,564.00 174.62,564.00 175.05,564.00 175.47,564.00 175.89,564.00 176.31,564.00 176.74,564.00 177.16,564.00 177.58,564.00 178.01,564.00 178.43,564.00 178.85,564.00 179.28,564.00 179.70,564.00 180.12,564.00 180.54,564.00 180.97,564.00 181.39,564.00 181.81,564.00 182.24,563.99 182.66,563.99 183.08,563.97 183.51,563.93 183.93,563.86 184.35,563.74 184.77,563.52 185.20,563.16 185.62,562.60 186.04,561.80 186.47,560.69 186.89,559.27 187.31,557.57 187.73,555.68 188.16,553.77 188.58,552.03 189.00,550.67 189.43,549.88 189.85,549.90 190.27,550.40 190.70,550.93 191.12,551.50 191.54,552.11 191.96,552.74 192.39,553.40 192.81,554.07 193.23,554.75 193.66,555.42 194.08,556.09 194.50,556.74 194.93,557.37 195.35,557.96 195.77,558.53 196.19,559.06 196.62,559.55 197.04,560.00 197.46,560.41 197.89,560.78 198.31,561.12 198.73,561.42 199.15,561.68 199.58,561.91 200.00,562.12 200.42,562.30 200.85,562.46 201.27,562.60 201.69,562.72 202.12,562.83 202.54,562.92 202.96,563.01 203.38,563.08 203.81,563.15 204.23,563.21 204.65,563.27 205.08,563.32 205.50,563.36 205.92,563.41 206.35,563.45 206.77,563.48 207.19,563.52 207.61,563.55 208.04,563.58 208.46,563.60 208.88,563.63 209.31,563.65 209.73,563.67 210.15,563.69 210.57,563.71 211.00,563.73 211.42,563.75 211.84,563.76 212.27,563.78 212.69,563.79 213.11,563.81 213.54,563.82 213.96,563.83 214.38,563.84 214.80,563.85 215.23,563.86 215.65,563.87 216.07,563.88 216.50,563.88 216.92,563.89 217.34,563.90 217.77,563.91 218.19,563.91 218.61,563.92 219.03,563.92 219.46,563.93 219.88,563.93 220.30,563.94 220.73,563.94 221.15,563.94 221.57,563.95 221.99,563.95 222.42,563.95 222.84,563.96 223.26,563.96 223.69,563.96 224.11,563.96 224.53,563.97 224.96,563.97 225.38,563.97 225.80,563.97 226.22,563.97 226.65,563.98 227.07,563.98 227.49,563.98 227.92,563.98 228.34,563.98 228.76,563.98 229.19,563.98 229.61,563.98 230.03,563.99 230.45,563.99 230.88,563.99 231.30,563.99 231.72,563.99 232.15,563.99 232.57,563.99 232.99,563.99 233.41,563.99 233.84,563.99 234.26,563.99 234.68,563.99 235.11,563.99 235.53,563.99 235.95,563.99 236.38,563.99 236.80,563.99 237.22,564.00 237.64,564.00 238.07,564.00 238.49,564.00 238.91,564.00 239.34,564.00 239.76,564.00 240.18,564.00" fill="none" stroke="#a84028" stroke-width="0.85" stroke-linejoin="round" />
<polyline points="151.36,564.00 151.78,564.00 152.21,564.00 152.63,564.00 153.05,564.00 153.47,564.00 153.90,564.00 154.32,564.00 154.74,564.00 155.17,564.00 155.59,564.00 156.01,564.00 156.44,564.00 156.86,564.00 157.28,564.00 157.70,564.00 158.13,564.00 158.55,564.00 158.97,564.00 159.40,564.00 159.82,564.00 160.24,564.00 160.67,564.00 161.09,564.00 161.51,564.00 161.93,564.00 162.36,564.00 162.78,564.00 163.20,564.00 163.63,564.00 164.05,564.00 164.47,564.00 164.89,564.00 165.32,564.00 165.74,564.00 166.16,564.00 166.59,564.00 167.01,564.00 167.43,564.00 167.86,564.00 168.28,564.00 168.70,564.00 169.12,564.00 169.55,564.00 169.97,564.00 170.39,564.00 170.82,564.00 171.24,564.00 171.66,564.00 172.09,564.00 172.51,564.00 172.93,564.00 173.35,564.00 173.78,564.00 174.20,564.00 174.62,564.00 175.05,564.00 175.47,564.00 175.89,564.00 176.31,564.00 176.74,564.00 177.16,564.00 177.58,564.00 178.01,564.00 178.43,564.00 178.85,564.00 179.28,564.00 179.70,564.00 180.12,564.00 180.54,564.00 180.97,564.00 181.39,564.00 181.81,564.00 182.24,563.99 182.66,563.99 183.08,563.97 183.51,563.93 183.93,563.86 184.35,563.74 184.77,563.52 185.20,563.16 185.62,562.60 186.04,561.80 186.47,560.69 186.89,559.27 187.31,557.57 187.73,555.68 188.16,553.77 188.58,552.03 189.00,550.67 189.43,549.88 189.85,549.90 190.27,550.40 190.70,550.93 191.12,551.50 191.54,552.11 191.96,552.74 192.39,553.40 192.81,554.07 193.23,554.75 193.66,555.42 194.08,556.09 194.50,556.74 194.93,557.37 195.35,557.96 195.77,558.53 196.19,559.06 196.62,559.55 197.04,560.00 197.46,560.41 197.89,560.78 198.31,561.12 198.73,561.42 199.15,561.68 199.58,561.91 200.00,562.12 200.42,562.30 200.85,562.46 201.27,562.60 201.69,562.72 202.12,562.83 202.54,562.92 202.96,563.01 203.38,563.08 203.81,563.15 204.23,563.21 204.65,563.27 205.08,563.32 205.50,563.36 205.92,563.41 206.35,563.45 206.77,563.48 207.19,563.52 207.61,563.55 208.04,563.58 208.46,563.60 208.88,563.63 209.31,563.65 209.73,563.67 210.15,563.69 210.57,563.71 211.00,563.73 211.42,563.75 211.84,563.76 212.27,563.78 212.69,563.79 213.11,563.81 213.54,563.82 213.96,563.83 214.38,563.84 214.80,563.85 215.23,563.86 215.65,563.87 216.07,563.88 216.50,563.88 216.92,563.89 217.34,563.90 217.77,563.91 218.19,563.91 218.61,563.92 219.03,563.92 219.46,563.93 219.88,563.93 220.30,563.94 220.73,563.94 221.15,563.94 221.57,563.95 221.99,563.95 222.42,563.95 222.84,563.96 223.26,563.96 223.69,563.96 224.11,563.96 224.53,563.97 224.96,563.97 225.38,563.97 225.80,563.97 226.22,563.97 226.65,563.98 227.07,563.98 227.49,563.98 227.92,563.98 228.34,563.98 228.76,563.98 229.19,563.98 229.61,563.98 230.03,563.99 230.45,563.99 230.88,563.99 231.30,563.99 231.72,563.99 232.15,563.99 232.57,563.99 232.99,563.99 233.41,563.99 233.84,563.99 234.26,563.99 234.68,563.99 235.11,563.99 235.53,563.99 235.95,563.99 236.38,563.99 236.80,563.99 237.22,564.00 237.64,564.00 238.07,564.00 238.49,564.00 238.91,564.00 239.34,564.00 239.76,564.00 240.18,564.00" fill="none" stroke="#fff" stroke-width="0.255" stroke-linejoin="round" stroke-opacity="0.45"/>
<polyline points="151.36,564.00 151.78,564.00 152.21,564.00 152.63,564.00 153.05,564.00 153.47,564.00 153.90,564.00 154.32,564.00 154.74,564.00 155.17,564.00 155.59,564.00 156.01,564.00 156.44,564.00 156.86,564.00 157.28,564.00 157.70,564.00 158.13,564.00 158.55,564.00 158.97,564.00 159.40,564.00 159.82,564.00 160.24,564.00 160.67,564.00 161.09,564.00 161.51,564.00 161.93,564.00 162.36,564.00 162.78,564.00 163.20,564.00 163.63,564.00 164.05,564.00 164.47,564.00 164.89,564.00 165.32,564.00 165.74,564.00 166.16,564.00 166.59,564.00 167.01,564.00 167.43,564.00 167.86,564.00 168.28,564.00 168.70,564.00 169.12,564.00 169.55,564.00 169.97,564.00 170.39,564.00 170.82,564.00 171.24,564.00 171.66,564.00 172.09,564.00 172.51,564.00 172.93,564.00 173.35,564.00 173.78,564.00 174.20,564.00 174.62,564.00 175.05,564.00 175.47,564.00 175.89,564.00 176.31,564.00 176.74,564.00 177.16,564.00 177.58,564.00 178.01,564.00 178.43,564.00 178.85,564.00 179.28,564.00 179.70,564.00 180.12,564.00 180.54,564.00 180.97,564.00 181.39,564.00 181.81,563.99 182.24,563.97 182.66,563.94 183.08,563.87 183.51,563.74 183.93,563.48 184.35,563.04 184.77,562.29 185.20,561.11 185.62,559.36 186.04,556.90 186.47,553.68 186.89,549.72 187.31,545.19 187.73,540.45 188.16,535.94 188.58,532.19 189.00,529.70 189.43,528.81 189.85,529.99 190.27,531.28 190.70,532.66 191.12,534.12 191.54,535.66 191.96,537.26 192.39,538.90 192.81,540.57 193.23,542.24 193.66,543.89 194.08,545.51 194.50,547.08 194.93,548.59 195.35,550.02 195.77,551.35 196.19,552.60 196.62,553.75 197.04,554.80 197.46,555.75 197.89,556.60 198.31,557.37 198.73,558.05 199.15,558.65 199.58,559.19 200.00,559.65 200.42,560.06 200.85,560.42 201.27,560.74 201.69,561.02 202.12,561.27 202.54,561.48 202.96,561.68 203.38,561.85 203.81,562.01 204.23,562.15 204.65,562.28 205.08,562.39 205.50,562.50 205.92,562.60 206.35,562.69 206.77,562.78 207.19,562.85 207.61,562.93 208.04,563.00 208.46,563.06 208.88,563.12 209.31,563.18 209.73,563.23 210.15,563.28 210.57,563.32 211.00,563.37 211.42,563.41 211.84,563.44 212.27,563.48 212.69,563.51 213.11,563.54 213.54,563.57 213.96,563.60 214.38,563.62 214.80,563.65 215.23,563.67 215.65,563.69 216.07,563.71 216.50,563.73 216.92,563.74 217.34,563.76 217.77,563.78 218.19,563.79 218.61,563.80 219.03,563.82 219.46,563.83 219.88,563.84 220.30,563.85 220.73,563.86 221.15,563.87 221.57,563.88 221.99,563.88 222.42,563.89 222.84,563.90 223.26,563.90 223.69,563.91 224.11,563.92 224.53,563.92 224.96,563.93 225.38,563.93 225.80,563.94 226.22,563.94 226.65,563.94 227.07,563.95 227.49,563.95 227.92,563.95 228.34,563.96 228.76,563.96 229.19,563.96 229.61,563.96 230.03,563.97 230.45,563.97 230.88,563.97 231.30,563.97 231.72,563.97 232.15,563.98 232.57,563.98 232.99,563.98 233.41,563.98 233.84,563.98 234.26,563.98 234.68,563.98 235.11,563.98 235.53,563.99 235.95,563.99 236.38,563.99 236.80,563.99 237.22,563.99 237.64,563.99 238.07,563.99 238.49,563.99 238.91,563.99 239.34,563.99 239.76,563.99 240.18,563.99" fill="none" stroke="#2a3af0" stroke-width="1.0" stroke-linejoin="round" />
<polyline points="151.36,564.00 151.78,564.00 152.21,564.00 152.63,564.00 153.05,564.00 153.47,564.00 153.90,564.00 154.32,564.00 154.74,564.00 155.17,564.00 155.59,564.00 156.01,564.00 156.44,564.00 156.86,564.00 157.28,564.00 157.70,564.00 158.13,564.00 158.55,564.00 158.97,564.00 159.40,564.00 159.82,564.00 160.24,564.00 160.67,564.00 161.09,564.00 161.51,564.00 161.93,564.00 162.36,564.00 162.78,564.00 163.20,564.00 163.63,564.00 164.05,564.00 164.47,564.00 164.89,564.00 165.32,564.00 165.74,564.00 166.16,564.00 166.59,564.00 167.01,564.00 167.43,564.00 167.86,564.00 168.28,564.00 168.70,564.00 169.12,564.00 169.55,564.00 169.97,564.00 170.39,564.00 170.82,564.00 171.24,564.00 171.66,564.00 172.09,564.00 172.51,564.00 172.93,564.00 173.35,564.00 173.78,564.00 174.20,564.00 174.62,564.00 175.05,564.00 175.47,564.00 175.89,564.00 176.31,564.00 176.74,564.00 177.16,564.00 177.58,564.00 178.01,564.00 178.43,564.00 178.85,564.00 179.28,564.00 179.70,564.00 180.12,564.00 180.54,564.00 180.97,564.00 181.39,564.00 181.81,563.99 182.24,563.97 182.66,563.94 183.08,563.87 183.51,563.74 183.93,563.48 184.35,563.04 184.77,562.29 185.20,561.11 185.62,559.36 186.04,556.90 186.47,553.68 186.89,549.72 187.31,545.19 187.73,540.45 188.16,535.94 188.58,532.19 189.00,529.70 189.43,528.81 189.85,529.99 190.27,531.28 190.70,532.66 191.12,534.12 191.54,535.66 191.96,537.26 192.39,538.90 192.81,540.57 193.23,542.24 193.66,543.89 194.08,545.51 194.50,547.08 194.93,548.59 195.35,550.02 195.77,551.35 196.19,552.60 196.62,553.75 197.04,554.80 197.46,555.75 197.89,556.60 198.31,557.37 198.73,558.05 199.15,558.65 199.58,559.19 200.00,559.65 200.42,560.06 200.85,560.42 201.27,560.74 201.69,561.02 202.12,561.27 202.54,561.48 202.96,561.68 203.38,561.85 203.81,562.01 204.23,562.15 204.65,562.28 205.08,562.39 205.50,562.50 205.92,562.60 206.35,562.69 206.77,562.78 207.19,562.85 207.61,562.93 208.04,563.00 208.46,563.06 208.88,563.12 209.31,563.18 209.73,563.23 210.15,563.28 210.57,563.32 211.00,563.37 211.42,563.41 211.84,563.44 212.27,563.48 212.69,563.51 213.11,563.54 213.54,563.57 213.96,563.60 214.38,563.62 214.80,563.65 215.23,563.67 215.65,563.69 216.07,563.71 216.50,563.73 216.92,563.74 217.34,563.76 217.77,563.78 218.19,563.79 218.61,563.80 219.03,563.82 219.46,563.83 219.88,563.84 220.30,563.85 220.73,563.86 221.15,563.87 221.57,563.88 221.99,563.88 222.42,563.89 222.84,563.90 223.26,563.90 223.69,563.91 224.11,563.92 224.53,563.92 224.96,563.93 225.38,563.93 225.80,563.94 226.22,563.94 226.65,563.94 227.07,563.95 227.49,563.95 227.92,563.95 228.34,563.96 228.76,563.96 229.19,563.96 229.61,563.96 230.03,563.97 230.45,563.97 230.88,563.97 231.30,563.97 231.72,563.97 232.15,563.98 232.57,563.98 232.99,563.98 233.41,563.98 233.84,563.98 234.26,563.98 234.68,563.98 235.11,563.98 235.53,563.99 235.95,563.99 236.38,563.99 236.80,563.99 237.22,563.99 237.64,563.99 238.07,563.99 238.49,563.99 238.91,563.99 239.34,563.99 239.76,563.99 240.18,563.99" fill="none" stroke="#fff" stroke-width="0.3" stroke-linejoin="round" stroke-opacity="0.45"/>
<polyline points="151.61,564.00 151.99,564.00 152.38,564.00 152.77,564.00 153.16,564.00 153.55,564.00 153.93,564.00 154.32,564.00 154.71,564.00 155.10,563.99 155.48,563.98 155.87,563.96 156.26,563.94 156.65,563.89 157.03,563.81 157.42,563.69 157.81,563.51 158.20,563.25 158.59,562.89 158.97,562.39 159.36,561.76 159.75,560.97 160.14,560.04 160.52,558.98 160.91,557.83 161.30,556.67 161.69,555.56 162.07,554.60 162.46,553.85 162.85,553.39 163.24,553.25 163.63,553.42 164.01,553.85 164.40,554.50 164.79,555.33 165.18,556.29 165.56,557.31 165.95,558.34 166.34,559.33 166.73,560.24 167.12,561.05 167.50,561.74 167.89,562.30 168.28,562.74 168.67,563.07 169.05,563.31 169.44,563.46 169.83,563.54 170.22,563.56 170.60,563.53 170.99,563.45 171.38,563.33 171.77,563.15 172.16,562.93 172.54,562.67 172.93,562.35 173.32,561.98 173.71,561.57 174.09,561.11 174.48,560.61 174.87,560.08 175.26,559.54 175.65,558.99 176.03,558.45 176.42,557.94 176.81,557.48 177.20,557.08 177.58,556.76 177.97,556.54 178.36,556.41 178.75,556.41 179.13,556.68 179.52,557.22 179.91,557.98 180.30,558.88 180.69,559.82 181.07,560.73 181.46,561.53 181.85,562.20 182.24,562.72 182.62,563.06 183.01,563.22 183.40,563.19 183.79,562.92 184.17,562.34 184.56,561.34 184.95,559.77 185.34,557.45 185.73,554.21 186.11,549.89 186.50,544.40 186.89,537.78 187.28,530.22 187.66,522.08 188.05,513.89 188.44,506.31 188.83,500.03 189.22,495.67 189.60,493.70 189.99,495.22 190.38,497.48 190.77,499.87 191.15,502.38 191.54,505.01 191.93,507.73 192.32,510.54 192.70,513.40 193.09,516.31 193.48,519.22 193.87,522.13 194.26,525.00 194.64,527.80 195.03,530.53 195.42,533.16 195.81,535.68 196.19,538.06 196.58,540.31 196.97,542.42 197.36,544.37 197.74,546.18 198.13,547.84 198.52,549.36 198.91,550.73 199.30,551.98 199.68,553.10 200.07,554.11 200.46,555.01 200.85,555.81 201.23,556.53 201.62,557.17 202.01,557.74 202.40,558.24 202.79,558.69 203.17,559.10 203.56,559.46 203.95,559.79 204.34,560.08 204.72,560.35 205.11,560.59 205.50,560.82 205.89,561.02 206.27,561.21 206.66,561.38 207.05,561.54 207.44,561.69 207.83,561.83 208.21,561.96 208.60,562.08 208.99,562.19 209.38,562.30 209.76,562.40 210.15,562.49 210.54,562.57 210.93,562.65 211.31,562.72 211.70,562.77 212.09,562.81 212.48,562.83 212.87,562.81 213.25,562.76 213.64,562.65 214.03,562.47 214.42,562.20 214.80,561.85 215.19,561.39 215.58,560.84 215.97,560.20 216.36,559.51 216.74,558.80 217.13,558.13 217.52,557.54 217.91,557.08 218.29,556.81 218.68,556.75 219.07,556.85 219.46,557.09 219.84,557.45 220.23,557.92 220.62,558.45 221.01,559.04 221.40,559.65 221.78,560.25 222.17,560.83 222.56,561.37 222.95,561.86 223.33,562.28 223.72,562.64 224.11,562.93 224.50,563.17 224.89,563.37 225.27,563.51 225.66,563.62 226.05,563.71 226.44,563.77 226.82,563.81 227.21,563.85 227.60,563.87 227.99,563.89 228.37,563.90 228.76,563.91 229.15,563.92 229.54,563.92 229.93,563.93 230.31,563.93 230.70,563.94 231.09,563.94 231.48,563.94 231.86,563.95 232.25,563.95 232.64,563.95 233.03,563.96 233.41,563.96 233.80,563.96 234.19,563.96 234.58,563.96 234.97,563.97 235.35,563.97 235.74,563.97 236.13,563.97 236.52,563.97 236.90,563.98 237.29,563.98 237.68,563.98 238.07,563.98 238.46,563.98 238.84,563.98 239.23,563.98 239.62,563.98 240.01,563.98" fill="none" stroke="#8f48e0" stroke-width="1.0" stroke-linejoin="round" />
<polyline points="151.61,564.00 151.99,564.00 152.38,564.00 152.77,564.00 153.16,564.00 153.55,564.00 153.93,564.00 154.32,564.00 154.71,564.00 155.10,563.99 155.48,563.98 155.87,563.96 156.26,563.94 156.65,563.89 157.03,563.81 157.42,563.69 157.81,563.51 158.20,563.25 158.59,562.89 158.97,562.39 159.36,561.76 159.75,560.97 160.14,560.04 160.52,558.98 160.91,557.83 161.30,556.67 161.69,555.56 162.07,554.60 162.46,553.85 162.85,553.39 163.24,553.25 163.63,553.42 164.01,553.85 164.40,554.50 164.79,555.33 165.18,556.29 165.56,557.31 165.95,558.34 166.34,559.33 166.73,560.24 167.12,561.05 167.50,561.74 167.89,562.30 168.28,562.74 168.67,563.07 169.05,563.31 169.44,563.46 169.83,563.54 170.22,563.56 170.60,563.53 170.99,563.45 171.38,563.33 171.77,563.15 172.16,562.93 172.54,562.67 172.93,562.35 173.32,561.98 173.71,561.57 174.09,561.11 174.48,560.61 174.87,560.08 175.26,559.54 175.65,558.99 176.03,558.45 176.42,557.94 176.81,557.48 177.20,557.08 177.58,556.76 177.97,556.54 178.36,556.41 178.75,556.41 179.13,556.68 179.52,557.22 179.91,557.98 180.30,558.88 180.69,559.82 181.07,560.73 181.46,561.53 181.85,562.20 182.24,562.72 182.62,563.06 183.01,563.22 183.40,563.19 183.79,562.92 184.17,562.34 184.56,561.34 184.95,559.77 185.34,557.45 185.73,554.21 186.11,549.89 186.50,544.40 186.89,537.78 187.28,530.22 187.66,522.08 188.05,513.89 188.44,506.31 188.83,500.03 189.22,495.67 189.60,493.70 189.99,495.22 190.38,497.48 190.77,499.87 191.15,502.38 191.54,505.01 191.93,507.73 192.32,510.54 192.70,513.40 193.09,516.31 193.48,519.22 193.87,522.13 194.26,525.00 194.64,527.80 195.03,530.53 195.42,533.16 195.81,535.68 196.19,538.06 196.58,540.31 196.97,542.42 197.36,544.37 197.74,546.18 198.13,547.84 198.52,549.36 198.91,550.73 199.30,551.98 199.68,553.10 200.07,554.11 200.46,555.01 200.85,555.81 201.23,556.53 201.62,557.17 202.01,557.74 202.40,558.24 202.79,558.69 203.17,559.10 203.56,559.46 203.95,559.79 204.34,560.08 204.72,560.35 205.11,560.59 205.50,560.82 205.89,561.02 206.27,561.21 206.66,561.38 207.05,561.54 207.44,561.69 207.83,561.83 208.21,561.96 208.60,562.08 208.99,562.19 209.38,562.30 209.76,562.40 210.15,562.49 210.54,562.57 210.93,562.65 211.31,562.72 211.70,562.77 212.09,562.81 212.48,562.83 212.87,562.81 213.25,562.76 213.64,562.65 214.03,562.47 214.42,562.20 214.80,561.85 215.19,561.39 215.58,560.84 215.97,560.20 216.36,559.51 216.74,558.80 217.13,558.13 217.52,557.54 217.91,557.08 218.29,556.81 218.68,556.75 219.07,556.85 219.46,557.09 219.84,557.45 220.23,557.92 220.62,558.45 221.01,559.04 221.40,559.65 221.78,560.25 222.17,560.83 222.56,561.37 222.95,561.86 223.33,562.28 223.72,562.64 224.11,562.93 224.50,563.17 224.89,563.37 225.27,563.51 225.66,563.62 226.05,563.71 226.44,563.77 226.82,563.81 227.21,563.85 227.60,563.87 227.99,563.89 228.37,563.90 228.76,563.91 229.15,563.92 229.54,563.92 229.93,563.93 230.31,563.93 230.70,563.94 231.09,563.94 231.48,563.94 231.86,563.95 232.25,563.95 232.64,563.95 233.03,563.96 233.41,563.96 233.80,563.96 234.19,563.96 234.58,563.96 234.97,563.97 235.35,563.97 235.74,563.97 236.13,563.97 236.52,563.97 236.90,563.98 237.29,563.98 237.68,563.98 238.07,563.98 238.46,563.98 238.84,563.98 239.23,563.98 239.62,563.98 240.01,563.98" fill="none" stroke="#fff" stroke-width="0.3" stroke-linejoin="round" stroke-opacity="0.45"/>
<text x="164.00" y="545.50" font-family="Liberation Sans" font-size="4.5" font-weight="normal" fill="#9a5ae6" text-anchor="middle" >25.7</text>
<text x="164.00" y="550.10" font-family="Liberation Sans" font-size="4.5" font-weight="normal" fill="#9a5ae6" text-anchor="middle" >-5.2 ppm</text>
<text x="189.50" y="485.00" font-family="Liberation Sans" font-size="4.5" font-weight="normal" fill="#9a5ae6" text-anchor="middle" >26.2</text>
<text x="189.50" y="489.60" font-family="Liberation Sans" font-size="4.5" font-weight="normal" fill="#9a5ae6" text-anchor="middle" >-2.7 ppm</text>
<text x="218.20" y="549.30" font-family="Liberation Sans" font-size="4.5" font-weight="normal" fill="#9a5ae6" text-anchor="middle" >26.7</text>
<text x="218.20" y="553.90" font-family="Liberation Sans" font-size="4.5" font-weight="normal" fill="#9a5ae6" text-anchor="middle" >+2.9 ppm</text>
<polygon points="185.00,492.20 188.20,493.30 185.00,494.40" fill="#000" stroke="none" stroke-width="1" stroke-linejoin="miter" />
<line x1="275.00" y1="478.40" x2="275.00" y2="564.00" stroke="#555" stroke-width="0.6" />
<line x1="275.00" y1="564.00" x2="363.50" y2="564.00" stroke="#555" stroke-width="0.6" />
<line x1="273.40" y1="564.00" x2="275.00" y2="564.00" stroke="#555" stroke-width="0.5" />
<text x="271.70" y="565.70" font-family="Liberation Sans" font-size="5.0" font-weight="normal" fill="#222" text-anchor="end" >0</text>
<line x1="273.40" y1="555.44" x2="275.00" y2="555.44" stroke="#555" stroke-width="0.5" />
<text x="271.70" y="557.14" font-family="Liberation Sans" font-size="5.0" font-weight="normal" fill="#222" text-anchor="end" >0.1</text>
<line x1="273.40" y1="546.88" x2="275.00" y2="546.88" stroke="#555" stroke-width="0.5" />
<text x="271.70" y="548.58" font-family="Liberation Sans" font-size="5.0" font-weight="normal" fill="#222" text-anchor="end" >0.2</text>
<line x1="273.40" y1="538.32" x2="275.00" y2="538.32" stroke="#555" stroke-width="0.5" />
<text x="271.70" y="540.02" font-family="Liberation Sans" font-size="5.0" font-weight="normal" fill="#222" text-anchor="end" >0.3</text>
<line x1="273.40" y1="529.76" x2="275.00" y2="529.76" stroke="#555" stroke-width="0.5" />
<text x="271.70" y="531.46" font-family="Liberation Sans" font-size="5.0" font-weight="normal" fill="#222" text-anchor="end" >0.4</text>
<line x1="273.40" y1="521.20" x2="275.00" y2="521.20" stroke="#555" stroke-width="0.5" />
<text x="271.70" y="522.90" font-family="Liberation Sans" font-size="5.0" font-weight="normal" fill="#222" text-anchor="end" >0.5</text>
<line x1="273.40" y1="512.64" x2="275.00" y2="512.64" stroke="#555" stroke-width="0.5" />
<text x="271.70" y="514.34" font-family="Liberation Sans" font-size="5.0" font-weight="normal" fill="#222" text-anchor="end" >0.6</text>
<line x1="273.40" y1="504.08" x2="275.00" y2="504.08" stroke="#555" stroke-width="0.5" />
<text x="271.70" y="505.78" font-family="Liberation Sans" font-size="5.0" font-weight="normal" fill="#222" text-anchor="end" >0.7</text>
<line x1="273.40" y1="495.52" x2="275.00" y2="495.52" stroke="#555" stroke-width="0.5" />
<text x="271.70" y="497.22" font-family="Liberation Sans" font-size="5.0" font-weight="normal" fill="#222" text-anchor="end" >0.8</text>
<line x1="273.40" y1="486.96" x2="275.00" y2="486.96" stroke="#555" stroke-width="0.5" />
<text x="271.70" y="488.66" font-family="Liberation Sans" font-size="5.0" font-weight="normal" fill="#222" text-anchor="end" >0.9</text>
<line x1="273.40" y1="478.40" x2="275.00" y2="478.40" stroke="#555" stroke-width="0.5" />
<text x="271.70" y="480.10" font-family="Liberation Sans" font-size="5.0" font-weight="normal" fill="#222" text-anchor="end" >1</text>
<line x1="274.10" y1="562.29" x2="275.00" y2="562.29" stroke="#777" stroke-width="0.4" />
<line x1="274.10" y1="560.58" x2="275.00" y2="560.58" stroke="#777" stroke-width="0.4" />
<line x1="274.10" y1="558.86" x2="275.00" y2="558.86" stroke="#777" stroke-width="0.4" />
<line x1="274.10" y1="557.15" x2="275.00" y2="557.15" stroke="#777" stroke-width="0.4" />
<line x1="274.10" y1="553.73" x2="275.00" y2="553.73" stroke="#777" stroke-width="0.4" />
<line x1="274.10" y1="552.02" x2="275.00" y2="552.02" stroke="#777" stroke-width="0.4" />
<line x1="274.10" y1="550.30" x2="275.00" y2="550.30" stroke="#777" stroke-width="0.4" />
<line x1="274.10" y1="548.59" x2="275.00" y2="548.59" stroke="#777" stroke-width="0.4" />
<line x1="274.10" y1="545.17" x2="275.00" y2="545.17" stroke="#777" stroke-width="0.4" />
<line x1="274.10" y1="543.46" x2="275.00" y2="543.46" stroke="#777" stroke-width="0.4" />
<line x1="274.10" y1="541.74" x2="275.00" y2="541.74" stroke="#777" stroke-width="0.4" />
<line x1="274.10" y1="540.03" x2="275.00" y2="540.03" stroke="#777" stroke-width="0.4" />
<line x1="274.10" y1="536.61" x2="275.00" y2="536.61" stroke="#777" stroke-width="0.4" />
<line x1="274.10" y1="534.90" x2="275.00" y2="534.90" stroke="#777" stroke-width="0.4" />
<line x1="274.10" y1="533.18" x2="275.00" y2="533.18" stroke="#777" stroke-width="0.4" />
<line x1="274.10" y1="531.47" x2="275.00" y2="531.47" stroke="#777" stroke-width="0.4" />
<line x1="274.10" y1="528.05" x2="275.00" y2="528.05" stroke="#777" stroke-width="0.4" />
<line x1="274.10" y1="526.34" x2="275.00" y2="526.34" stroke="#777" stroke-width="0.4" />
<line x1="274.10" y1="524.62" x2="275.00" y2="524.62" stroke="#777" stroke-width="0.4" />
<line x1="274.10" y1="522.91" x2="275.00" y2="522.91" stroke="#777" stroke-width="0.4" />
<line x1="274.10" y1="519.49" x2="275.00" y2="519.49" stroke="#777" stroke-width="0.4" />
<line x1="274.10" y1="517.78" x2="275.00" y2="517.78" stroke="#777" stroke-width="0.4" />
<line x1="274.10" y1="516.06" x2="275.00" y2="516.06" stroke="#777" stroke-width="0.4" />
<line x1="274.10" y1="514.35" x2="275.00" y2="514.35" stroke="#777" stroke-width="0.4" />
<line x1="274.10" y1="510.93" x2="275.00" y2="510.93" stroke="#777" stroke-width="0.4" />
<line x1="274.10" y1="509.22" x2="275.00" y2="509.22" stroke="#777" stroke-width="0.4" />
<line x1="274.10" y1="507.50" x2="275.00" y2="507.50" stroke="#777" stroke-width="0.4" />
<line x1="274.10" y1="505.79" x2="275.00" y2="505.79" stroke="#777" stroke-width="0.4" />
<line x1="274.10" y1="502.37" x2="275.00" y2="502.37" stroke="#777" stroke-width="0.4" />
<line x1="274.10" y1="500.66" x2="275.00" y2="500.66" stroke="#777" stroke-width="0.4" />
<line x1="274.10" y1="498.94" x2="275.00" y2="498.94" stroke="#777" stroke-width="0.4" />
<line x1="274.10" y1="497.23" x2="275.00" y2="497.23" stroke="#777" stroke-width="0.4" />
<line x1="274.10" y1="493.81" x2="275.00" y2="493.81" stroke="#777" stroke-width="0.4" />
<line x1="274.10" y1="492.10" x2="275.00" y2="492.10" stroke="#777" stroke-width="0.4" />
<line x1="274.10" y1="490.38" x2="275.00" y2="490.38" stroke="#777" stroke-width="0.4" />
<line x1="274.10" y1="488.67" x2="275.00" y2="488.67" stroke="#777" stroke-width="0.4" />
<line x1="274.10" y1="485.25" x2="275.00" y2="485.25" stroke="#777" stroke-width="0.4" />
<line x1="274.10" y1="483.54" x2="275.00" y2="483.54" stroke="#777" stroke-width="0.4" />
<line x1="274.10" y1="481.82" x2="275.00" y2="481.82" stroke="#777" stroke-width="0.4" />
<line x1="274.10" y1="480.11" x2="275.00" y2="480.11" stroke="#777" stroke-width="0.4" />
<line x1="275.80" y1="564.00" x2="275.80" y2="565.60" stroke="#555" stroke-width="0.5" />
<text x="275.80" y="570.90" font-family="Liberation Sans" font-size="5.0" font-weight="normal" fill="#222" text-anchor="middle" >25.5</text>
<line x1="302.85" y1="564.00" x2="302.85" y2="565.60" stroke="#555" stroke-width="0.5" />
<text x="302.85" y="570.90" font-family="Liberation Sans" font-size="5.0" font-weight="normal" fill="#222" text-anchor="middle" >26.0</text>
<line x1="329.90" y1="564.00" x2="329.90" y2="565.60" stroke="#555" stroke-width="0.5" />
<text x="329.90" y="570.90" font-family="Liberation Sans" font-size="5.0" font-weight="normal" fill="#222" text-anchor="middle" >26.5</text>
<line x1="356.95" y1="564.00" x2="356.95" y2="565.60" stroke="#555" stroke-width="0.5" />
<text x="356.95" y="570.90" font-family="Liberation Sans" font-size="5.0" font-weight="normal" fill="#222" text-anchor="middle" >27.0</text>
<text x="319.25" y="578.30" font-family="Liberation Sans" font-size="5.0" font-weight="bold" fill="#222" text-anchor="middle" textLength="34.00" lengthAdjust="spacingAndGlyphs" >Retention Time</text>
<text x="0" y="0" transform="translate(259.2,521.2) rotate(-90)" font-family="Liberation Sans" font-size="5.4" font-weight="bold" fill="#111" text-anchor="middle" textLength="35" lengthAdjust="spacingAndGlyphs">Intensity (10^6)</text>
<line x1="280.00" y1="540.00" x2="280.00" y2="564.00" stroke="#e4e4e4" stroke-width="0.6" />
<line x1="294.00" y1="540.00" x2="294.00" y2="564.00" stroke="#e4e4e4" stroke-width="0.6" />
<line x1="338.00" y1="540.00" x2="338.00" y2="564.00" stroke="#e4e4e4" stroke-width="0.6" />
<line x1="352.00" y1="540.00" x2="352.00" y2="564.00" stroke="#e4e4e4" stroke-width="0.6" />
<line x1="305.50" y1="490.00" x2="305.50" y2="564.00" stroke="#666" stroke-width="0.7" />
<line x1="332.60" y1="490.00" x2="332.60" y2="564.00" stroke="#666" stroke-width="0.7" />
<polyline points="274.82,564.00 275.25,564.00 275.68,564.00 276.11,564.00 276.54,564.00 276.97,564.00 277.40,564.00 277.83,564.00 278.26,564.00 278.69,564.00 279.12,564.00 279.55,564.00 279.98,564.00 280.41,564.00 280.84,564.00 281.27,564.00 281.70,564.00 282.13,564.00 282.56,564.00 282.99,564.00 283.42,564.00 283.85,564.00 284.28,564.00 284.71,564.00 285.14,564.00 285.57,564.00 286.01,564.00 286.44,564.00 286.87,564.00 287.30,564.00 287.73,564.00 288.16,564.00 288.59,564.00 289.02,564.00 289.45,564.00 289.88,564.00 290.31,564.00 290.74,564.00 291.17,564.00 291.60,564.00 292.03,564.00 292.46,564.00 292.89,564.00 293.32,564.00 293.75,564.00 294.18,564.00 294.61,564.00 295.04,564.00 295.47,564.00 295.90,564.00 296.33,564.00 296.76,564.00 297.19,564.00 297.62,564.00 298.05,564.00 298.49,564.00 298.92,564.00 299.35,564.00 299.78,564.00 300.21,564.00 300.64,564.00 301.07,564.00 301.50,564.00 301.93,564.00 302.36,564.00 302.79,564.00 303.22,564.00 303.65,564.00 304.08,564.00 304.51,564.00 304.94,564.00 305.37,564.00 305.80,563.99 306.23,563.99 306.66,563.97 307.09,563.94 307.52,563.89 307.95,563.78 308.38,563.60 308.81,563.32 309.24,562.88 309.67,562.27 310.10,561.44 310.53,560.42 310.96,559.23 311.40,557.98 311.83,556.77 312.26,555.76 312.69,555.09 313.12,554.84 313.55,555.15 313.98,555.49 314.41,555.86 314.84,556.24 315.27,556.65 315.70,557.08 316.13,557.51 316.56,557.96 316.99,558.40 317.42,558.83 317.85,559.26 318.28,559.67 318.71,560.07 319.14,560.44 319.57,560.79 320.00,561.11 320.43,561.41 320.86,561.68 321.29,561.92 321.72,562.14 322.15,562.34 322.58,562.51 323.01,562.66 323.44,562.80 323.88,562.92 324.31,563.02 324.74,563.11 325.17,563.19 325.60,563.26 326.03,563.32 326.46,563.37 326.89,563.42 327.32,563.46 327.75,563.50 328.18,563.54 328.61,563.57 329.04,563.60 329.47,563.63 329.90,563.65 330.33,563.67 330.76,563.70 331.19,563.72 331.62,563.73 332.05,563.75 332.48,563.77 332.91,563.78 333.34,563.80 333.77,563.81 334.20,563.82 334.63,563.83 335.06,563.84 335.49,563.85 335.92,563.86 336.36,563.87 336.79,563.88 337.22,563.89 337.65,563.90 338.08,563.90 338.51,563.91 338.94,563.91 339.37,563.92 339.80,563.92 340.23,563.93 340.66,563.93 341.09,563.94 341.52,563.94 341.95,563.95 342.38,563.95 342.81,563.95 343.24,563.96 343.67,563.96 344.10,563.96 344.53,563.96 344.96,563.97 345.39,563.97 345.82,563.97 346.25,563.97 346.68,563.97 347.11,563.98 347.54,563.98 347.97,563.98 348.40,563.98 348.83,563.98 349.27,563.98 349.70,563.98 350.13,563.98 350.56,563.99 350.99,563.99 351.42,563.99 351.85,563.99 352.28,563.99 352.71,563.99 353.14,563.99 353.57,563.99 354.00,563.99 354.43,563.99 354.86,563.99 355.29,563.99 355.72,563.99 356.15,563.99 356.58,563.99 357.01,563.99 357.44,564.00 357.87,564.00 358.30,564.00 358.73,564.00 359.16,564.00 359.59,564.00 360.02,564.00 360.45,564.00 360.88,564.00 361.31,564.00 361.75,564.00 362.18,564.00 362.61,564.00 363.04,564.00 363.47,564.00" fill="none" stroke="#e08a40" stroke-width="0.85" stroke-linejoin="round" />
<polyline points="274.82,564.00 275.25,564.00 275.68,564.00 276.11,564.00 276.54,564.00 276.97,564.00 277.40,564.00 277.83,564.00 278.26,564.00 278.69,564.00 279.12,564.00 279.55,564.00 279.98,564.00 280.41,564.00 280.84,564.00 281.27,564.00 281.70,564.00 282.13,564.00 282.56,564.00 282.99,564.00 283.42,564.00 283.85,564.00 284.28,564.00 284.71,564.00 285.14,564.00 285.57,564.00 286.01,564.00 286.44,564.00 286.87,564.00 287.30,564.00 287.73,564.00 288.16,564.00 288.59,564.00 289.02,564.00 289.45,564.00 289.88,564.00 290.31,564.00 290.74,564.00 291.17,564.00 291.60,564.00 292.03,564.00 292.46,564.00 292.89,564.00 293.32,564.00 293.75,564.00 294.18,564.00 294.61,564.00 295.04,564.00 295.47,564.00 295.90,564.00 296.33,564.00 296.76,564.00 297.19,564.00 297.62,564.00 298.05,564.00 298.49,564.00 298.92,564.00 299.35,564.00 299.78,564.00 300.21,564.00 300.64,564.00 301.07,564.00 301.50,564.00 301.93,564.00 302.36,564.00 302.79,564.00 303.22,564.00 303.65,564.00 304.08,564.00 304.51,564.00 304.94,564.00 305.37,564.00 305.80,563.99 306.23,563.99 306.66,563.97 307.09,563.94 307.52,563.89 307.95,563.78 308.38,563.60 308.81,563.32 309.24,562.88 309.67,562.27 310.10,561.44 310.53,560.42 310.96,559.23 311.40,557.98 311.83,556.77 312.26,555.76 312.69,555.09 313.12,554.84 313.55,555.15 313.98,555.49 314.41,555.86 314.84,556.24 315.27,556.65 315.70,557.08 316.13,557.51 316.56,557.96 316.99,558.40 317.42,558.83 317.85,559.26 318.28,559.67 318.71,560.07 319.14,560.44 319.57,560.79 320.00,561.11 320.43,561.41 320.86,561.68 321.29,561.92 321.72,562.14 322.15,562.34 322.58,562.51 323.01,562.66 323.44,562.80 323.88,562.92 324.31,563.02 324.74,563.11 325.17,563.19 325.60,563.26 326.03,563.32 326.46,563.37 326.89,563.42 327.32,563.46 327.75,563.50 328.18,563.54 328.61,563.57 329.04,563.60 329.47,563.63 329.90,563.65 330.33,563.67 330.76,563.70 331.19,563.72 331.62,563.73 332.05,563.75 332.48,563.77 332.91,563.78 333.34,563.80 333.77,563.81 334.20,563.82 334.63,563.83 335.06,563.84 335.49,563.85 335.92,563.86 336.36,563.87 336.79,563.88 337.22,563.89 337.65,563.90 338.08,563.90 338.51,563.91 338.94,563.91 339.37,563.92 339.80,563.92 340.23,563.93 340.66,563.93 341.09,563.94 341.52,563.94 341.95,563.95 342.38,563.95 342.81,563.95 343.24,563.96 343.67,563.96 344.10,563.96 344.53,563.96 344.96,563.97 345.39,563.97 345.82,563.97 346.25,563.97 346.68,563.97 347.11,563.98 347.54,563.98 347.97,563.98 348.40,563.98 348.83,563.98 349.27,563.98 349.70,563.98 350.13,563.98 350.56,563.99 350.99,563.99 351.42,563.99 351.85,563.99 352.28,563.99 352.71,563.99 353.14,563.99 353.57,563.99 354.00,563.99 354.43,563.99 354.86,563.99 355.29,563.99 355.72,563.99 356.15,563.99 356.58,563.99 357.01,563.99 357.44,564.00 357.87,564.00 358.30,564.00 358.73,564.00 359.16,564.00 359.59,564.00 360.02,564.00 360.45,564.00 360.88,564.00 361.31,564.00 361.75,564.00 362.18,564.00 362.61,564.00 363.04,564.00 363.47,564.00" fill="none" stroke="#fff" stroke-width="0.255" stroke-linejoin="round" stroke-opacity="0.45"/>
<polyline points="274.82,564.00 275.25,564.00 275.68,564.00 276.11,564.00 276.54,564.00 276.97,564.00 277.40,564.00 277.83,564.00 278.26,564.00 278.69,564.00 279.12,564.00 279.55,564.00 279.98,564.00 280.41,564.00 280.84,564.00 281.27,564.00 281.70,564.00 282.13,564.00 282.56,564.00 282.99,564.00 283.42,564.00 283.85,564.00 284.28,564.00 284.71,564.00 285.14,564.00 285.57,564.00 286.01,564.00 286.44,564.00 286.87,564.00 287.30,564.00 287.73,564.00 288.16,564.00 288.59,564.00 289.02,564.00 289.45,564.00 289.88,564.00 290.31,564.00 290.74,564.00 291.17,564.00 291.60,564.00 292.03,564.00 292.46,564.00 292.89,564.00 293.32,564.00 293.75,564.00 294.18,564.00 294.61,564.00 295.04,564.00 295.47,564.00 295.90,564.00 296.33,564.00 296.76,564.00 297.19,564.00 297.62,564.00 298.05,564.00 298.49,564.00 298.92,564.00 299.35,564.00 299.78,564.00 300.21,564.00 300.64,564.00 301.07,564.00 301.50,564.00 301.93,564.00 302.36,564.00 302.79,564.00 303.22,564.00 303.65,564.00 304.08,564.00 304.51,564.00 304.94,564.00 305.37,564.00 305.80,563.99 306.23,563.98 306.66,563.96 307.09,563.92 307.52,563.84 307.95,563.69 308.38,563.44 308.81,563.04 309.24,562.44 309.67,561.57 310.10,560.42 310.53,558.98 310.96,557.32 311.40,555.56 311.83,553.87 312.26,552.45 312.69,551.51 313.12,551.16 313.55,551.59 313.98,552.07 314.41,552.58 314.84,553.13 315.27,553.70 315.70,554.30 316.13,554.91 316.56,555.53 316.99,556.15 317.42,556.76 317.85,557.36 318.28,557.94 318.71,558.49 319.14,559.01 319.57,559.50 320.00,559.95 320.43,560.37 320.86,560.75 321.29,561.09 321.72,561.40 322.15,561.67 322.58,561.91 323.01,562.13 323.44,562.31 323.88,562.48 324.31,562.62 324.74,562.75 325.17,562.86 325.60,562.96 326.03,563.04 326.46,563.12 326.89,563.19 327.32,563.25 327.75,563.30 328.18,563.35 328.61,563.40 329.04,563.44 329.47,563.48 329.90,563.51 330.33,563.54 330.76,563.57 331.19,563.60 331.62,563.63 332.05,563.65 332.48,563.67 332.91,563.69 333.34,563.71 333.77,563.73 334.20,563.75 334.63,563.77 335.06,563.78 335.49,563.80 335.92,563.81 336.36,563.82 336.79,563.83 337.22,563.84 337.65,563.85 338.08,563.86 338.51,563.87 338.94,563.88 339.37,563.89 339.80,563.89 340.23,563.90 340.66,563.91 341.09,563.91 341.52,563.92 341.95,563.92 342.38,563.93 342.81,563.93 343.24,563.94 343.67,563.94 344.10,563.95 344.53,563.95 344.96,563.95 345.39,563.96 345.82,563.96 346.25,563.96 346.68,563.96 347.11,563.97 347.54,563.97 347.97,563.97 348.40,563.97 348.83,563.97 349.27,563.98 349.70,563.98 350.13,563.98 350.56,563.98 350.99,563.98 351.42,563.98 351.85,563.98 352.28,563.98 352.71,563.99 353.14,563.99 353.57,563.99 354.00,563.99 354.43,563.99 354.86,563.99 355.29,563.99 355.72,563.99 356.15,563.99 356.58,563.99 357.01,563.99 357.44,563.99 357.87,563.99 358.30,563.99 358.73,563.99 359.16,563.99 359.59,563.99 360.02,564.00 360.45,564.00 360.88,564.00 361.31,564.00 361.75,564.00 362.18,564.00 362.61,564.00 363.04,564.00 363.47,564.00" fill="none" stroke="#a84028" stroke-width="0.85" stroke-linejoin="round" />
<polyline points="274.82,564.00 275.25,564.00 275.68,564.00 276.11,564.00 276.54,564.00 276.97,564.00 277.40,564.00 277.83,564.00 278.26,564.00 278.69,564.00 279.12,564.00 279.55,564.00 279.98,564.00 280.41,564.00 280.84,564.00 281.27,564.00 281.70,564.00 282.13,564.00 282.56,564.00 282.99,564.00 283.42,564.00 283.85,564.00 284.28,564.00 284.71,564.00 285.14,564.00 285.57,564.00 286.01,564.00 286.44,564.00 286.87,564.00 287.30,564.00 287.73,564.00 288.16,564.00 288.59,564.00 289.02,564.00 289.45,564.00 289.88,564.00 290.31,564.00 290.74,564.00 291.17,564.00 291.60,564.00 292.03,564.00 292.46,564.00 292.89,564.00 293.32,564.00 293.75,564.00 294.18,564.00 294.61,564.00 295.04,564.00 295.47,564.00 295.90,564.00 296.33,564.00 296.76,564.00 297.19,564.00 297.62,564.00 298.05,564.00 298.49,564.00 298.92,564.00 299.35,564.00 299.78,564.00 300.21,564.00 300.64,564.00 301.07,564.00 301.50,564.00 301.93,564.00 302.36,564.00 302.79,564.00 303.22,564.00 303.65,564.00 304.08,564.00 304.51,564.00 304.94,564.00 305.37,564.00 305.80,563.99 306.23,563.98 306.66,563.96 307.09,563.92 307.52,563.84 307.95,563.69 308.38,563.44 308.81,563.04 309.24,562.44 309.67,561.57 310.10,560.42 310.53,558.98 310.96,557.32 311.40,555.56 311.83,553.87 312.26,552.45 312.69,551.51 313.12,551.16 313.55,551.59 313.98,552.07 314.41,552.58 314.84,553.13 315.27,553.70 315.70,554.30 316.13,554.91 316.56,555.53 316.99,556.15 317.42,556.76 317.85,557.36 318.28,557.94 318.71,558.49 319.14,559.01 319.57,559.50 320.00,559.95 320.43,560.37 320.86,560.75 321.29,561.09 321.72,561.40 322.15,561.67 322.58,561.91 323.01,562.13 323.44,562.31 323.88,562.48 324.31,562.62 324.74,562.75 325.17,562.86 325.60,562.96 326.03,563.04 326.46,563.12 326.89,563.19 327.32,563.25 327.75,563.30 328.18,563.35 328.61,563.40 329.04,563.44 329.47,563.48 329.90,563.51 330.33,563.54 330.76,563.57 331.19,563.60 331.62,563.63 332.05,563.65 332.48,563.67 332.91,563.69 333.34,563.71 333.77,563.73 334.20,563.75 334.63,563.77 335.06,563.78 335.49,563.80 335.92,563.81 336.36,563.82 336.79,563.83 337.22,563.84 337.65,563.85 338.08,563.86 338.51,563.87 338.94,563.88 339.37,563.89 339.80,563.89 340.23,563.90 340.66,563.91 341.09,563.91 341.52,563.92 341.95,563.92 342.38,563.93 342.81,563.93 343.24,563.94 343.67,563.94 344.10,563.95 344.53,563.95 344.96,563.95 345.39,563.96 345.82,563.96 346.25,563.96 346.68,563.96 347.11,563.97 347.54,563.97 347.97,563.97 348.40,563.97 348.83,563.97 349.27,563.98 349.70,563.98 350.13,563.98 350.56,563.98 350.99,563.98 351.42,563.98 351.85,563.98 352.28,563.98 352.71,563.99 353.14,563.99 353.57,563.99 354.00,563.99 354.43,563.99 354.86,563.99 355.29,563.99 355.72,563.99 356.15,563.99 356.58,563.99 357.01,563.99 357.44,563.99 357.87,563.99 358.30,563.99 358.73,563.99 359.16,563.99 359.59,563.99 360.02,564.00 360.45,564.00 360.88,564.00 361.31,564.00 361.75,564.00 362.18,564.00 362.61,564.00 363.04,564.00 363.47,564.00" fill="none" stroke="#fff" stroke-width="0.255" stroke-linejoin="round" stroke-opacity="0.45"/>
<polyline points="274.82,564.00 275.25,564.00 275.68,564.00 276.11,564.00 276.54,564.00 276.97,564.00 277.40,564.00 277.83,564.00 278.26,564.00 278.69,564.00 279.12,564.00 279.55,564.00 279.98,564.00 280.41,564.00 280.84,564.00 281.27,564.00 281.70,564.00 282.13,564.00 282.56,564.00 282.99,564.00 283.42,564.00 283.85,564.00 284.28,564.00 284.71,564.00 285.14,564.00 285.57,564.00 286.01,564.00 286.44,564.00 286.87,564.00 287.30,564.00 287.73,564.00 288.16,564.00 288.59,564.00 289.02,564.00 289.45,564.00 289.88,564.00 290.31,564.00 290.74,564.00 291.17,564.00 291.60,564.00 292.03,564.00 292.46,564.00 292.89,564.00 293.32,564.00 293.75,564.00 294.18,564.00 294.61,564.00 295.04,564.00 295.47,564.00 295.90,564.00 296.33,564.00 296.76,564.00 297.19,564.00 297.62,564.00 298.05,564.00 298.49,564.00 298.92,564.00 299.35,564.00 299.78,564.00 300.21,564.00 300.64,564.00 301.07,564.00 301.50,564.00 301.93,564.00 302.36,564.00 302.79,564.00 303.22,564.00 303.65,564.00 304.08,564.00 304.51,564.00 304.94,564.00 305.37,563.99 305.80,563.97 306.23,563.93 306.66,563.86 307.09,563.70 307.52,563.43 307.95,562.94 308.38,562.13 308.81,560.89 309.24,559.07 309.67,556.59 310.10,553.42 310.53,549.65 310.96,545.52 311.40,541.39 311.83,537.74 312.26,535.03 312.69,533.65 313.12,534.15 313.55,535.25 313.98,536.44 314.41,537.71 314.84,539.04 315.27,540.44 315.70,541.88 316.13,543.34 316.56,544.81 316.99,546.28 317.42,547.71 317.85,549.10 318.28,550.44 318.71,551.71 319.14,552.90 319.57,554.01 320.00,555.03 320.43,555.96 320.86,556.80 321.29,557.56 321.72,558.24 322.15,558.84 322.58,559.37 323.01,559.84 323.44,560.25 323.88,560.61 324.31,560.93 324.74,561.20 325.17,561.44 325.60,561.66 326.03,561.85 326.46,562.01 326.89,562.16 327.32,562.30 327.75,562.42 328.18,562.53 328.61,562.63 329.04,562.73 329.47,562.81 329.90,562.89 330.33,562.96 330.76,563.03 331.19,563.09 331.62,563.15 332.05,563.21 332.48,563.26 332.91,563.31 333.34,563.35 333.77,563.39 334.20,563.43 334.63,563.47 335.06,563.50 335.49,563.53 335.92,563.56 336.36,563.59 336.79,563.62 337.22,563.64 337.65,563.67 338.08,563.69 338.51,563.71 338.94,563.73 339.37,563.74 339.80,563.76 340.23,563.78 340.66,563.79 341.09,563.80 341.52,563.82 341.95,563.83 342.38,563.84 342.81,563.85 343.24,563.86 343.67,563.87 344.10,563.88 344.53,563.88 344.96,563.89 345.39,563.90 345.82,563.91 346.25,563.91 346.68,563.92 347.11,563.92 347.54,563.93 347.97,563.93 348.40,563.94 348.83,563.94 349.27,563.94 349.70,563.95 350.13,563.95 350.56,563.95 350.99,563.96 351.42,563.96 351.85,563.96 352.28,563.96 352.71,563.97 353.14,563.97 353.57,563.97 354.00,563.97 354.43,563.97 354.86,563.98 355.29,563.98 355.72,563.98 356.15,563.98 356.58,563.98 357.01,563.98 357.44,563.98 357.87,563.99 358.30,563.99 358.73,563.99 359.16,563.99 359.59,563.99 360.02,563.99 360.45,563.99 360.88,563.99 361.31,563.99 361.75,563.99 362.18,563.99 362.61,563.99 363.04,563.99 363.47,563.99" fill="none" stroke="#2a3af0" stroke-width="1.0" stroke-linejoin="round" />
<polyline points="274.82,564.00 275.25,564.00 275.68,564.00 276.11,564.00 276.54,564.00 276.97,564.00 277.40,564.00 277.83,564.00 278.26,564.00 278.69,564.00 279.12,564.00 279.55,564.00 279.98,564.00 280.41,564.00 280.84,564.00 281.27,564.00 281.70,564.00 282.13,564.00 282.56,564.00 282.99,564.00 283.42,564.00 283.85,564.00 284.28,564.00 284.71,564.00 285.14,564.00 285.57,564.00 286.01,564.00 286.44,564.00 286.87,564.00 287.30,564.00 287.73,564.00 288.16,564.00 288.59,564.00 289.02,564.00 289.45,564.00 289.88,564.00 290.31,564.00 290.74,564.00 291.17,564.00 291.60,564.00 292.03,564.00 292.46,564.00 292.89,564.00 293.32,564.00 293.75,564.00 294.18,564.00 294.61,564.00 295.04,564.00 295.47,564.00 295.90,564.00 296.33,564.00 296.76,564.00 297.19,564.00 297.62,564.00 298.05,564.00 298.49,564.00 298.92,564.00 299.35,564.00 299.78,564.00 300.21,564.00 300.64,564.00 301.07,564.00 301.50,564.00 301.93,564.00 302.36,564.00 302.79,564.00 303.22,564.00 303.65,564.00 304.08,564.00 304.51,564.00 304.94,564.00 305.37,563.99 305.80,563.97 306.23,563.93 306.66,563.86 307.09,563.70 307.52,563.43 307.95,562.94 308.38,562.13 308.81,560.89 309.24,559.07 309.67,556.59 310.10,553.42 310.53,549.65 310.96,545.52 311.40,541.39 311.83,537.74 312.26,535.03 312.69,533.65 313.12,534.15 313.55,535.25 313.98,536.44 314.41,537.71 314.84,539.04 315.27,540.44 315.70,541.88 316.13,543.34 316.56,544.81 316.99,546.28 317.42,547.71 317.85,549.10 318.28,550.44 318.71,551.71 319.14,552.90 319.57,554.01 320.00,555.03 320.43,555.96 320.86,556.80 321.29,557.56 321.72,558.24 322.15,558.84 322.58,559.37 323.01,559.84 323.44,560.25 323.88,560.61 324.31,560.93 324.74,561.20 325.17,561.44 325.60,561.66 326.03,561.85 326.46,562.01 326.89,562.16 327.32,562.30 327.75,562.42 328.18,562.53 328.61,562.63 329.04,562.73 329.47,562.81 329.90,562.89 330.33,562.96 330.76,563.03 331.19,563.09 331.62,563.15 332.05,563.21 332.48,563.26 332.91,563.31 333.34,563.35 333.77,563.39 334.20,563.43 334.63,563.47 335.06,563.50 335.49,563.53 335.92,563.56 336.36,563.59 336.79,563.62 337.22,563.64 337.65,563.67 338.08,563.69 338.51,563.71 338.94,563.73 339.37,563.74 339.80,563.76 340.23,563.78 340.66,563.79 341.09,563.80 341.52,563.82 341.95,563.83 342.38,563.84 342.81,563.85 343.24,563.86 343.67,563.87 344.10,563.88 344.53,563.88 344.96,563.89 345.39,563.90 345.82,563.91 346.25,563.91 346.68,563.92 347.11,563.92 347.54,563.93 347.97,563.93 348.40,563.94 348.83,563.94 349.27,563.94 349.70,563.95 350.13,563.95 350.56,563.95 350.99,563.96 351.42,563.96 351.85,563.96 352.28,563.96 352.71,563.97 353.14,563.97 353.57,563.97 354.00,563.97 354.43,563.97 354.86,563.98 355.29,563.98 355.72,563.98 356.15,563.98 356.58,563.98 357.01,563.98 357.44,563.98 357.87,563.99 358.30,563.99 358.73,563.99 359.16,563.99 359.59,563.99 360.02,563.99 360.45,563.99 360.88,563.99 361.31,563.99 361.75,563.99 362.18,563.99 362.61,563.99 363.04,563.99 363.47,563.99" fill="none" stroke="#fff" stroke-width="0.3" stroke-linejoin="round" stroke-opacity="0.45"/>
<polyline points="275.07,562.78 275.46,563.79 275.86,563.19 276.25,562.64 276.65,563.17 277.04,563.03 277.43,564.00 277.83,563.86 278.22,564.00 278.62,563.83 279.01,563.75 279.41,564.00 279.80,564.00 280.20,563.73 280.59,562.64 280.98,562.47 281.38,562.75 281.77,561.29 282.17,561.34 282.56,559.76 282.96,559.26 283.35,558.16 283.75,555.69 284.14,555.15 284.53,553.78 284.93,551.55 285.32,550.64 285.72,550.61 286.11,549.30 286.51,549.75 286.90,549.80 287.30,550.92 287.69,550.74 288.09,552.04 288.48,552.81 288.87,554.12 289.27,556.13 289.66,557.28 290.06,558.69 290.45,559.77 290.85,560.80 291.24,561.28 291.64,561.54 292.03,562.82 292.42,562.33 292.82,563.02 293.21,563.21 293.61,562.62 294.00,563.02 294.40,563.13 294.79,562.75 295.19,562.23 295.58,562.76 295.97,561.22 296.37,562.02 296.76,560.61 297.16,559.96 297.55,560.43 297.95,558.82 298.34,558.69 298.74,557.73 299.13,557.76 299.53,557.01 299.92,556.16 300.31,554.52 300.71,554.91 301.10,553.67 301.50,553.01 301.89,552.65 302.29,553.19 302.68,553.07 303.08,552.95 303.47,553.30 303.86,555.35 304.26,556.04 304.65,557.61 305.05,559.07 305.44,561.44 305.84,561.28 306.23,563.06 306.63,563.09 307.02,562.75 307.41,562.00 307.81,561.95 308.20,559.84 308.60,558.24 308.99,555.53 309.39,551.40 309.78,546.23 310.18,539.74 310.57,531.93 310.96,522.72 311.36,513.56 311.75,506.29 312.15,499.29 312.54,492.85 312.94,490.68 313.33,491.67 313.73,494.27 314.12,496.32 314.52,498.68 314.91,501.93 315.30,504.86 315.70,508.31 316.09,510.25 316.49,514.47 316.88,516.98 317.28,519.63 317.67,523.59 318.07,525.81 318.46,528.43 318.85,531.64 319.25,534.11 319.64,537.52 320.04,539.48 320.43,542.07 320.83,543.25 321.22,545.86 321.62,547.40 322.01,548.29 322.40,549.92 322.80,551.06 323.19,552.89 323.59,553.90 323.98,554.52 324.38,555.67 324.77,556.65 325.17,557.16 325.56,558.08 325.96,558.30 326.35,557.98 326.74,558.43 327.14,559.23 327.53,559.73 327.93,560.23 328.32,560.83 328.72,560.84 329.11,560.41 329.51,560.51 329.90,561.35 330.29,560.98 330.69,561.16 331.08,561.42 331.48,561.60 331.87,561.61 332.27,562.24 332.66,561.92 333.06,562.57 333.45,562.41 333.84,562.14 334.24,562.33 334.63,562.92 335.03,562.16 335.42,562.61 335.82,562.77 336.21,563.55 336.61,562.91 337.00,563.31 337.40,562.77 337.79,563.00 338.18,562.45 338.58,562.51 338.97,562.06 339.37,562.27 339.76,561.40 340.16,560.65 340.55,559.76 340.95,559.49 341.34,557.88 341.73,556.83 342.13,556.09 342.52,554.86 342.92,554.21 343.31,554.36 343.71,554.21 344.10,554.81 344.50,554.26 344.89,554.62 345.28,555.85 345.68,556.31 346.07,557.09 346.47,557.92 346.86,559.47 347.26,559.49 347.65,560.48 348.05,561.03 348.44,561.92 348.83,562.14 349.23,562.34 349.62,562.84 350.02,562.98 350.41,564.00 350.81,564.00 351.20,563.77 351.60,563.58 351.99,564.00 352.39,563.62 352.78,563.72 353.17,564.00 353.57,563.95 353.96,564.00 354.36,564.00 354.75,564.00 355.15,564.00 355.54,564.00 355.94,564.00 356.33,564.00 356.72,564.00 357.12,564.00 357.51,563.82 357.91,563.85 358.30,564.00 358.70,563.45 359.09,564.00 359.49,564.00 359.88,564.00 360.27,564.00 360.67,564.00 361.06,563.55 361.46,564.00 361.85,564.00 362.25,563.84 362.64,564.00 363.04,563.93 363.43,564.00" fill="none" stroke="#8f48e0" stroke-width="1.0" stroke-linejoin="round" />
<polyline points="275.07,562.78 275.46,563.79 275.86,563.19 276.25,562.64 276.65,563.17 277.04,563.03 277.43,564.00 277.83,563.86 278.22,564.00 278.62,563.83 279.01,563.75 279.41,564.00 279.80,564.00 280.20,563.73 280.59,562.64 280.98,562.47 281.38,562.75 281.77,561.29 282.17,561.34 282.56,559.76 282.96,559.26 283.35,558.16 283.75,555.69 284.14,555.15 284.53,553.78 284.93,551.55 285.32,550.64 285.72,550.61 286.11,549.30 286.51,549.75 286.90,549.80 287.30,550.92 287.69,550.74 288.09,552.04 288.48,552.81 288.87,554.12 289.27,556.13 289.66,557.28 290.06,558.69 290.45,559.77 290.85,560.80 291.24,561.28 291.64,561.54 292.03,562.82 292.42,562.33 292.82,563.02 293.21,563.21 293.61,562.62 294.00,563.02 294.40,563.13 294.79,562.75 295.19,562.23 295.58,562.76 295.97,561.22 296.37,562.02 296.76,560.61 297.16,559.96 297.55,560.43 297.95,558.82 298.34,558.69 298.74,557.73 299.13,557.76 299.53,557.01 299.92,556.16 300.31,554.52 300.71,554.91 301.10,553.67 301.50,553.01 301.89,552.65 302.29,553.19 302.68,553.07 303.08,552.95 303.47,553.30 303.86,555.35 304.26,556.04 304.65,557.61 305.05,559.07 305.44,561.44 305.84,561.28 306.23,563.06 306.63,563.09 307.02,562.75 307.41,562.00 307.81,561.95 308.20,559.84 308.60,558.24 308.99,555.53 309.39,551.40 309.78,546.23 310.18,539.74 310.57,531.93 310.96,522.72 311.36,513.56 311.75,506.29 312.15,499.29 312.54,492.85 312.94,490.68 313.33,491.67 313.73,494.27 314.12,496.32 314.52,498.68 314.91,501.93 315.30,504.86 315.70,508.31 316.09,510.25 316.49,514.47 316.88,516.98 317.28,519.63 317.67,523.59 318.07,525.81 318.46,528.43 318.85,531.64 319.25,534.11 319.64,537.52 320.04,539.48 320.43,542.07 320.83,543.25 321.22,545.86 321.62,547.40 322.01,548.29 322.40,549.92 322.80,551.06 323.19,552.89 323.59,553.90 323.98,554.52 324.38,555.67 324.77,556.65 325.17,557.16 325.56,558.08 325.96,558.30 326.35,557.98 326.74,558.43 327.14,559.23 327.53,559.73 327.93,560.23 328.32,560.83 328.72,560.84 329.11,560.41 329.51,560.51 329.90,561.35 330.29,560.98 330.69,561.16 331.08,561.42 331.48,561.60 331.87,561.61 332.27,562.24 332.66,561.92 333.06,562.57 333.45,562.41 333.84,562.14 334.24,562.33 334.63,562.92 335.03,562.16 335.42,562.61 335.82,562.77 336.21,563.55 336.61,562.91 337.00,563.31 337.40,562.77 337.79,563.00 338.18,562.45 338.58,562.51 338.97,562.06 339.37,562.27 339.76,561.40 340.16,560.65 340.55,559.76 340.95,559.49 341.34,557.88 341.73,556.83 342.13,556.09 342.52,554.86 342.92,554.21 343.31,554.36 343.71,554.21 344.10,554.81 344.50,554.26 344.89,554.62 345.28,555.85 345.68,556.31 346.07,557.09 346.47,557.92 346.86,559.47 347.26,559.49 347.65,560.48 348.05,561.03 348.44,561.92 348.83,562.14 349.23,562.34 349.62,562.84 350.02,562.98 350.41,564.00 350.81,564.00 351.20,563.77 351.60,563.58 351.99,564.00 352.39,563.62 352.78,563.72 353.17,564.00 353.57,563.95 353.96,564.00 354.36,564.00 354.75,564.00 355.15,564.00 355.54,564.00 355.94,564.00 356.33,564.00 356.72,564.00 357.12,564.00 357.51,563.82 357.91,563.85 358.30,564.00 358.70,563.45 359.09,564.00 359.49,564.00 359.88,564.00 360.27,564.00 360.67,564.00 361.06,563.55 361.46,564.00 361.85,564.00 362.25,563.84 362.64,564.00 363.04,563.93 363.43,564.00" fill="none" stroke="#fff" stroke-width="0.3" stroke-linejoin="round" stroke-opacity="0.45"/>
<text x="285.30" y="542.00" font-family="Liberation Sans" font-size="4.5" font-weight="normal" fill="#9a5ae6" text-anchor="middle" >25.7</text>
<text x="285.30" y="546.60" font-family="Liberation Sans" font-size="4.5" font-weight="normal" fill="#9a5ae6" text-anchor="middle" >-5.1 ppm</text>
<text x="313.20" y="482.70" font-family="Liberation Sans" font-size="4.5" font-weight="normal" fill="#9a5ae6" text-anchor="middle" >26.2</text>
<text x="313.20" y="487.30" font-family="Liberation Sans" font-size="4.5" font-weight="normal" fill="#9a5ae6" text-anchor="middle" >-1.7 ppm</text>
<text x="343.20" y="545.90" font-family="Liberation Sans" font-size="4.5" font-weight="normal" fill="#9a5ae6" text-anchor="middle" >26.7</text>
<text x="343.20" y="550.50" font-family="Liberation Sans" font-size="4.5" font-weight="normal" fill="#9a5ae6" text-anchor="middle" >+1.7 ppm</text>
<polygon points="308.90,488.90 312.10,490.00 308.90,491.10" fill="#000" stroke="none" stroke-width="1" stroke-linejoin="miter" />
</svg></body></html>
